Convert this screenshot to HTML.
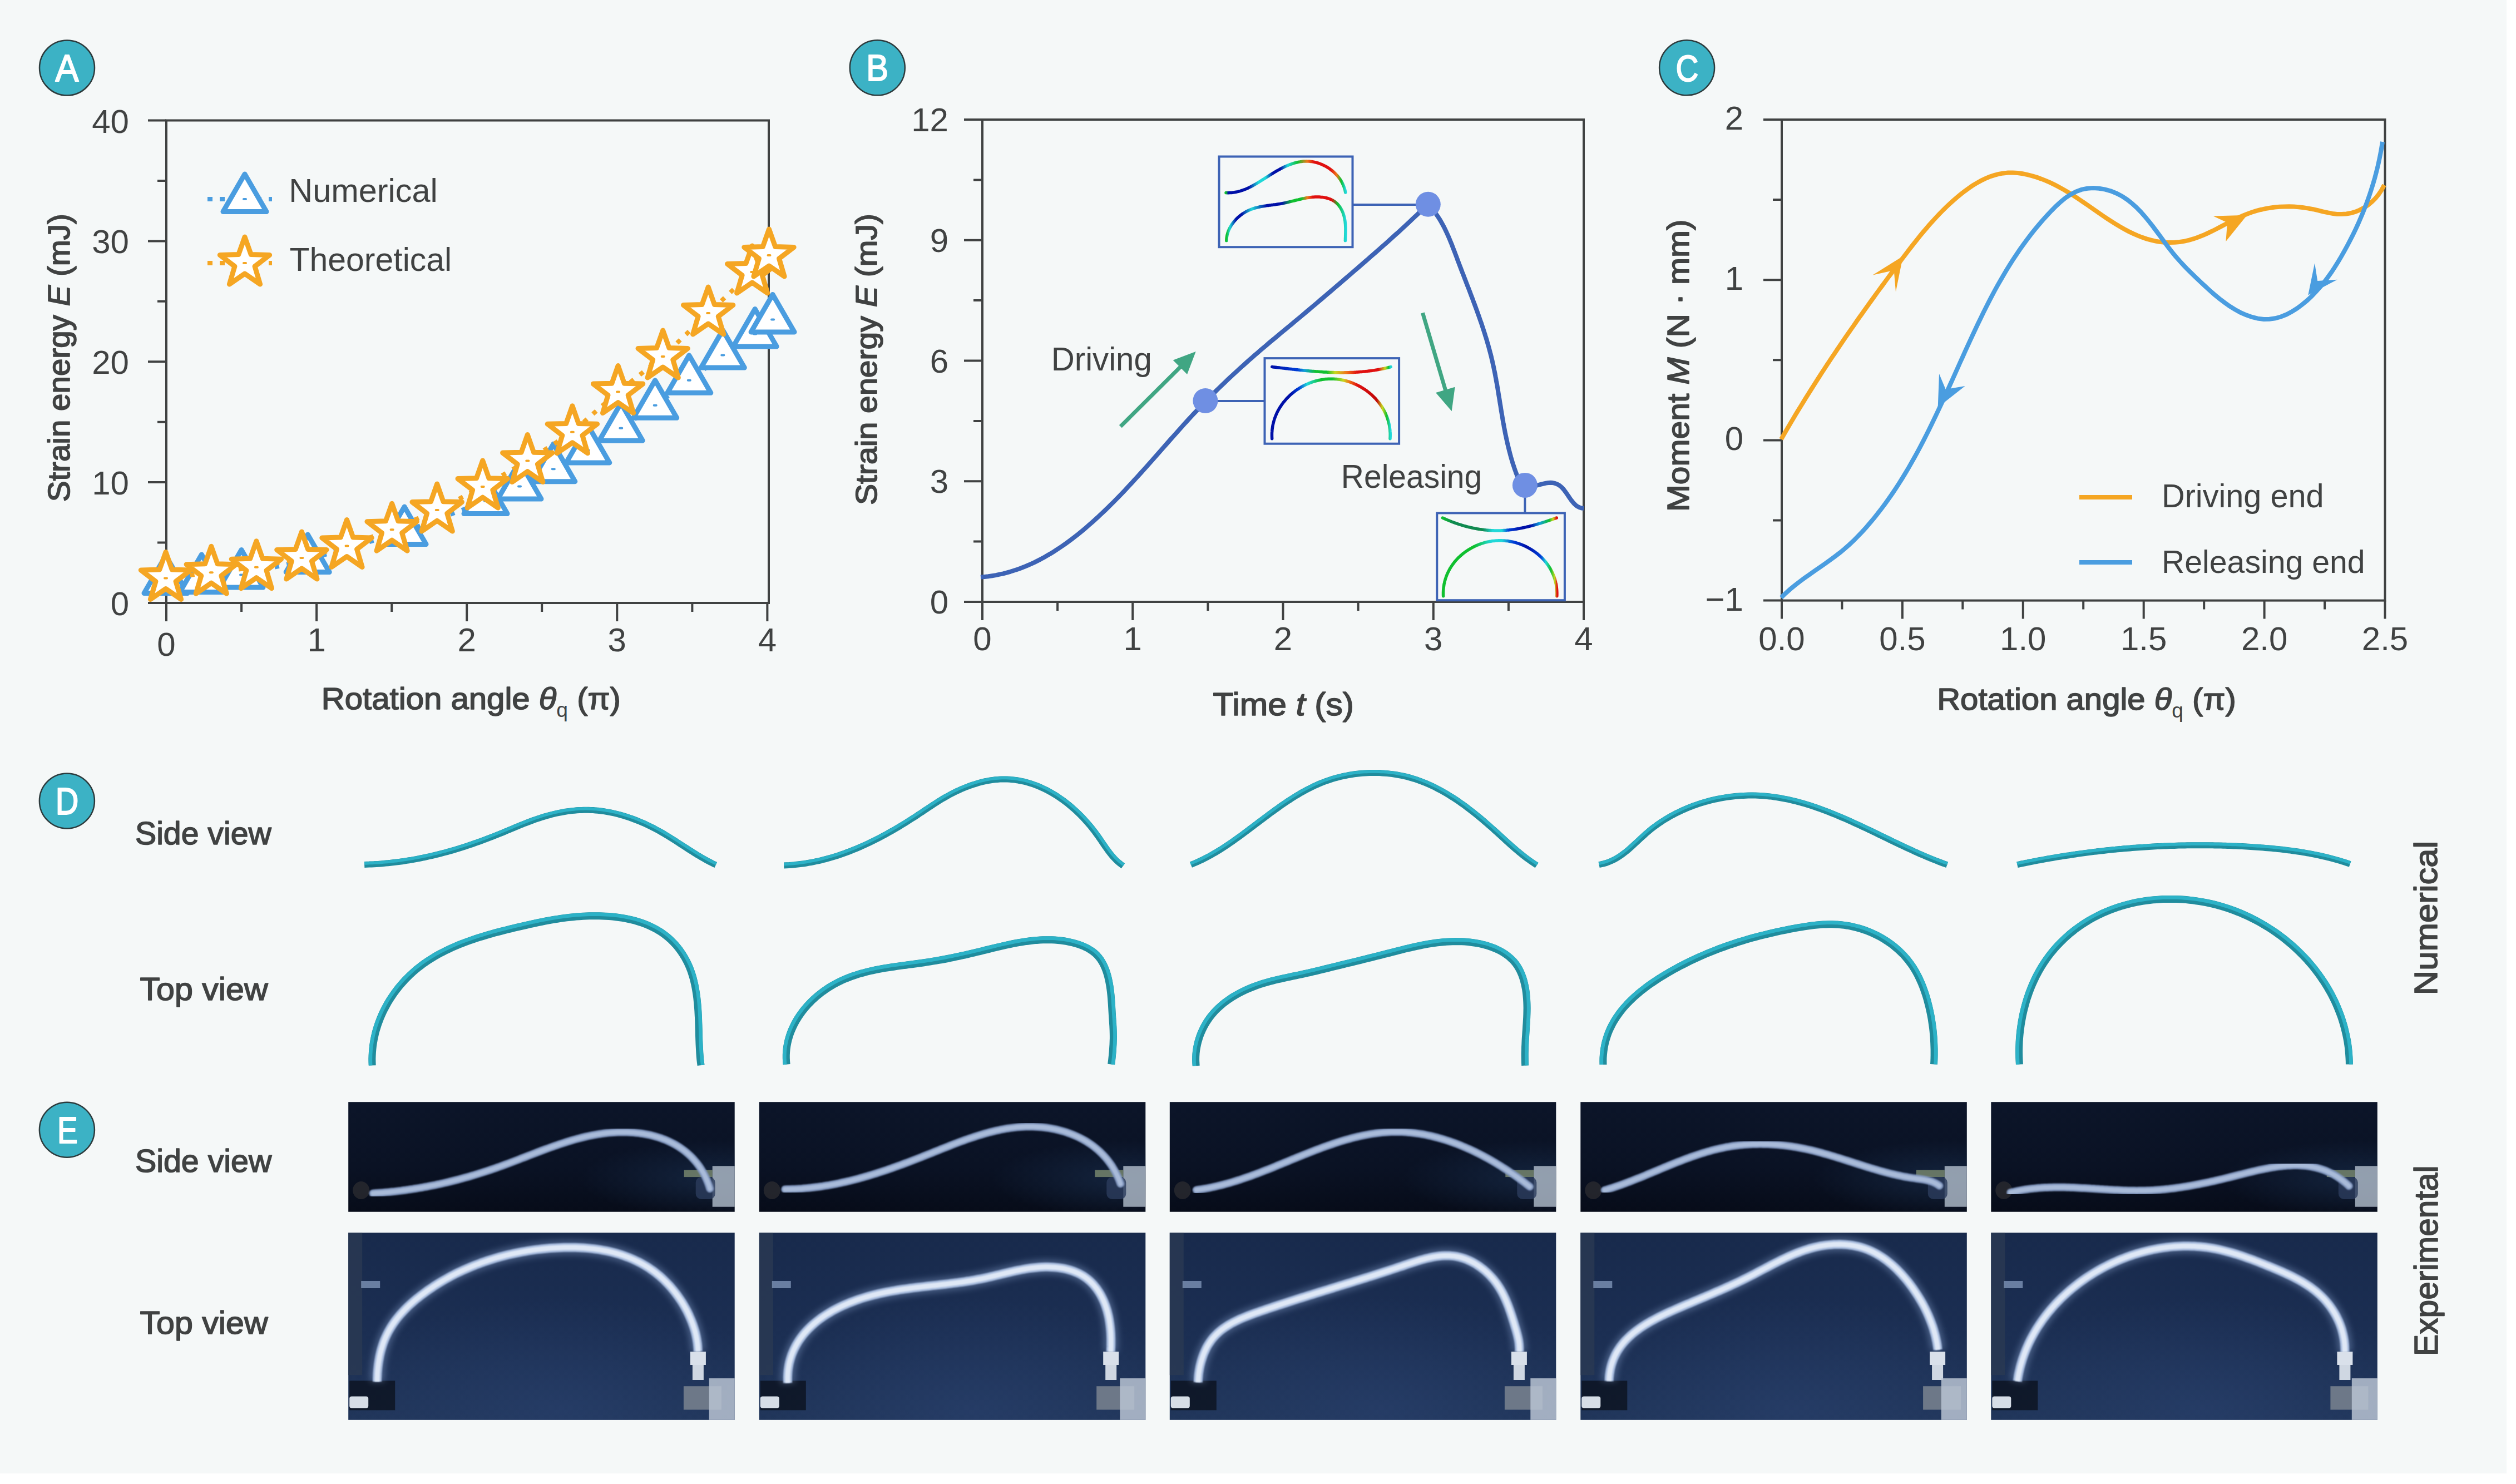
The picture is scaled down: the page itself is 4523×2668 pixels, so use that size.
<!DOCTYPE html><html><head><meta charset="utf-8"><title>Figure</title><style>html,body{margin:0;padding:0;background:#fff;overflow:hidden}svg{display:block;font-family:"Liberation Sans",sans-serif}</style></head><body>
<svg width="4523" height="2668" viewBox="0 0 4523 2668">
<rect x="0" y="0" width="4506" height="2649" fill="#f5f8f8"/>
<circle cx="120.5" cy="122.0" r="49.5" fill="#3cb2c5" stroke="#2d3b3d" stroke-width="2.5"/>
<text x="99.5" y="145.9" font-size="68.55" font-weight="400" fill="#ffffff" stroke="#ffffff" stroke-width="2.00" stroke-linejoin="round" textLength="42.0" lengthAdjust="spacingAndGlyphs">A</text>
<g stroke="#404242" stroke-width="4.0" fill="none" stroke-linecap="butt">
<rect x="299.0" y="216.5" width="1083.0" height="867.5"/>
<path d="M299.0,1084.0V1117.0M569.1,1084.0V1117.0M839.2,1084.0V1117.0M1109.3,1084.0V1117.0M1379.4,1084.0V1117.0M434.1,1084.0V1100.0M704.2,1084.0V1100.0M974.2,1084.0V1100.0M1244.4,1084.0V1100.0M299.0,1084.0H266.0M299.0,867.1H266.0M299.0,650.2H266.0M299.0,433.4H266.0M299.0,216.5H266.0M299.0,975.6H283.0M299.0,758.7H283.0M299.0,541.8H283.0M299.0,324.9H283.0"/>
</g>
<text x="232.0" y="1106.0" font-size="60.0" font-weight="400" text-anchor="end" fill="#404242" >0</text>
<text x="232.0" y="889.1" font-size="60.0" font-weight="400" text-anchor="end" fill="#404242" >10</text>
<text x="232.0" y="672.2" font-size="60.0" font-weight="400" text-anchor="end" fill="#404242" >20</text>
<text x="232.0" y="455.4" font-size="60.0" font-weight="400" text-anchor="end" fill="#404242" >30</text>
<text x="232.0" y="238.5" font-size="60.0" font-weight="400" text-anchor="end" fill="#404242" >40</text>
<text x="299.0" y="1179.0" font-size="60.0" font-weight="400" text-anchor="middle" fill="#404242" >0</text>
<text x="569.1" y="1171.0" font-size="60.0" font-weight="400" text-anchor="middle" fill="#404242" >1</text>
<text x="839.2" y="1171.0" font-size="60.0" font-weight="400" text-anchor="middle" fill="#404242" >2</text>
<text x="1109.3" y="1171.0" font-size="60.0" font-weight="400" text-anchor="middle" fill="#404242" >3</text>
<text x="1379.4" y="1171.0" font-size="60.0" font-weight="400" text-anchor="middle" fill="#404242" >4</text>
<path d="M298.0,1044.0 L362.4,1042.0 L434.0,1033.5 L553.2,1006.0 L727.0,956.0 L873.0,901.0 L934.0,874.5 L994.8,843.2 L1056.8,809.4 L1116.3,769.7 L1177.7,728.8 L1238.8,683.8 L1299.3,638.6 L1357.2,600.5 L1389.1,574.4" fill="none" stroke="#4a9de0" stroke-width="8" stroke-dasharray="8 14"/>
<path d="M298.0,999.0 L337.0,1066.5 L259.0,1066.5Z" fill="#ffffff" stroke="#4a9de0" stroke-width="9" stroke-linejoin="round"/>
<rect x="294.0" y="1042.0" width="8" height="4" rx="2" fill="#4a9de0"/>
<path d="M362.4,997.0 L401.4,1064.5 L323.4,1064.5Z" fill="#ffffff" stroke="#4a9de0" stroke-width="9" stroke-linejoin="round"/>
<rect x="358.4" y="1040.0" width="8" height="4" rx="2" fill="#4a9de0"/>
<path d="M434.0,988.5 L473.0,1056.0 L395.0,1056.0Z" fill="#ffffff" stroke="#4a9de0" stroke-width="9" stroke-linejoin="round"/>
<rect x="430.0" y="1031.5" width="8" height="4" rx="2" fill="#4a9de0"/>
<path d="M553.2,961.0 L592.2,1028.5 L514.2,1028.5Z" fill="#ffffff" stroke="#4a9de0" stroke-width="9" stroke-linejoin="round"/>
<rect x="549.2" y="1004.0" width="8" height="4" rx="2" fill="#4a9de0"/>
<path d="M727.0,911.0 L766.0,978.5 L688.0,978.5Z" fill="#ffffff" stroke="#4a9de0" stroke-width="9" stroke-linejoin="round"/>
<rect x="723.0" y="954.0" width="8" height="4" rx="2" fill="#4a9de0"/>
<path d="M873.0,856.0 L912.0,923.5 L834.0,923.5Z" fill="#ffffff" stroke="#4a9de0" stroke-width="9" stroke-linejoin="round"/>
<rect x="869.0" y="899.0" width="8" height="4" rx="2" fill="#4a9de0"/>
<path d="M934.0,829.5 L973.0,897.0 L895.0,897.0Z" fill="#ffffff" stroke="#4a9de0" stroke-width="9" stroke-linejoin="round"/>
<rect x="930.0" y="872.5" width="8" height="4" rx="2" fill="#4a9de0"/>
<path d="M994.8,798.2 L1033.8,865.7 L955.8,865.7Z" fill="#ffffff" stroke="#4a9de0" stroke-width="9" stroke-linejoin="round"/>
<rect x="990.8" y="841.2" width="8" height="4" rx="2" fill="#4a9de0"/>
<path d="M1056.8,764.4 L1095.8,831.9 L1017.8,831.9Z" fill="#ffffff" stroke="#4a9de0" stroke-width="9" stroke-linejoin="round"/>
<rect x="1052.8" y="807.4" width="8" height="4" rx="2" fill="#4a9de0"/>
<path d="M1116.3,724.7 L1155.3,792.2 L1077.3,792.2Z" fill="#ffffff" stroke="#4a9de0" stroke-width="9" stroke-linejoin="round"/>
<rect x="1112.3" y="767.7" width="8" height="4" rx="2" fill="#4a9de0"/>
<path d="M1177.7,683.8 L1216.7,751.3 L1138.7,751.3Z" fill="#ffffff" stroke="#4a9de0" stroke-width="9" stroke-linejoin="round"/>
<rect x="1173.7" y="726.8" width="8" height="4" rx="2" fill="#4a9de0"/>
<path d="M1238.8,638.8 L1277.8,706.3 L1199.8,706.3Z" fill="#ffffff" stroke="#4a9de0" stroke-width="9" stroke-linejoin="round"/>
<rect x="1234.8" y="681.8" width="8" height="4" rx="2" fill="#4a9de0"/>
<path d="M1299.3,593.6 L1338.3,661.1 L1260.3,661.1Z" fill="#ffffff" stroke="#4a9de0" stroke-width="9" stroke-linejoin="round"/>
<rect x="1295.3" y="636.6" width="8" height="4" rx="2" fill="#4a9de0"/>
<path d="M1357.2,555.5 L1396.2,623.0 L1318.2,623.0Z" fill="#ffffff" stroke="#4a9de0" stroke-width="9" stroke-linejoin="round"/>
<rect x="1353.2" y="598.5" width="8" height="4" rx="2" fill="#4a9de0"/>
<path d="M1389.1,529.4 L1428.1,596.9 L1350.1,596.9Z" fill="#ffffff" stroke="#4a9de0" stroke-width="9" stroke-linejoin="round"/>
<rect x="1385.1" y="572.4" width="8" height="4" rx="2" fill="#4a9de0"/>
<path d="M298.0,1039.5 L379.8,1029.2 L460.9,1019.7 L542.4,1003.0 L623.5,981.5 L704.6,952.2 L785.7,917.1 L867.7,875.1 L948.3,828.6 L1028.9,776.8 L1111.1,704.6 L1191.7,641.0 L1273.2,563.0 L1352.2,489.0 L1382.5,459.0" fill="none" stroke="#f5a623" stroke-width="8" stroke-dasharray="8 14"/>
<path d="M298.0,992.5 L309.2,1024.1 L342.7,1025.0 L316.1,1045.4 L325.6,1077.5 L298.0,1058.5 L270.4,1077.5 L279.9,1045.4 L253.3,1025.0 L286.8,1024.1Z" fill="#ffffff" stroke="#f5a623" stroke-width="9" stroke-linejoin="round"/>
<rect x="294.0" y="1037.5" width="8" height="4" rx="2" fill="#f5a623"/>
<path d="M379.8,982.2 L391.0,1013.8 L424.5,1014.7 L397.9,1035.1 L407.4,1067.2 L379.8,1048.2 L352.2,1067.2 L361.7,1035.1 L335.1,1014.7 L368.6,1013.8Z" fill="#ffffff" stroke="#f5a623" stroke-width="9" stroke-linejoin="round"/>
<rect x="375.8" y="1027.2" width="8" height="4" rx="2" fill="#f5a623"/>
<path d="M460.9,972.7 L472.1,1004.3 L505.6,1005.2 L479.0,1025.6 L488.5,1057.7 L460.9,1038.7 L433.3,1057.7 L442.8,1025.6 L416.2,1005.2 L449.7,1004.3Z" fill="#ffffff" stroke="#f5a623" stroke-width="9" stroke-linejoin="round"/>
<rect x="456.9" y="1017.7" width="8" height="4" rx="2" fill="#f5a623"/>
<path d="M542.4,956.0 L553.6,987.6 L587.1,988.5 L560.5,1008.9 L570.0,1041.0 L542.4,1022.0 L514.8,1041.0 L524.3,1008.9 L497.7,988.5 L531.2,987.6Z" fill="#ffffff" stroke="#f5a623" stroke-width="9" stroke-linejoin="round"/>
<rect x="538.4" y="1001.0" width="8" height="4" rx="2" fill="#f5a623"/>
<path d="M623.5,934.5 L634.7,966.1 L668.2,967.0 L641.6,987.4 L651.1,1019.5 L623.5,1000.5 L595.9,1019.5 L605.4,987.4 L578.8,967.0 L612.3,966.1Z" fill="#ffffff" stroke="#f5a623" stroke-width="9" stroke-linejoin="round"/>
<rect x="619.5" y="979.5" width="8" height="4" rx="2" fill="#f5a623"/>
<path d="M704.6,905.2 L715.8,936.8 L749.3,937.7 L722.7,958.1 L732.2,990.2 L704.6,971.2 L677.0,990.2 L686.5,958.1 L659.9,937.7 L693.4,936.8Z" fill="#ffffff" stroke="#f5a623" stroke-width="9" stroke-linejoin="round"/>
<rect x="700.6" y="950.2" width="8" height="4" rx="2" fill="#f5a623"/>
<path d="M785.7,870.1 L796.9,901.7 L830.4,902.6 L803.8,923.0 L813.3,955.1 L785.7,936.1 L758.1,955.1 L767.6,923.0 L741.0,902.6 L774.5,901.7Z" fill="#ffffff" stroke="#f5a623" stroke-width="9" stroke-linejoin="round"/>
<rect x="781.7" y="915.1" width="8" height="4" rx="2" fill="#f5a623"/>
<path d="M867.7,828.1 L878.9,859.7 L912.4,860.6 L885.8,881.0 L895.3,913.1 L867.7,894.1 L840.1,913.1 L849.6,881.0 L823.0,860.6 L856.5,859.7Z" fill="#ffffff" stroke="#f5a623" stroke-width="9" stroke-linejoin="round"/>
<rect x="863.7" y="873.1" width="8" height="4" rx="2" fill="#f5a623"/>
<path d="M948.3,781.6 L959.5,813.2 L993.0,814.1 L966.4,834.5 L975.9,866.6 L948.3,847.6 L920.7,866.6 L930.2,834.5 L903.6,814.1 L937.1,813.2Z" fill="#ffffff" stroke="#f5a623" stroke-width="9" stroke-linejoin="round"/>
<rect x="944.3" y="826.6" width="8" height="4" rx="2" fill="#f5a623"/>
<path d="M1028.9,729.8 L1040.1,761.4 L1073.6,762.3 L1047.0,782.7 L1056.5,814.8 L1028.9,795.8 L1001.3,814.8 L1010.8,782.7 L984.2,762.3 L1017.7,761.4Z" fill="#ffffff" stroke="#f5a623" stroke-width="9" stroke-linejoin="round"/>
<rect x="1024.9" y="774.8" width="8" height="4" rx="2" fill="#f5a623"/>
<path d="M1111.1,657.6 L1122.3,689.2 L1155.8,690.1 L1129.2,710.5 L1138.7,742.6 L1111.1,723.6 L1083.5,742.6 L1093.0,710.5 L1066.4,690.1 L1099.9,689.2Z" fill="#ffffff" stroke="#f5a623" stroke-width="9" stroke-linejoin="round"/>
<rect x="1107.1" y="702.6" width="8" height="4" rx="2" fill="#f5a623"/>
<path d="M1191.7,594.0 L1202.9,625.6 L1236.4,626.5 L1209.8,646.9 L1219.3,679.0 L1191.7,660.0 L1164.1,679.0 L1173.6,646.9 L1147.0,626.5 L1180.5,625.6Z" fill="#ffffff" stroke="#f5a623" stroke-width="9" stroke-linejoin="round"/>
<rect x="1187.7" y="639.0" width="8" height="4" rx="2" fill="#f5a623"/>
<path d="M1273.2,516.0 L1284.4,547.6 L1317.9,548.5 L1291.3,568.9 L1300.8,601.0 L1273.2,582.0 L1245.6,601.0 L1255.1,568.9 L1228.5,548.5 L1262.0,547.6Z" fill="#ffffff" stroke="#f5a623" stroke-width="9" stroke-linejoin="round"/>
<rect x="1269.2" y="561.0" width="8" height="4" rx="2" fill="#f5a623"/>
<path d="M1352.2,442.0 L1363.4,473.6 L1396.9,474.5 L1370.3,494.9 L1379.8,527.0 L1352.2,508.0 L1324.6,527.0 L1334.1,494.9 L1307.5,474.5 L1341.0,473.6Z" fill="#ffffff" stroke="#f5a623" stroke-width="9" stroke-linejoin="round"/>
<rect x="1348.2" y="487.0" width="8" height="4" rx="2" fill="#f5a623"/>
<path d="M1382.5,412.0 L1393.7,443.6 L1427.2,444.5 L1400.6,464.9 L1410.1,497.0 L1382.5,478.0 L1354.9,497.0 L1364.4,464.9 L1337.8,444.5 L1371.3,443.6Z" fill="#ffffff" stroke="#f5a623" stroke-width="9" stroke-linejoin="round"/>
<rect x="1378.5" y="457.0" width="8" height="4" rx="2" fill="#f5a623"/>
<path d="M373,358 H489" stroke="#4a9de0" stroke-width="8" stroke-dasharray="9 13"/>
<path d="M440.0,313.0 L479.0,380.5 L401.0,380.5Z" fill="#ffffff" stroke="#4a9de0" stroke-width="9" stroke-linejoin="round"/>
<rect x="436" y="356" width="8" height="4" rx="2" fill="#4a9de0"/>
<path d="M373,473 H489" stroke="#f5a623" stroke-width="8" stroke-dasharray="9 13"/>
<path d="M440.0,426.0 L451.2,457.6 L484.7,458.5 L458.1,478.9 L467.6,511.0 L440.0,492.0 L412.4,511.0 L421.9,478.9 L395.3,458.5 L428.8,457.6Z" fill="#ffffff" stroke="#f5a623" stroke-width="9" stroke-linejoin="round"/>
<rect x="436" y="471" width="8" height="4" rx="2" fill="#f5a623"/>
<text x="519.3" y="362.6" font-size="59.28" font-weight="400" fill="#404242" textLength="267.5" lengthAdjust="spacingAndGlyphs">Numerical</text>
<text x="520.5" y="486.5" font-size="60.14" font-weight="400" fill="#404242" textLength="291.6" lengthAdjust="spacingAndGlyphs">Theoretical</text>
<text transform="translate(125.2,900.2) rotate(-90)" x="-2.1" y="0" font-size="55.07" font-weight="400" fill="#404242" stroke="#404242" stroke-width="1.60" stroke-linejoin="round" textLength="518.2" lengthAdjust="spacingAndGlyphs">Strain energy <tspan font-style="italic">E</tspan> (mJ)</text>
<text x="577.8" y="1275.3" font-size="56.23" font-weight="400" fill="#404242" stroke="#404242" stroke-width="1.60" stroke-linejoin="round" textLength="538.2" lengthAdjust="spacingAndGlyphs">Rotation angle <tspan font-style="italic">θ</tspan><tspan font-size="36" dy="14" stroke-width="0">q</tspan><tspan dy="-14"> (π)</tspan></text>
<circle cx="1577.3" cy="121.8" r="49.5" fill="#3cb2c5" stroke="#2d3b3d" stroke-width="2.5"/>
<text x="1557.2" y="144.9" font-size="66.38" font-weight="400" fill="#ffffff" stroke="#ffffff" stroke-width="2.00" stroke-linejoin="round" textLength="39.8" lengthAdjust="spacingAndGlyphs">B</text>
<g stroke="#404242" stroke-width="4.0" fill="none" stroke-linecap="butt">
<rect x="1766.0" y="215.0" width="1081.0" height="867.0"/>
<path d="M1766.0,1082.0V1115.0M2036.2,1082.0V1115.0M2306.5,1082.0V1115.0M2576.8,1082.0V1115.0M2847.0,1082.0V1115.0M1901.1,1082.0V1098.0M2171.4,1082.0V1098.0M2441.6,1082.0V1098.0M2711.9,1082.0V1098.0M1766.0,1082.0H1733.0M1766.0,865.2H1733.0M1766.0,648.5H1733.0M1766.0,431.8H1733.0M1766.0,215.0H1733.0M1766.0,973.6H1750.0M1766.0,756.9H1750.0M1766.0,540.1H1750.0M1766.0,323.4H1750.0"/>
</g>
<text x="1705.0" y="1103.0" font-size="60.0" font-weight="400" text-anchor="end" fill="#404242" >0</text>
<text x="1705.0" y="886.2" font-size="60.0" font-weight="400" text-anchor="end" fill="#404242" >3</text>
<text x="1705.0" y="669.5" font-size="60.0" font-weight="400" text-anchor="end" fill="#404242" >6</text>
<text x="1705.0" y="452.8" font-size="60.0" font-weight="400" text-anchor="end" fill="#404242" >9</text>
<text x="1705.0" y="236.0" font-size="60.0" font-weight="400" text-anchor="end" fill="#404242" >12</text>
<text x="1766.0" y="1169.0" font-size="60.0" font-weight="400" text-anchor="middle" fill="#404242" >0</text>
<text x="2036.2" y="1169.0" font-size="60.0" font-weight="400" text-anchor="middle" fill="#404242" >1</text>
<text x="2306.5" y="1169.0" font-size="60.0" font-weight="400" text-anchor="middle" fill="#404242" >2</text>
<text x="2576.8" y="1169.0" font-size="60.0" font-weight="400" text-anchor="middle" fill="#404242" >3</text>
<text x="2847.0" y="1169.0" font-size="60.0" font-weight="400" text-anchor="middle" fill="#404242" >4</text>
<text transform="translate(1576.2,906.0) rotate(-90)" x="-2.1" y="0" font-size="54.20" font-weight="400" fill="#404242" stroke="#404242" stroke-width="1.60" stroke-linejoin="round" textLength="524.2" lengthAdjust="spacingAndGlyphs">Strain energy <tspan font-style="italic">E</tspan> (mJ)</text>
<text x="2180.5" y="1286.2" font-size="56.81" font-weight="400" fill="#404242" stroke="#404242" stroke-width="1.60" stroke-linejoin="round" textLength="253.5" lengthAdjust="spacingAndGlyphs">Time <tspan font-style="italic">t</tspan> (s)</text>
<g fill="none" stroke="#3d63b5" stroke-width="4">
<path d="M2431.5,368 H2567 M2167,721 H2273.5 M2741.4,872 V922.4"/>
<rect x="2191.5" y="281.5" width="240" height="162.7"/>
<rect x="2273.5" y="644.1" width="241.6" height="153.6"/>
<rect x="2583.3" y="922.4" width="229.6" height="156.8"/>
</g>
<path d="M1763.0,1037.5 L1769.9,1036.9 L1776.7,1036.2 L1783.5,1035.2 L1790.2,1034.1 L1796.8,1032.7 L1803.3,1031.3 L1809.8,1029.6 L1816.2,1027.8 L1822.6,1025.8 L1828.9,1023.7 L1835.1,1021.5 L1841.3,1019.1 L1847.4,1016.5 L1853.5,1013.9 L1859.5,1011.1 L1865.4,1008.1 L1871.3,1005.1 L1877.1,1001.9 L1882.9,998.6 L1888.6,995.3 L1894.2,991.8 L1899.8,988.2 L1905.4,984.5 L1910.9,980.8 L1916.3,976.9 L1921.7,973.0 L1927.1,969.0 L1932.4,964.9 L1937.6,960.8 L1942.8,956.6 L1948.0,952.3 L1953.1,948.0 L1958.1,943.6 L1963.1,939.2 L1968.1,934.7 L1973.0,930.3 L1977.9,925.7 L1982.8,921.1 L1987.6,916.5 L1992.4,911.9 L1997.1,907.2 L2001.9,902.5 L2006.5,897.8 L2011.2,893.0 L2015.8,888.2 L2020.4,883.4 L2025.0,878.5 L2029.6,873.6 L2034.1,868.8 L2038.6,863.8 L2043.1,858.9 L2047.6,854.0 L2052.1,849.0 L2056.5,844.1 L2061.0,839.1 L2065.4,834.1 L2069.9,829.1 L2074.3,824.1 L2078.7,819.1 L2083.1,814.1 L2087.5,809.1 L2091.9,804.1 L2096.4,799.0 L2100.8,794.0 L2105.2,789.0 L2109.6,784.1 L2114.1,779.1 L2118.5,774.1 L2123.0,769.1 L2127.4,764.2 L2131.9,759.2 L2136.4,754.3 L2140.9,749.4 L2145.4,744.6 L2150.0,739.7 L2154.6,734.9 L2159.2,730.0 L2163.8,725.3 L2168.4,720.5 L2173.1,715.7 L2177.8,711.0 L2182.5,706.3 L2187.2,701.7 L2192.0,697.0 L2196.8,692.4 L2201.6,687.8 L2206.4,683.2 L2211.2,678.6 L2216.1,674.1 L2221.0,669.6 L2225.9,665.1 L2230.8,660.6 L2235.8,656.2 L2240.7,651.7 L2245.7,647.3 L2250.7,642.9 L2255.7,638.5 L2260.8,634.2 L2265.8,629.8 L2270.9,625.5 L2276.0,621.2 L2281.0,616.9 L2286.1,612.6 L2291.3,608.3 L2296.4,604.1 L2301.5,599.8 L2306.6,595.5 L2311.7,591.3 L2316.9,587.0 L2322.0,582.8 L2327.1,578.5 L2332.2,574.2 L2337.4,570.0 L2342.5,565.7 L2347.6,561.4 L2352.7,557.1 L2357.8,552.8 L2362.9,548.5 L2368.0,544.2 L2373.0,539.9 L2378.1,535.6 L2383.2,531.2 L2388.3,526.9 L2393.3,522.6 L2398.4,518.2 L2403.5,513.9 L2408.5,509.6 L2413.6,505.2 L2418.6,500.9 L2423.7,496.5 L2428.7,492.2 L2433.8,487.8 L2438.8,483.5 L2443.9,479.1 L2448.9,474.7 L2453.9,470.4 L2459.0,466.0 L2464.0,461.6 L2469.0,457.2 L2474.0,452.9 L2479.0,448.5 L2484.0,444.1 L2489.0,439.6 L2494.0,435.2 L2498.9,430.8 L2503.9,426.3 L2508.8,421.8 L2513.8,417.4 L2518.7,412.9 L2523.6,408.4 L2528.5,403.8 L2533.3,399.3 L2538.2,394.7 L2543.0,390.1 L2547.9,385.6 L2552.7,380.9 L2557.5,376.3 L2562.2,371.6 L2567.0,367.0" fill="none" stroke="#3d63b5" stroke-width="8" stroke-linejoin="round"/>
<path d="M2567.4,367.1 L2570.3,370.3 L2573.1,373.5 L2575.8,376.8 L2578.4,380.1 L2580.8,383.4 L2583.2,386.9 L2585.5,390.3 L2587.8,393.9 L2589.9,397.4 L2591.9,401.0 L2593.9,404.7 L2595.9,408.3 L2597.7,412.0 L2599.5,415.8 L2601.3,419.6 L2603.0,423.4 L2604.7,427.2 L2606.3,431.0 L2607.9,434.9 L2609.5,438.8 L2611.0,442.7 L2612.5,446.6 L2614.0,450.5 L2615.5,454.4 L2617.0,458.4 L2618.5,462.3 L2619.9,466.3 L2621.4,470.2 L2622.9,474.1 L2624.4,478.1 L2625.9,482.0 L2627.4,486.0 L2628.9,489.9 L2630.5,493.8 L2632.0,497.8 L2633.5,501.7 L2635.0,505.6 L2636.5,509.6 L2638.0,513.5 L2639.6,517.4 L2641.1,521.4 L2642.6,525.3 L2644.1,529.3 L2645.6,533.2 L2647.1,537.1 L2648.5,541.1 L2650.0,545.0 L2651.5,549.0 L2652.9,552.9 L2654.4,556.9 L2655.8,560.8 L2657.2,564.8 L2658.6,568.7 L2660.0,572.7 L2661.4,576.7 L2662.8,580.6 L2664.1,584.6 L2665.4,588.6 L2666.7,592.6 L2668.0,596.5 L2669.3,600.5 L2670.5,604.5 L2671.8,608.5 L2673.0,612.5 L2674.1,616.5 L2675.3,620.5 L2676.4,624.5 L2677.5,628.6 L2678.6,632.6 L2679.6,636.6 L2680.7,640.6 L2681.6,644.7 L2682.6,648.7 L2683.5,652.8 L2684.4,656.8 L2685.3,660.9 L2686.1,665.0 L2687.0,669.1 L2687.8,673.1 L2688.5,677.2 L2689.3,681.3 L2690.0,685.4 L2690.8,689.5 L2691.5,693.6 L2692.2,697.7 L2692.9,701.8 L2693.5,705.9 L2694.2,710.1 L2694.9,714.2 L2695.6,718.3 L2696.2,722.4 L2696.9,726.6 L2697.6,730.7 L2698.2,734.8 L2698.9,739.0 L2699.6,743.1 L2700.3,747.3 L2701.0,751.4 L2701.7,755.5 L2702.4,759.7 L2703.2,763.8 L2703.9,768.0 L2704.7,772.1 L2705.5,776.3 L2706.3,780.4 L2707.2,784.5 L2708.1,788.7 L2709.0,792.8 L2709.9,797.0 L2710.9,801.1 L2711.9,805.3 L2712.9,809.4 L2714.0,813.5 L2715.1,817.7 L2716.2,821.8 L2717.4,825.9 L2718.6,830.0 L2719.9,834.2 L2721.3,838.3 L2722.6,842.4 L2724.1,846.5 L2725.5,850.6 L2727.1,854.6 L2728.8,858.5 L2730.8,862.1 L2732.9,865.4 L2735.4,868.2 L2738.1,870.6 L2741.3,872.3 L2744.8,873.4 L2748.7,873.9 L2752.8,874.0 L2757.2,873.6 L2761.6,872.8 L2766.0,871.8 L2770.5,870.7 L2774.9,869.6 L2779.2,868.6 L2783.5,868.0 L2787.6,867.7 L2791.5,868.1 L2795.3,868.9 L2798.9,870.2 L2802.3,872.0 L2805.5,874.4 L2808.5,877.2 L2811.3,880.3 L2813.9,883.8 L2816.5,887.5 L2819.1,891.2 L2821.6,895.0 L2824.2,898.7 L2826.9,902.1 L2829.7,905.4 L2832.6,908.2 L2835.8,910.5 L2839.3,912.3 L2843.0,913.5 L2847.1,913.8" fill="none" stroke="#3d63b5" stroke-width="8" stroke-linejoin="round"/>
<circle cx="2166.9" cy="720.5" r="22.5" fill="#6f8fe3"/>
<circle cx="2567.3" cy="367.3" r="22.5" fill="#6f8fe3"/>
<circle cx="2741.4" cy="872.4" r="22.5" fill="#6f8fe3"/>
<defs><linearGradient id="rb1" gradientUnits="userSpaceOnUse" x1="2204.0" y1="0" x2="2418.6" y2="0"><stop offset="0.000" stop-color="#10c030"/><stop offset="0.019" stop-color="#0010a8"/><stop offset="0.191" stop-color="#0010a8"/><stop offset="0.270" stop-color="#20d8d8"/><stop offset="0.331" stop-color="#20d8d8"/><stop offset="0.391" stop-color="#0010a8"/><stop offset="0.457" stop-color="#0010a8"/><stop offset="0.517" stop-color="#20d8d8"/><stop offset="0.601" stop-color="#10c030"/><stop offset="0.680" stop-color="#f07818"/><stop offset="0.736" stop-color="#e01010"/><stop offset="0.876" stop-color="#e01010"/><stop offset="0.927" stop-color="#f07818"/><stop offset="0.965" stop-color="#10c030"/><stop offset="1.000" stop-color="#20d8d8"/></linearGradient></defs>
<path d="M2204.0,346.6 L2205.8,346.7 L2207.4,346.7 L2209.1,346.7 L2210.8,346.6 L2212.4,346.5 L2214.1,346.4 L2215.7,346.2 L2217.3,346.0 L2218.9,345.8 L2220.5,345.5 L2222.0,345.2 L2223.6,344.9 L2225.1,344.6 L2226.7,344.2 L2228.2,343.8 L2229.7,343.4 L2231.2,342.9 L2232.7,342.4 L2234.2,341.9 L2235.6,341.4 L2237.1,340.8 L2238.6,340.3 L2240.0,339.7 L2241.4,339.1 L2242.9,338.4 L2244.3,337.8 L2245.7,337.1 L2247.1,336.4 L2248.5,335.7 L2249.9,335.0 L2251.3,334.2 L2252.7,333.5 L2254.1,332.7 L2255.5,331.9 L2256.8,331.2 L2258.2,330.4 L2259.6,329.5 L2261.0,328.7 L2262.3,327.9 L2263.7,327.0 L2265.0,326.2 L2266.4,325.3 L2267.8,324.5 L2269.1,323.6 L2270.5,322.7 L2271.9,321.9 L2273.2,321.0 L2274.6,320.1 L2275.9,319.2 L2277.3,318.4 L2278.7,317.5 L2280.1,316.6 L2281.4,315.7 L2282.8,314.8 L2284.2,314.0 L2285.6,313.1 L2287.0,312.2 L2288.4,311.4 L2289.8,310.5 L2291.2,309.7 L2292.6,308.8 L2294.0,308.0 L2295.4,307.2 L2296.8,306.4 L2298.3,305.6 L2299.7,304.8 L2301.1,304.0 L2302.6,303.3 L2304.0,302.5 L2305.5,301.8 L2306.9,301.0 L2308.4,300.3 L2309.8,299.6 L2311.3,299.0 L2312.8,298.3 L2314.2,297.7 L2315.7,297.1 L2317.2,296.5 L2318.7,295.9 L2320.2,295.3 L2321.7,294.8 L2323.1,294.3 L2324.6,293.8 L2326.1,293.3 L2327.6,292.9 L2329.2,292.5 L2330.7,292.1 L2332.2,291.8 L2333.7,291.4 L2335.2,291.1 L2336.7,290.9 L2338.2,290.6 L2339.8,290.4 L2341.3,290.2 L2342.8,290.1 L2344.4,290.0 L2345.9,289.9 L2347.4,289.9 L2349.0,289.8 L2350.5,289.9 L2352.1,289.9 L2353.6,290.0 L2355.2,290.2 L2356.7,290.4 L2358.3,290.6 L2359.8,290.8 L2361.4,291.1 L2362.9,291.4 L2364.5,291.8 L2366.0,292.2 L2367.5,292.6 L2369.1,293.0 L2370.6,293.5 L2372.1,294.1 L2373.6,294.6 L2375.1,295.2 L2376.6,295.8 L2378.0,296.5 L2379.5,297.2 L2381.0,297.9 L2382.4,298.6 L2383.8,299.4 L2385.2,300.2 L2386.6,301.1 L2388.0,301.9 L2389.3,302.8 L2390.7,303.7 L2392.0,304.7 L2393.3,305.7 L2394.6,306.7 L2395.8,307.7 L2397.1,308.8 L2398.3,309.9 L2399.4,311.0 L2400.6,312.1 L2401.7,313.3 L2402.8,314.5 L2403.9,315.7 L2405.0,316.9 L2406.0,318.2 L2407.0,319.4 L2407.9,320.7 L2408.9,322.1 L2409.8,323.4 L2410.6,324.8 L2411.5,326.2 L2412.2,327.6 L2413.0,329.0 L2413.7,330.5 L2414.4,332.0 L2415.0,333.5 L2415.7,335.0 L2416.2,336.5 L2416.7,338.1 L2417.2,339.6 L2417.7,341.2 L2418.1,342.8 L2418.4,344.5 L2418.7,346.1" fill="none" stroke="url(#rb1)" stroke-width="5.5" stroke-linecap="round"/>
<defs><linearGradient id="rb2" gradientUnits="userSpaceOnUse" x1="2204.9" y1="0" x2="2418.6" y2="0"><stop offset="0.000" stop-color="#10c030"/><stop offset="0.029" stop-color="#20d8d8"/><stop offset="0.080" stop-color="#0010a8"/><stop offset="0.127" stop-color="#0010a8"/><stop offset="0.211" stop-color="#20d8d8"/><stop offset="0.337" stop-color="#0010a8"/><stop offset="0.464" stop-color="#0010a8"/><stop offset="0.548" stop-color="#10c030"/><stop offset="0.632" stop-color="#10c030"/><stop offset="0.679" stop-color="#f07818"/><stop offset="0.726" stop-color="#e01010"/><stop offset="0.885" stop-color="#e01010"/><stop offset="0.936" stop-color="#10c030"/><stop offset="1.000" stop-color="#20d8d8"/></linearGradient></defs>
<path d="M2204.8,432.6 L2204.9,430.6 L2205.0,428.7 L2205.3,426.8 L2205.6,424.9 L2205.9,423.0 L2206.4,421.2 L2206.9,419.3 L2207.5,417.5 L2208.1,415.7 L2208.8,414.0 L2209.6,412.2 L2210.4,410.5 L2211.3,408.8 L2212.3,407.1 L2213.3,405.4 L2214.3,403.8 L2215.4,402.2 L2216.6,400.7 L2217.8,399.1 L2219.0,397.6 L2220.3,396.2 L2221.6,394.7 L2223.0,393.3 L2224.4,392.0 L2225.8,390.6 L2227.3,389.4 L2228.8,388.1 L2230.3,386.9 L2231.9,385.7 L2233.5,384.6 L2235.1,383.5 L2236.8,382.5 L2238.4,381.5 L2240.1,380.5 L2241.8,379.6 L2243.5,378.8 L2245.3,377.9 L2247.0,377.2 L2248.8,376.5 L2250.6,375.8 L2252.3,375.2 L2254.1,374.6 L2256.0,374.0 L2257.8,373.5 L2259.6,373.1 L2261.4,372.6 L2263.3,372.2 L2265.1,371.8 L2267.0,371.4 L2268.9,371.1 L2270.7,370.8 L2272.6,370.5 L2274.5,370.2 L2276.4,369.9 L2278.3,369.6 L2280.2,369.4 L2282.1,369.1 L2284.0,368.9 L2285.9,368.6 L2287.8,368.4 L2289.7,368.1 L2291.6,367.9 L2293.5,367.6 L2295.5,367.3 L2297.4,367.1 L2299.3,366.8 L2301.2,366.5 L2303.1,366.1 L2305.0,365.8 L2306.9,365.4 L2308.8,365.0 L2310.7,364.6 L2312.6,364.2 L2314.5,363.7 L2316.4,363.3 L2318.3,362.8 L2320.2,362.4 L2322.1,361.9 L2324.0,361.4 L2325.9,361.0 L2327.8,360.5 L2329.6,360.0 L2331.5,359.5 L2333.4,359.1 L2335.3,358.6 L2337.2,358.2 L2339.1,357.8 L2341.0,357.3 L2342.9,356.9 L2344.8,356.6 L2346.7,356.2 L2348.6,355.8 L2350.5,355.5 L2352.4,355.2 L2354.3,355.0 L2356.2,354.7 L2358.1,354.5 L2360.1,354.3 L2362.0,354.2 L2363.9,354.1 L2365.8,354.0 L2367.8,354.0 L2369.7,354.0 L2371.7,354.1 L2373.6,354.2 L2375.5,354.4 L2377.4,354.6 L2379.3,354.8 L2381.2,355.2 L2383.1,355.5 L2384.9,356.0 L2386.8,356.5 L2388.5,357.0 L2390.3,357.7 L2392.0,358.3 L2393.7,359.1 L2395.3,359.9 L2396.9,360.9 L2398.5,361.8 L2400.0,362.9 L2401.4,364.0 L2402.8,365.3 L2404.1,366.5 L2405.4,367.9 L2406.6,369.3 L2407.8,370.8 L2408.9,372.3 L2409.9,373.9 L2410.9,375.5 L2411.8,377.2 L2412.7,378.9 L2413.5,380.7 L2414.2,382.5 L2414.9,384.3 L2415.5,386.2 L2416.0,388.0 L2416.5,390.0 L2417.0,391.9 L2417.3,393.9 L2417.7,395.8 L2418.0,397.8 L2418.2,399.8 L2418.4,401.8 L2418.6,403.8 L2418.7,405.8 L2418.8,407.8 L2418.9,409.8 L2418.9,411.8 L2418.9,413.8 L2418.9,415.8 L2418.9,417.7 L2418.8,419.7 L2418.8,421.6 L2418.7,423.5 L2418.7,425.3 L2418.6,427.2 L2418.5,429.0 L2418.5,430.7 L2418.4,432.5" fill="none" stroke="url(#rb2)" stroke-width="5.5" stroke-linecap="round"/>
<defs><linearGradient id="rb3" gradientUnits="userSpaceOnUse" x1="2286.7" y1="0" x2="2500.2" y2="0"><stop offset="0.001" stop-color="#0010a8"/><stop offset="0.217" stop-color="#0040d8"/><stop offset="0.273" stop-color="#10a0d8"/><stop offset="0.367" stop-color="#10c030"/><stop offset="0.460" stop-color="#10c030"/><stop offset="0.531" stop-color="#c8d820"/><stop offset="0.624" stop-color="#f07818"/><stop offset="0.718" stop-color="#e01010"/><stop offset="0.896" stop-color="#e01010"/><stop offset="0.952" stop-color="#c8d820"/><stop offset="0.980" stop-color="#10c030"/><stop offset="0.999" stop-color="#20d8d8"/></linearGradient></defs>
<path d="M2286.7,659.6 L2288.1,659.7 L2289.4,659.9 L2290.7,660.0 L2292.1,660.2 L2293.4,660.3 L2294.7,660.5 L2296.1,660.7 L2297.4,660.8 L2298.8,661.0 L2300.1,661.1 L2301.4,661.3 L2302.8,661.4 L2304.1,661.6 L2305.5,661.8 L2306.8,661.9 L2308.1,662.1 L2309.5,662.2 L2310.8,662.4 L2312.2,662.5 L2313.5,662.7 L2314.8,662.8 L2316.2,663.0 L2317.5,663.2 L2318.9,663.3 L2320.2,663.5 L2321.6,663.6 L2322.9,663.8 L2324.2,663.9 L2325.6,664.1 L2326.9,664.2 L2328.3,664.4 L2329.6,664.5 L2331.0,664.7 L2332.3,664.8 L2333.7,664.9 L2335.0,665.1 L2336.3,665.2 L2337.7,665.4 L2339.0,665.5 L2340.4,665.6 L2341.7,665.8 L2343.1,665.9 L2344.4,666.0 L2345.8,666.2 L2347.1,666.3 L2348.5,666.4 L2349.8,666.6 L2351.2,666.7 L2352.5,666.8 L2353.8,666.9 L2355.2,667.1 L2356.5,667.2 L2357.9,667.3 L2359.2,667.4 L2360.6,667.5 L2361.9,667.6 L2363.3,667.7 L2364.6,667.8 L2366.0,667.9 L2367.3,668.0 L2368.7,668.1 L2370.0,668.2 L2371.4,668.3 L2372.7,668.4 L2374.0,668.5 L2375.4,668.6 L2376.7,668.7 L2378.1,668.8 L2379.4,668.9 L2380.8,668.9 L2382.1,669.0 L2383.5,669.1 L2384.8,669.1 L2386.2,669.2 L2387.5,669.3 L2388.9,669.3 L2390.2,669.4 L2391.6,669.4 L2392.9,669.5 L2394.3,669.5 L2395.6,669.6 L2397.0,669.6 L2398.3,669.7 L2399.6,669.7 L2401.0,669.7 L2402.3,669.8 L2403.7,669.8 L2405.0,669.8 L2406.4,669.8 L2407.7,669.8 L2409.1,669.9 L2410.4,669.9 L2411.8,669.9 L2413.1,669.9 L2414.5,669.9 L2415.8,669.9 L2417.2,669.8 L2418.5,669.8 L2419.8,669.8 L2421.2,669.8 L2422.5,669.8 L2423.9,669.7 L2425.2,669.7 L2426.6,669.6 L2427.9,669.6 L2429.3,669.6 L2430.6,669.5 L2431.9,669.4 L2433.3,669.4 L2434.6,669.3 L2436.0,669.2 L2437.3,669.2 L2438.7,669.1 L2440.0,669.0 L2441.4,668.9 L2442.7,668.8 L2444.0,668.7 L2445.4,668.6 L2446.7,668.5 L2448.1,668.4 L2449.4,668.3 L2450.8,668.1 L2452.1,668.0 L2453.4,667.9 L2454.8,667.7 L2456.1,667.6 L2457.5,667.4 L2458.8,667.3 L2460.1,667.1 L2461.5,667.0 L2462.8,666.8 L2464.2,666.6 L2465.5,666.4 L2466.8,666.3 L2468.2,666.1 L2469.5,665.9 L2470.8,665.7 L2472.2,665.4 L2473.5,665.2 L2474.9,665.0 L2476.2,664.8 L2477.5,664.5 L2478.9,664.3 L2480.2,664.1 L2481.5,663.8 L2482.9,663.5 L2484.2,663.3 L2485.5,663.0 L2486.9,662.7 L2488.2,662.5 L2489.6,662.2 L2490.9,661.9 L2492.2,661.6 L2493.6,661.3 L2494.9,660.9 L2496.2,660.6 L2497.5,660.3 L2498.9,660.0 L2500.2,659.6" fill="none" stroke="url(#rb3)" stroke-width="5.5" stroke-linecap="round"/>
<defs><linearGradient id="rb4" gradientUnits="userSpaceOnUse" x1="2286.1" y1="0" x2="2499.6" y2="0"><stop offset="0.000" stop-color="#0010a8"/><stop offset="0.159" stop-color="#0010a8"/><stop offset="0.229" stop-color="#0040d8"/><stop offset="0.299" stop-color="#20d8d8"/><stop offset="0.416" stop-color="#10c030"/><stop offset="0.510" stop-color="#10c030"/><stop offset="0.604" stop-color="#c8d820"/><stop offset="0.651" stop-color="#f07818"/><stop offset="0.721" stop-color="#e01010"/><stop offset="0.885" stop-color="#c00808"/><stop offset="0.932" stop-color="#c8d820"/><stop offset="0.969" stop-color="#10c030"/><stop offset="1.000" stop-color="#20d8d8"/></linearGradient></defs>
<path d="M2286.7,788.7 L2286.6,786.4 L2286.5,784.1 L2286.5,781.9 L2286.5,779.6 L2286.6,777.4 L2286.8,775.2 L2286.9,773.0 L2287.2,770.8 L2287.5,768.6 L2287.8,766.5 L2288.2,764.3 L2288.7,762.2 L2289.2,760.1 L2289.7,758.1 L2290.3,756.0 L2290.9,754.0 L2291.6,751.9 L2292.3,749.9 L2293.1,748.0 L2293.9,746.0 L2294.7,744.1 L2295.6,742.1 L2296.5,740.2 L2297.5,738.4 L2298.5,736.5 L2299.6,734.7 L2300.6,732.9 L2301.8,731.1 L2302.9,729.4 L2304.1,727.6 L2305.4,725.9 L2306.6,724.2 L2307.9,722.6 L2309.3,721.0 L2310.6,719.4 L2312.0,717.8 L2313.4,716.2 L2314.9,714.7 L2316.4,713.2 L2317.9,711.8 L2319.4,710.3 L2321.0,708.9 L2322.6,707.5 L2324.2,706.2 L2325.9,704.9 L2327.5,703.6 L2329.2,702.3 L2331.0,701.1 L2332.7,699.9 L2334.5,698.8 L2336.3,697.7 L2338.1,696.6 L2339.9,695.5 L2341.7,694.5 L2343.6,693.5 L2345.5,692.6 L2347.4,691.6 L2349.3,690.8 L2351.2,689.9 L2353.1,689.1 L2355.1,688.3 L2357.0,687.6 L2359.0,686.9 L2361.0,686.2 L2363.0,685.6 L2365.0,685.0 L2367.1,684.5 L2369.1,684.0 L2371.1,683.5 L2373.2,683.1 L2375.2,682.7 L2377.3,682.4 L2379.4,682.1 L2381.4,681.8 L2383.5,681.6 L2385.6,681.4 L2387.6,681.3 L2389.7,681.2 L2391.8,681.2 L2393.9,681.2 L2396.0,681.2 L2398.1,681.3 L2400.1,681.4 L2402.2,681.6 L2404.3,681.8 L2406.3,682.1 L2408.4,682.4 L2410.5,682.7 L2412.5,683.1 L2414.6,683.5 L2416.6,684.0 L2418.6,684.5 L2420.7,685.0 L2422.7,685.6 L2424.7,686.2 L2426.7,686.9 L2428.7,687.6 L2430.6,688.3 L2432.6,689.1 L2434.5,689.9 L2436.4,690.8 L2438.3,691.6 L2440.2,692.6 L2442.1,693.5 L2444.0,694.5 L2445.8,695.5 L2447.6,696.6 L2449.4,697.7 L2451.2,698.8 L2453.0,699.9 L2454.7,701.1 L2456.5,702.3 L2458.2,703.6 L2459.8,704.9 L2461.5,706.2 L2463.1,707.5 L2464.7,708.9 L2466.3,710.3 L2467.8,711.8 L2469.3,713.2 L2470.8,714.7 L2472.3,716.2 L2473.7,717.8 L2475.1,719.4 L2476.4,721.0 L2477.8,722.6 L2479.1,724.2 L2480.3,725.9 L2481.6,727.6 L2482.8,729.4 L2483.9,731.1 L2485.1,732.9 L2486.1,734.7 L2487.2,736.5 L2488.2,738.4 L2489.2,740.2 L2490.1,742.1 L2491.0,744.1 L2491.8,746.0 L2492.6,748.0 L2493.4,749.9 L2494.1,751.9 L2494.8,754.0 L2495.4,756.0 L2496.0,758.1 L2496.5,760.1 L2497.0,762.2 L2497.5,764.3 L2497.9,766.5 L2498.2,768.6 L2498.5,770.8 L2498.8,773.0 L2498.9,775.2 L2499.1,777.4 L2499.2,779.6 L2499.2,781.9 L2499.2,784.1 L2499.1,786.4 L2499.0,788.7" fill="none" stroke="url(#rb4)" stroke-width="5.5" stroke-linecap="round"/>
<defs><linearGradient id="rb5" gradientUnits="userSpaceOnUse" x1="2593.3" y1="0" x2="2798.3" y2="0"><stop offset="0.000" stop-color="#10c030"/><stop offset="0.091" stop-color="#108a50"/><stop offset="0.350" stop-color="#108a50"/><stop offset="0.438" stop-color="#20d8d8"/><stop offset="0.520" stop-color="#20d8d8"/><stop offset="0.579" stop-color="#0040d8"/><stop offset="0.691" stop-color="#0010a8"/><stop offset="0.774" stop-color="#0010a8"/><stop offset="0.852" stop-color="#10a0d8"/><stop offset="0.935" stop-color="#10c030"/><stop offset="0.969" stop-color="#c8d820"/><stop offset="0.999" stop-color="#e01010"/></linearGradient></defs>
<path d="M2593.3,931.0 L2594.5,931.5 L2595.7,932.1 L2597.0,932.6 L2598.2,933.2 L2599.4,933.7 L2600.6,934.3 L2601.9,934.8 L2603.1,935.3 L2604.4,935.8 L2605.6,936.3 L2606.8,936.8 L2608.1,937.3 L2609.3,937.8 L2610.6,938.3 L2611.8,938.7 L2613.1,939.2 L2614.3,939.7 L2615.6,940.1 L2616.9,940.6 L2618.1,941.0 L2619.4,941.5 L2620.7,941.9 L2621.9,942.3 L2623.2,942.7 L2624.5,943.1 L2625.7,943.5 L2627.0,943.9 L2628.3,944.3 L2629.6,944.7 L2630.9,945.1 L2632.1,945.4 L2633.4,945.8 L2634.7,946.1 L2636.0,946.5 L2637.3,946.8 L2638.6,947.2 L2639.9,947.5 L2641.2,947.8 L2642.5,948.1 L2643.8,948.4 L2645.0,948.7 L2646.3,949.0 L2647.6,949.3 L2648.9,949.5 L2650.2,949.8 L2651.6,950.1 L2652.9,950.3 L2654.2,950.5 L2655.5,950.8 L2656.8,951.0 L2658.1,951.2 L2659.4,951.4 L2660.7,951.6 L2662.0,951.8 L2663.3,952.0 L2664.6,952.2 L2665.9,952.3 L2667.3,952.5 L2668.6,952.7 L2669.9,952.8 L2671.2,952.9 L2672.5,953.1 L2673.8,953.2 L2675.2,953.3 L2676.5,953.4 L2677.8,953.5 L2679.1,953.6 L2680.4,953.7 L2681.7,953.7 L2683.1,953.8 L2684.4,953.8 L2685.7,953.9 L2687.0,953.9 L2688.3,953.9 L2689.7,954.0 L2691.0,954.0 L2692.3,954.0 L2693.6,954.0 L2694.9,953.9 L2696.3,953.9 L2697.6,953.9 L2698.9,953.8 L2700.2,953.8 L2701.5,953.7 L2702.9,953.6 L2704.2,953.6 L2705.5,953.5 L2706.8,953.4 L2708.1,953.3 L2709.5,953.1 L2710.8,953.0 L2712.1,952.9 L2713.4,952.8 L2714.7,952.6 L2716.0,952.5 L2717.4,952.3 L2718.7,952.1 L2720.0,951.9 L2721.3,951.8 L2722.6,951.6 L2723.9,951.4 L2725.2,951.2 L2726.5,951.0 L2727.9,950.7 L2729.2,950.5 L2730.5,950.3 L2731.8,950.0 L2733.1,949.8 L2734.4,949.5 L2735.7,949.3 L2737.0,949.0 L2738.3,948.7 L2739.6,948.5 L2740.9,948.2 L2742.2,947.9 L2743.5,947.6 L2744.8,947.3 L2746.1,947.0 L2747.4,946.7 L2748.7,946.4 L2750.0,946.0 L2751.3,945.7 L2752.6,945.4 L2753.9,945.1 L2755.2,944.7 L2756.5,944.4 L2757.8,944.0 L2759.1,943.7 L2760.4,943.3 L2761.6,942.9 L2762.9,942.6 L2764.2,942.2 L2765.5,941.8 L2766.8,941.4 L2768.1,941.1 L2769.3,940.7 L2770.6,940.3 L2771.9,939.9 L2773.2,939.5 L2774.4,939.1 L2775.7,938.7 L2777.0,938.3 L2778.2,937.9 L2779.5,937.5 L2780.8,937.0 L2782.0,936.6 L2783.3,936.2 L2784.5,935.8 L2785.8,935.4 L2787.1,934.9 L2788.3,934.5 L2789.6,934.1 L2790.8,933.6 L2792.1,933.2 L2793.3,932.7 L2794.6,932.3 L2795.8,931.9 L2797.0,931.4 L2798.3,931.0" fill="none" stroke="url(#rb5)" stroke-width="5.5" stroke-linecap="round"/>
<defs><linearGradient id="rb6" gradientUnits="userSpaceOnUse" x1="2594.2" y1="0" x2="2799.2" y2="0"><stop offset="0.000" stop-color="#10c030"/><stop offset="0.272" stop-color="#10c030"/><stop offset="0.419" stop-color="#20d8d8"/><stop offset="0.516" stop-color="#20d8d8"/><stop offset="0.614" stop-color="#0040d8"/><stop offset="0.736" stop-color="#0010a8"/><stop offset="0.858" stop-color="#0040d8"/><stop offset="0.901" stop-color="#20d8d8"/><stop offset="0.945" stop-color="#10c030"/><stop offset="0.980" stop-color="#c8d820"/><stop offset="0.999" stop-color="#e01010"/></linearGradient></defs>
<path d="M2594.6,1071.7 L2594.5,1069.5 L2594.5,1067.3 L2594.5,1065.1 L2594.6,1063.0 L2594.7,1060.8 L2594.9,1058.7 L2595.1,1056.6 L2595.4,1054.5 L2595.7,1052.5 L2596.0,1050.4 L2596.5,1048.4 L2596.9,1046.4 L2597.4,1044.4 L2598.0,1042.4 L2598.5,1040.5 L2599.2,1038.6 L2599.8,1036.7 L2600.6,1034.8 L2601.3,1032.9 L2602.1,1031.1 L2602.9,1029.3 L2603.8,1027.5 L2604.7,1025.7 L2605.7,1024.0 L2606.6,1022.2 L2607.7,1020.5 L2608.7,1018.9 L2609.8,1017.2 L2610.9,1015.6 L2612.1,1014.0 L2613.3,1012.4 L2614.5,1010.8 L2615.7,1009.3 L2617.0,1007.8 L2618.3,1006.3 L2619.7,1004.9 L2621.0,1003.5 L2622.4,1002.1 L2623.9,1000.7 L2625.3,999.4 L2626.8,998.1 L2628.3,996.8 L2629.8,995.5 L2631.4,994.3 L2633.0,993.1 L2634.5,991.9 L2636.2,990.8 L2637.8,989.7 L2639.5,988.6 L2641.2,987.6 L2642.9,986.6 L2644.6,985.6 L2646.3,984.6 L2648.1,983.7 L2649.8,982.8 L2651.6,982.0 L2653.4,981.1 L2655.3,980.3 L2657.1,979.6 L2658.9,978.9 L2660.8,978.2 L2662.7,977.5 L2664.5,976.9 L2666.4,976.3 L2668.3,975.7 L2670.3,975.2 L2672.2,974.7 L2674.1,974.3 L2676.1,973.9 L2678.0,973.5 L2680.0,973.2 L2681.9,972.8 L2683.9,972.6 L2685.8,972.4 L2687.8,972.2 L2689.8,972.0 L2691.8,971.9 L2693.7,971.8 L2695.7,971.8 L2697.7,971.8 L2699.7,971.8 L2701.6,971.9 L2703.6,972.0 L2705.6,972.2 L2707.6,972.4 L2709.5,972.6 L2711.5,972.8 L2713.4,973.2 L2715.4,973.5 L2717.3,973.9 L2719.3,974.3 L2721.2,974.7 L2723.1,975.2 L2725.1,975.7 L2727.0,976.3 L2728.9,976.9 L2730.7,977.5 L2732.6,978.2 L2734.5,978.9 L2736.3,979.6 L2738.1,980.3 L2740.0,981.1 L2741.8,982.0 L2743.6,982.8 L2745.3,983.7 L2747.1,984.6 L2748.8,985.6 L2750.5,986.6 L2752.2,987.6 L2753.9,988.6 L2755.6,989.7 L2757.2,990.8 L2758.9,991.9 L2760.4,993.1 L2762.0,994.3 L2763.6,995.5 L2765.1,996.8 L2766.6,998.1 L2768.1,999.4 L2769.5,1000.7 L2771.0,1002.1 L2772.4,1003.5 L2773.7,1004.9 L2775.1,1006.3 L2776.4,1007.8 L2777.7,1009.3 L2778.9,1010.8 L2780.1,1012.4 L2781.3,1014.0 L2782.5,1015.6 L2783.6,1017.2 L2784.7,1018.9 L2785.7,1020.5 L2786.8,1022.2 L2787.7,1024.0 L2788.7,1025.7 L2789.6,1027.5 L2790.5,1029.3 L2791.3,1031.1 L2792.1,1032.9 L2792.8,1034.8 L2793.6,1036.7 L2794.2,1038.6 L2794.9,1040.5 L2795.4,1042.4 L2796.0,1044.4 L2796.5,1046.4 L2796.9,1048.4 L2797.4,1050.4 L2797.7,1052.5 L2798.0,1054.5 L2798.3,1056.6 L2798.5,1058.7 L2798.7,1060.8 L2798.8,1063.0 L2798.9,1065.1 L2798.9,1067.3 L2798.9,1069.5 L2798.8,1071.7" fill="none" stroke="url(#rb6)" stroke-width="5.5" stroke-linecap="round"/>
<path d="M2014.3,766.8 L2124.2,657.4" stroke="#40a683" stroke-width="7.0"/>
<path d="M2149.7,632.0 L2134.1,673.0 L2108.7,647.5 Z" fill="#40a683"/>
<path d="M2557.5,562.5 L2599.5,704.8" stroke="#40a683" stroke-width="7.0"/>
<path d="M2609.7,739.3 L2581.1,706.0 L2615.6,695.8 Z" fill="#40a683"/>
<text x="1889.8" y="666.0" font-size="59.71" font-weight="400" fill="#404242" textLength="181.0" lengthAdjust="spacingAndGlyphs">Driving</text>
<text x="2410.8" y="877.3" font-size="59.13" font-weight="400" fill="#404242" textLength="253.4" lengthAdjust="spacingAndGlyphs">Releasing</text>
<circle cx="3032.6" cy="121.8" r="49.5" fill="#3cb2c5" stroke="#2d3b3d" stroke-width="2.5"/>
<text x="3012.6" y="145.7" font-size="66.81" font-weight="400" fill="#ffffff" stroke="#ffffff" stroke-width="2.00" stroke-linejoin="round" textLength="40.9" lengthAdjust="spacingAndGlyphs">C</text>
<g stroke="#404242" stroke-width="4.0" fill="none" stroke-linecap="butt">
<rect x="3203.0" y="215.0" width="1084.5" height="864.6"/>
<path d="M3203.0,1079.6V1112.6M3419.9,1079.6V1112.6M3636.8,1079.6V1112.6M3853.7,1079.6V1112.6M4070.6,1079.6V1112.6M4287.5,1079.6V1112.6M3311.4,1079.6V1095.6M3528.3,1079.6V1095.6M3745.2,1079.6V1095.6M3962.2,1079.6V1095.6M4179.1,1079.6V1095.6M3203.0,1079.6H3170.0M3203.0,791.4H3170.0M3203.0,503.2H3170.0M3203.0,215.0H3170.0M3203.0,935.5H3187.0M3203.0,647.3H3187.0M3203.0,359.1H3187.0"/>
</g>
<text x="3134.0" y="1097.6" font-size="60.0" font-weight="400" text-anchor="end" fill="#404242" >−1</text>
<text x="3134.0" y="809.4" font-size="60.0" font-weight="400" text-anchor="end" fill="#404242" >0</text>
<text x="3134.0" y="521.2" font-size="60.0" font-weight="400" text-anchor="end" fill="#404242" >1</text>
<text x="3134.0" y="233.0" font-size="60.0" font-weight="400" text-anchor="end" fill="#404242" >2</text>
<text x="3203.0" y="1169.0" font-size="60.0" font-weight="400" text-anchor="middle" fill="#404242" >0.0</text>
<text x="3419.9" y="1169.0" font-size="60.0" font-weight="400" text-anchor="middle" fill="#404242" >0.5</text>
<text x="3636.8" y="1169.0" font-size="60.0" font-weight="400" text-anchor="middle" fill="#404242" >1.0</text>
<text x="3853.7" y="1169.0" font-size="60.0" font-weight="400" text-anchor="middle" fill="#404242" >1.5</text>
<text x="4070.6" y="1169.0" font-size="60.0" font-weight="400" text-anchor="middle" fill="#404242" >2.0</text>
<text x="4287.5" y="1169.0" font-size="60.0" font-weight="400" text-anchor="middle" fill="#404242" >2.5</text>
<text transform="translate(3035.8,915.8) rotate(-90)" x="-4.3" y="0" font-size="55.07" font-weight="400" fill="#404242" stroke="#404242" stroke-width="1.60" stroke-linejoin="round" textLength="525.7" lengthAdjust="spacingAndGlyphs">Moment <tspan font-style="italic">M</tspan> (N · mm)</text>
<text x="3482.2" y="1275.6" font-size="56.23" font-weight="400" fill="#404242" stroke="#404242" stroke-width="1.60" stroke-linejoin="round" textLength="537.6" lengthAdjust="spacingAndGlyphs">Rotation angle <tspan font-style="italic">θ</tspan><tspan font-size="36" dy="14" stroke-width="0">q</tspan><tspan dy="-14"> (π)</tspan></text>
<path d="M3738,894 H3833" stroke="#f5a623" stroke-width="8"/>
<path d="M3738,1011 H3833" stroke="#4a9de0" stroke-width="8"/>
<text x="3886.0" y="912.1" font-size="58.55" font-weight="400" fill="#404242" textLength="291.6" lengthAdjust="spacingAndGlyphs">Driving end</text>
<text x="3886.0" y="1029.5" font-size="58.12" font-weight="400" fill="#404242" textLength="365.6" lengthAdjust="spacingAndGlyphs">Releasing end</text>
<path d="M3202.0,789.8 L3206.3,782.3 L3210.6,774.8 L3215.0,767.3 L3219.4,759.8 L3223.9,752.3 L3228.3,744.8 L3232.8,737.4 L3237.4,730.0 L3241.9,722.6 L3246.5,715.2 L3251.1,707.8 L3255.7,700.5 L3260.4,693.1 L3265.0,685.8 L3269.7,678.5 L3274.4,671.2 L3279.2,663.9 L3283.9,656.6 L3288.7,649.4 L3293.5,642.1 L3298.4,634.9 L3303.2,627.7 L3308.1,620.5 L3313.0,613.3 L3317.9,606.1 L3322.8,598.9 L3327.8,591.8 L3332.8,584.7 L3337.7,577.5 L3342.7,570.4 L3347.8,563.3 L3352.8,556.2 L3357.9,549.2 L3362.9,542.1 L3368.0,535.1 L3373.1,528.0 L3378.2,521.0 L3383.4,514.0 L3388.5,507.0 L3393.6,500.0 L3398.8,493.0 L3404.0,486.0 L3409.2,479.1 L3414.4,472.1 L3419.6,465.2 L3424.8,458.3 L3430.1,451.4 L3435.4,444.5 L3440.7,437.7 L3446.1,430.9 L3451.6,424.1 L3457.1,417.4 L3462.7,410.8 L3468.4,404.2 L3474.1,397.8 L3480.0,391.4 L3486.0,385.0 L3492.1,378.8 L3498.3,372.7 L3504.7,366.7 L3511.2,360.8 L3517.8,355.0 L3524.6,349.4 L3531.6,343.9 L3538.7,338.7 L3546.0,333.7 L3553.5,329.1 L3561.1,324.9 L3568.8,321.1 L3576.7,317.8 L3584.8,315.1 L3593.0,312.9 L3601.4,311.4 L3609.9,310.6 L3618.6,310.5 L3627.3,311.1 L3636.1,312.3 L3644.9,314.1 L3653.5,316.3 L3662.0,318.9 L3670.3,321.9 L3678.4,325.1 L3686.4,328.6 L3694.1,332.4 L3701.8,336.4 L3709.3,340.6 L3716.7,345.0 L3724.1,349.5 L3731.3,354.2 L3738.5,359.0 L3745.7,363.9 L3752.9,368.8 L3760.0,373.8 L3767.2,378.8 L3774.4,383.8 L3781.6,388.7 L3788.9,393.6 L3796.3,398.4 L3803.8,403.1 L3811.3,407.6 L3819.0,412.0 L3826.7,416.1 L3834.5,419.9 L3842.5,423.4 L3850.5,426.6 L3858.6,429.4 L3866.9,431.7 L3875.2,433.6 L3883.7,435.0 L3892.3,435.8 L3901.0,436.1 L3909.7,435.8 L3918.4,435.0 L3927.1,433.6 L3935.6,431.6 L3943.9,429.2 L3952.1,426.3 L3960.3,423.1 L3968.3,419.5 L3976.3,415.7 L3984.2,411.7 L3992.0,407.6 L3999.9,403.5 L4007.7,399.4 L4015.6,395.5 L4023.5,391.6 L4031.5,388.0 L4039.5,384.7 L4047.6,381.8 L4055.8,379.2 L4064.1,377.0 L4072.5,375.1 L4080.9,373.7 L4089.4,372.6 L4097.9,371.8 L4106.5,371.4 L4115.1,371.3 L4123.7,371.6 L4132.4,372.3 L4141.0,373.3 L4149.7,374.6 L4158.3,376.2 L4166.9,378.2 L4175.5,380.3 L4184.1,382.2 L4192.7,383.9 L4201.2,384.9 L4209.7,385.1 L4218.1,384.5 L4226.4,383.0 L4234.5,380.6 L4242.4,377.4 L4250.0,373.4 L4257.2,368.6 L4264.0,362.9 L4270.3,356.5 L4276.2,349.3 L4281.5,341.4 L4286.1,332.7" fill="none" stroke="#f5a623" stroke-width="8"/>
<path d="M3202.0,1074.3 L3209.9,1066.7 L3218.1,1059.4 L3226.6,1052.4 L3235.3,1045.6 L3244.2,1039.1 L3253.2,1032.7 L3262.3,1026.3 L3271.4,1020.0 L3280.4,1013.7 L3289.4,1007.3 L3298.3,1000.7 L3307.1,994.0 L3315.6,987.0 L3323.9,979.7 L3332.0,972.2 L3339.8,964.3 L3347.5,956.3 L3354.9,948.1 L3362.1,939.7 L3369.2,931.3 L3376.1,922.6 L3382.8,913.9 L3389.3,905.1 L3395.7,896.2 L3402.0,887.1 L3408.1,878.0 L3414.0,868.8 L3419.9,859.5 L3425.6,850.1 L3431.2,840.7 L3436.7,831.1 L3442.1,821.5 L3447.4,811.9 L3452.6,802.2 L3457.7,792.4 L3462.7,782.5 L3467.6,772.7 L3472.5,762.7 L3477.3,752.8 L3482.1,742.8 L3486.8,732.8 L3491.5,722.7 L3496.1,712.7 L3500.7,702.6 L3505.3,692.5 L3509.9,682.4 L3514.4,672.3 L3519.0,662.2 L3523.5,652.0 L3528.1,642.0 L3532.6,631.9 L3537.2,621.8 L3541.8,611.8 L3546.5,601.8 L3551.2,591.8 L3555.9,581.8 L3560.7,571.9 L3565.5,562.0 L3570.4,552.2 L3575.4,542.4 L3580.5,532.7 L3585.6,523.0 L3590.9,513.4 L3596.3,503.9 L3601.8,494.4 L3607.4,485.0 L3613.2,475.6 L3619.1,466.4 L3625.2,457.2 L3631.4,448.1 L3637.8,439.1 L3644.4,430.1 L3651.1,421.3 L3658.1,412.6 L3665.3,403.9 L3672.6,395.4 L3680.2,387.0 L3688.1,378.6 L3696.2,370.5 L3704.5,362.8 L3713.2,355.7 L3722.3,349.6 L3731.8,344.6 L3741.8,340.9 L3752.3,338.8 L3762.9,338.1 L3773.7,338.7 L3784.5,340.6 L3795.0,343.6 L3805.0,347.7 L3814.6,352.7 L3823.6,358.6 L3832.2,365.3 L3840.4,372.7 L3848.2,380.6 L3855.7,389.0 L3862.9,397.8 L3870.0,406.8 L3876.9,416.0 L3883.7,425.2 L3890.4,434.4 L3897.2,443.5 L3904.0,452.3 L3911.0,460.8 L3918.1,468.9 L3925.3,476.7 L3932.7,484.4 L3940.3,491.9 L3948.0,499.4 L3955.9,506.9 L3964.1,514.5 L3972.4,522.1 L3980.9,529.6 L3989.7,536.9 L3998.8,543.8 L4008.1,550.4 L4017.7,556.4 L4027.7,561.8 L4037.9,566.4 L4048.2,570.0 L4058.8,572.6 L4069.3,573.9 L4079.8,573.8 L4090.1,572.3 L4100.3,569.5 L4110.2,565.5 L4120.0,560.4 L4129.4,554.4 L4138.5,547.7 L4147.3,540.4 L4155.6,532.6 L4163.5,524.4 L4171.0,516.0 L4178.1,507.3 L4184.8,498.4 L4191.2,489.4 L4197.3,480.2 L4203.1,470.8 L4208.8,461.3 L4214.2,451.8 L4219.5,442.1 L4224.6,432.4 L4229.6,422.6 L4234.4,412.7 L4239.0,402.8 L4243.4,392.7 L4247.7,382.6 L4251.7,372.4 L4255.6,362.1 L4259.3,351.7 L4262.7,341.3 L4266.0,330.7 L4269.1,320.1 L4271.9,309.5 L4274.6,298.7 L4277.0,287.9 L4279.2,277.0 L4281.2,266.0 L4283.0,255.0" fill="none" stroke="#4a9de0" stroke-width="8"/>
<path d="M3421.0,460.5 L3366.5,494.4 L3404.7,486.0 L3408.0,524.7 Z" fill="#f5a623"/>
<path d="M4039.5,386.8 L3978.7,388.5 L4004.0,400.3 L4001.4,434.1 Z" fill="#f5a623"/>
<path d="M3483.7,732.6 L3486.0,672.0 L3497.7,700.0 L3532.6,694.0 Z" fill="#4a9de0"/>
<path d="M4149.3,530.4 L4161.1,473.0 L4166.2,505.0 L4201.7,502.7 Z" fill="#4a9de0"/>
<circle cx="120.4" cy="1439.9" r="49.5" fill="#3cb2c5" stroke="#2d3b3d" stroke-width="2.5"/>
<text x="99.7" y="1463.6" font-size="68.12" font-weight="400" fill="#ffffff" stroke="#ffffff" stroke-width="2.00" stroke-linejoin="round" textLength="41.6" lengthAdjust="spacingAndGlyphs">D</text>
<circle cx="120.4" cy="2031.2" r="49.5" fill="#3cb2c5" stroke="#2d3b3d" stroke-width="2.5"/>
<text x="102.9" y="2054.5" font-size="67.54" font-weight="400" fill="#ffffff" stroke="#ffffff" stroke-width="2.00" stroke-linejoin="round" textLength="36.7" lengthAdjust="spacingAndGlyphs">E</text>
<text x="243.0" y="1517.5" font-size="57.54" font-weight="400" fill="#404242" stroke="#404242" stroke-width="1.60" stroke-linejoin="round" textLength="244.8" lengthAdjust="spacingAndGlyphs">Side view</text>
<text x="251.5" y="1798.0" font-size="56.81" font-weight="400" fill="#404242" stroke="#404242" stroke-width="1.60" stroke-linejoin="round" textLength="230.1" lengthAdjust="spacingAndGlyphs">Top view</text>
<text x="243.0" y="2107.1" font-size="56.96" font-weight="400" fill="#404242" stroke="#404242" stroke-width="1.60" stroke-linejoin="round" textLength="245.4" lengthAdjust="spacingAndGlyphs">Side view</text>
<text x="251.5" y="2397.7" font-size="56.81" font-weight="400" fill="#404242" stroke="#404242" stroke-width="1.60" stroke-linejoin="round" textLength="230.1" lengthAdjust="spacingAndGlyphs">Top view</text>
<text transform="translate(4381.2,1785.0) rotate(-90)" x="-4.2" y="0" font-size="58.12" font-weight="400" fill="#404242" stroke="#404242" stroke-width="1.60" stroke-linejoin="round" textLength="277.4" lengthAdjust="spacingAndGlyphs">Numerical</text>
<text transform="translate(4381.5,2434.0) rotate(-90)" x="-4.0" y="0" font-size="58.99" font-weight="400" fill="#404242" stroke="#404242" stroke-width="1.60" stroke-linejoin="round" textLength="342.5" lengthAdjust="spacingAndGlyphs">Experimental</text>
<path d="M655.1,1554.4 L659.4,1554.2 L663.7,1554.1 L668.0,1553.9 L672.3,1553.7 L676.5,1553.4 L680.8,1553.2 L685.0,1552.9 L689.3,1552.5 L693.5,1552.1 L697.7,1551.7 L701.9,1551.3 L706.1,1550.8 L710.3,1550.3 L714.5,1549.8 L718.7,1549.3 L722.9,1548.7 L727.0,1548.1 L731.2,1547.4 L735.3,1546.8 L739.5,1546.1 L743.6,1545.3 L747.7,1544.6 L751.8,1543.8 L755.9,1543.0 L760.0,1542.2 L764.1,1541.3 L768.2,1540.4 L772.3,1539.5 L776.4,1538.6 L780.5,1537.6 L784.5,1536.6 L788.6,1535.6 L792.6,1534.6 L796.7,1533.5 L800.7,1532.5 L804.7,1531.4 L808.8,1530.2 L812.8,1529.1 L816.8,1527.9 L820.8,1526.7 L824.8,1525.5 L828.8,1524.2 L832.8,1523.0 L836.8,1521.7 L840.8,1520.4 L844.7,1519.0 L848.7,1517.7 L852.7,1516.3 L856.7,1514.9 L860.6,1513.5 L864.6,1512.1 L868.5,1510.6 L872.5,1509.2 L876.4,1507.7 L880.3,1506.2 L884.3,1504.6 L888.2,1503.1 L892.1,1501.5 L896.1,1500.0 L900.0,1498.4 L903.9,1496.8 L907.8,1495.1 L911.7,1493.5 L915.6,1491.9 L919.6,1490.2 L923.5,1488.6 L927.4,1486.9 L931.3,1485.3 L935.3,1483.7 L939.2,1482.1 L943.1,1480.5 L947.1,1479.0 L951.1,1477.5 L955.0,1476.0 L959.0,1474.5 L963.0,1473.1 L967.1,1471.7 L971.1,1470.4 L975.1,1469.1 L979.2,1467.9 L983.3,1466.7 L987.4,1465.6 L991.5,1464.5 L995.6,1463.5 L999.7,1462.5 L1003.8,1461.6 L1008.0,1460.8 L1012.1,1460.0 L1016.3,1459.3 L1020.4,1458.6 L1024.6,1458.1 L1028.7,1457.6 L1032.9,1457.2 L1037.1,1456.8 L1041.3,1456.5 L1045.4,1456.4 L1049.6,1456.2 L1053.8,1456.2 L1057.9,1456.3 L1062.1,1456.4 L1066.3,1456.6 L1070.4,1456.9 L1074.6,1457.3 L1078.7,1457.8 L1082.8,1458.3 L1087.0,1458.9 L1091.1,1459.6 L1095.2,1460.3 L1099.3,1461.1 L1103.4,1462.0 L1107.5,1463.0 L1111.6,1464.0 L1115.6,1465.1 L1119.7,1466.3 L1123.7,1467.5 L1127.7,1468.8 L1131.7,1470.1 L1135.7,1471.5 L1139.7,1473.0 L1143.7,1474.5 L1147.6,1476.0 L1151.5,1477.7 L1155.4,1479.3 L1159.3,1481.1 L1163.1,1482.9 L1167.0,1484.7 L1170.8,1486.6 L1174.6,1488.5 L1178.3,1490.5 L1182.1,1492.5 L1185.8,1494.5 L1189.5,1496.6 L1193.2,1498.8 L1196.8,1500.9 L1200.4,1503.1 L1204.0,1505.4 L1207.6,1507.6 L1211.2,1509.9 L1214.8,1512.2 L1218.3,1514.5 L1221.9,1516.8 L1225.4,1519.1 L1229.0,1521.4 L1232.5,1523.7 L1236.1,1526.0 L1239.6,1528.3 L1243.2,1530.5 L1246.7,1532.8 L1250.3,1535.0 L1253.8,1537.2 L1257.4,1539.3 L1261.0,1541.5 L1264.6,1543.5 L1268.3,1545.6 L1271.9,1547.6 L1275.6,1549.5 L1279.3,1551.4 L1283.0,1553.3 L1286.8,1555.0" fill="none" stroke="#208c9d" stroke-width="11"/>
<path d="M655.1,1552.0 L658.5,1551.9 L661.9,1551.8 L665.3,1551.6 L668.7,1551.5 L672.1,1551.3 L675.5,1551.1 L678.9,1550.9 L682.3,1550.7 L685.7,1550.4 L689.0,1550.1 L692.4,1549.8 L695.7,1549.5 L699.1,1549.2 L702.5,1548.8 L705.8,1548.5 L709.1,1548.1 L712.5,1547.7 L715.8,1547.2 L719.1,1546.8 L722.4,1546.3 L725.7,1545.8 L729.1,1545.3 L732.4,1544.8 L735.7,1544.3 L738.9,1543.7 L742.2,1543.2 L745.5,1542.6 L748.8,1542.0 L752.1,1541.3 L755.3,1540.7 L758.6,1540.0 L761.9,1539.3 L765.1,1538.7 L768.4,1537.9 L771.6,1537.2 L774.9,1536.5 L778.1,1535.7 L781.4,1534.9 L784.6,1534.2 L787.8,1533.4 L791.0,1532.5 L794.3,1531.7 L797.5,1530.8 L800.7,1530.0 L803.9,1529.1 L807.1,1528.2 L810.3,1527.3 L813.5,1526.4 L816.7,1525.4 L819.9,1524.5 L823.1,1523.5 L826.3,1522.5 L829.5,1521.5 L832.6,1520.5 L835.8,1519.5 L839.0,1518.4 L842.2,1517.4 L845.3,1516.3 L848.5,1515.2 L851.7,1514.1 L854.8,1513.0 L858.0,1511.9 L861.1,1510.8 L864.3,1509.6 L867.4,1508.5 L870.6,1507.3 L873.7,1506.1 L876.9,1504.9 L880.0,1503.7 L883.1,1502.5 L886.3,1501.3 L889.4,1500.0 L892.5,1498.8 L895.7,1497.5 L898.8,1496.3 L901.9,1495.0 L905.0,1493.7 L908.2,1492.4 L911.3,1491.1 L914.4,1489.8 L917.5,1488.5 L920.7,1487.2 L923.8,1485.8 L926.9,1484.5 L930.1,1483.2 L933.2,1481.9 L936.4,1480.7 L939.5,1479.4 L942.7,1478.1 L945.9,1476.9 L949.1,1475.7 L952.2,1474.5 L955.4,1473.3 L958.6,1472.1 L961.9,1471.0 L965.1,1469.9 L968.3,1468.8 L971.6,1467.7 L974.8,1466.7 L978.1,1465.7 L981.4,1464.7 L984.7,1463.8 L988.0,1462.9 L991.3,1462.1 L994.6,1461.2 L997.9,1460.4 L1001.2,1459.7 L1004.5,1459.0 L1007.9,1458.3 L1011.2,1457.7 L1014.6,1457.1 L1017.9,1456.6 L1021.3,1456.1 L1024.6,1455.7 L1028.0,1455.3 L1031.4,1454.9 L1034.7,1454.6 L1038.1,1454.3 L1041.5,1454.1 L1044.8,1454.0 L1048.2,1453.9 L1051.6,1453.8 L1054.9,1453.8 L1058.3,1453.9 L1061.7,1454.0 L1065.0,1454.2 L1068.4,1454.4 L1071.7,1454.6 L1075.1,1455.0 L1078.4,1455.3 L1081.8,1455.7 L1085.1,1456.2 L1088.5,1456.7 L1091.8,1457.3 L1095.1,1457.9 L1098.4,1458.5 L1101.7,1459.2 L1105.0,1459.9 L1108.3,1460.7 L1111.6,1461.5 L1114.9,1462.4 L1118.1,1463.3 L1121.4,1464.3 L1124.6,1465.3 L1127.9,1466.3 L1131.1,1467.4 L1134.3,1468.5 L1137.5,1469.6 L1140.7,1470.8 L1143.9,1472.0 L1147.1,1473.3 L1150.3,1474.5 L1153.4,1475.9 L1156.5,1477.2 L1159.7,1478.6 L1162.8,1480.0 L1165.9,1481.5 L1168.9,1483.0 L1172.0,1484.5 L1175.1,1486.0 L1178.1,1487.6 L1181.1,1489.2 L1184.1,1490.9 L1187.1,1492.5 L1190.1,1494.2 L1193.0,1495.9 L1196.0,1497.6 L1198.9,1499.4 L1201.8,1501.2 L1204.7,1502.9 L1207.6,1504.7 L1210.5,1506.6 L1213.3,1508.4 L1216.2,1510.2 L1219.0,1512.0 L1221.9,1513.9 L1224.7,1515.7 L1227.5,1517.6 L1230.4,1519.4 L1233.2,1521.3 L1236.0,1523.1 L1238.8,1524.9 L1241.7,1526.7 L1244.5,1528.5 L1247.3,1530.3 L1250.2,1532.1 L1253.0,1533.8 L1255.8,1535.6 L1258.7,1537.3 L1261.5,1539.0 L1264.4,1540.7 L1267.3,1542.3 L1270.2,1543.9 L1273.1,1545.5 L1276.0,1547.0 L1278.9,1548.5 L1281.8,1550.0 L1284.8,1551.5 L1287.8,1552.9" fill="none" stroke="#2cb2c7" stroke-width="5.5"/>
<path d="M1409.2,1555.9 L1413.8,1555.7 L1418.3,1555.5 L1422.8,1555.2 L1427.3,1554.8 L1431.7,1554.3 L1436.2,1553.8 L1440.6,1553.3 L1445.1,1552.7 L1449.5,1552.0 L1453.9,1551.2 L1458.2,1550.5 L1462.6,1549.6 L1466.9,1548.7 L1471.3,1547.8 L1475.6,1546.8 L1479.9,1545.7 L1484.2,1544.6 L1488.5,1543.4 L1492.7,1542.2 L1497.0,1541.0 L1501.2,1539.7 L1505.4,1538.4 L1509.6,1537.0 L1513.8,1535.5 L1517.9,1534.1 L1522.1,1532.5 L1526.2,1531.0 L1530.4,1529.4 L1534.5,1527.7 L1538.6,1526.1 L1542.6,1524.4 L1546.7,1522.6 L1550.8,1520.8 L1554.8,1519.0 L1558.8,1517.1 L1562.8,1515.2 L1566.8,1513.3 L1570.8,1511.3 L1574.7,1509.4 L1578.7,1507.3 L1582.6,1505.3 L1586.6,1503.2 L1590.5,1501.1 L1594.4,1499.0 L1598.2,1496.8 L1602.1,1494.6 L1605.9,1492.4 L1609.8,1490.2 L1613.6,1488.0 L1617.4,1485.7 L1621.2,1483.4 L1625.0,1481.1 L1628.7,1478.8 L1632.5,1476.4 L1636.2,1474.0 L1639.9,1471.7 L1643.7,1469.3 L1647.4,1466.9 L1651.0,1464.4 L1654.7,1462.0 L1658.4,1459.6 L1662.0,1457.1 L1665.7,1454.7 L1669.3,1452.2 L1673.0,1449.8 L1676.7,1447.4 L1680.4,1445.0 L1684.1,1442.6 L1687.9,1440.2 L1691.6,1437.9 L1695.4,1435.6 L1699.3,1433.4 L1703.2,1431.2 L1707.1,1429.0 L1711.1,1426.9 L1715.1,1424.8 L1719.2,1422.8 L1723.4,1420.9 L1727.5,1419.0 L1731.8,1417.2 L1736.0,1415.5 L1740.3,1413.8 L1744.6,1412.2 L1749.0,1410.7 L1753.4,1409.4 L1757.8,1408.0 L1762.2,1406.8 L1766.6,1405.7 L1771.0,1404.7 L1775.5,1403.8 L1779.9,1403.0 L1784.4,1402.4 L1788.8,1401.8 L1793.3,1401.4 L1797.7,1401.1 L1802.1,1401.0 L1806.5,1401.0 L1810.9,1401.1 L1815.2,1401.3 L1819.6,1401.7 L1823.9,1402.1 L1828.2,1402.7 L1832.4,1403.5 L1836.7,1404.3 L1840.9,1405.2 L1845.1,1406.3 L1849.3,1407.5 L1853.4,1408.8 L1857.6,1410.1 L1861.7,1411.6 L1865.7,1413.2 L1869.7,1414.9 L1873.7,1416.7 L1877.7,1418.6 L1881.6,1420.5 L1885.5,1422.6 L1889.4,1424.8 L1893.2,1427.0 L1897.0,1429.3 L1900.8,1431.7 L1904.5,1434.2 L1908.1,1436.7 L1911.8,1439.3 L1915.4,1442.0 L1918.9,1444.8 L1922.4,1447.6 L1925.8,1450.5 L1929.3,1453.5 L1932.6,1456.5 L1935.9,1459.6 L1939.2,1462.7 L1942.4,1465.9 L1945.6,1469.1 L1948.7,1472.4 L1951.7,1475.8 L1954.7,1479.1 L1957.7,1482.5 L1960.6,1486.0 L1963.4,1489.5 L1966.2,1493.0 L1968.9,1496.6 L1971.5,1500.2 L1974.1,1503.8 L1976.7,1507.5 L1979.2,1511.1 L1981.7,1514.8 L1984.1,1518.4 L1986.6,1522.0 L1989.1,1525.6 L1991.7,1529.1 L1994.3,1532.6 L1997.0,1536.0 L1999.7,1539.3 L2002.6,1542.5 L2005.6,1545.6 L2008.7,1548.6 L2012.0,1551.4 L2015.4,1554.1 L2019.0,1556.7" fill="none" stroke="#208c9d" stroke-width="11"/>
<path d="M1409.1,1553.5 L1412.7,1553.4 L1416.3,1553.2 L1419.9,1553.0 L1423.5,1552.7 L1427.0,1552.4 L1430.6,1552.0 L1434.1,1551.7 L1437.6,1551.2 L1441.2,1550.8 L1444.7,1550.3 L1448.2,1549.8 L1451.6,1549.2 L1455.1,1548.6 L1458.6,1547.9 L1462.1,1547.3 L1465.5,1546.6 L1469.0,1545.8 L1472.4,1545.0 L1475.8,1544.2 L1479.2,1543.4 L1482.6,1542.5 L1486.0,1541.6 L1489.4,1540.7 L1492.8,1539.7 L1496.2,1538.7 L1499.5,1537.7 L1502.9,1536.6 L1506.2,1535.6 L1509.5,1534.5 L1512.9,1533.3 L1516.2,1532.1 L1519.5,1531.0 L1522.8,1529.7 L1526.1,1528.5 L1529.3,1527.2 L1532.6,1525.9 L1535.9,1524.6 L1539.1,1523.2 L1542.3,1521.9 L1545.6,1520.5 L1548.8,1519.1 L1552.0,1517.6 L1555.2,1516.1 L1558.4,1514.7 L1561.6,1513.2 L1564.8,1511.6 L1567.9,1510.1 L1571.1,1508.5 L1574.3,1506.9 L1577.4,1505.3 L1580.5,1503.7 L1583.7,1502.0 L1586.8,1500.4 L1589.9,1498.7 L1593.0,1497.0 L1596.1,1495.3 L1599.1,1493.6 L1602.2,1491.8 L1605.3,1490.1 L1608.3,1488.3 L1611.4,1486.5 L1614.4,1484.7 L1617.4,1482.9 L1620.5,1481.0 L1623.5,1479.2 L1626.5,1477.3 L1629.5,1475.5 L1632.4,1473.6 L1635.4,1471.7 L1638.4,1469.8 L1641.3,1467.9 L1644.3,1466.0 L1647.2,1464.1 L1650.2,1462.1 L1653.1,1460.2 L1656.0,1458.2 L1658.9,1456.3 L1661.9,1454.3 L1664.8,1452.4 L1667.7,1450.4 L1670.7,1448.5 L1673.6,1446.5 L1676.6,1444.6 L1679.5,1442.7 L1682.5,1440.8 L1685.5,1438.9 L1688.5,1437.0 L1691.6,1435.2 L1694.6,1433.3 L1697.7,1431.5 L1700.9,1429.7 L1704.0,1428.0 L1707.2,1426.2 L1710.4,1424.5 L1713.7,1422.9 L1716.9,1421.3 L1720.3,1419.7 L1723.6,1418.1 L1727.0,1416.6 L1730.4,1415.2 L1733.8,1413.8 L1737.3,1412.4 L1740.8,1411.1 L1744.3,1409.8 L1747.8,1408.6 L1751.3,1407.5 L1754.8,1406.4 L1758.4,1405.4 L1762.0,1404.4 L1765.6,1403.5 L1769.1,1402.7 L1772.7,1401.9 L1776.3,1401.2 L1779.9,1400.6 L1783.5,1400.1 L1787.1,1399.6 L1790.7,1399.2 L1794.3,1398.9 L1797.9,1398.7 L1801.5,1398.6 L1805.1,1398.5 L1808.6,1398.6 L1812.2,1398.7 L1815.7,1398.9 L1819.2,1399.2 L1822.7,1399.6 L1826.2,1400.0 L1829.7,1400.5 L1833.2,1401.2 L1836.6,1401.8 L1840.1,1402.6 L1843.5,1403.4 L1846.9,1404.3 L1850.3,1405.3 L1853.6,1406.3 L1857.0,1407.4 L1860.3,1408.6 L1863.6,1409.8 L1866.9,1411.1 L1870.1,1412.5 L1873.4,1413.9 L1876.6,1415.4 L1879.8,1416.9 L1883.0,1418.5 L1886.1,1420.2 L1889.2,1421.9 L1892.3,1423.7 L1895.4,1425.5 L1898.5,1427.4 L1901.5,1429.3 L1904.5,1431.3 L1907.5,1433.3 L1910.4,1435.4 L1913.4,1437.5 L1916.3,1439.7 L1919.1,1441.9 L1922.0,1444.2 L1924.8,1446.5 L1927.5,1448.8 L1930.3,1451.2 L1933.0,1453.6 L1935.7,1456.1 L1938.3,1458.6 L1941.0,1461.1 L1943.6,1463.7 L1946.1,1466.3 L1948.6,1468.9 L1951.1,1471.6 L1953.6,1474.2 L1956.0,1477.0 L1958.4,1479.7 L1960.7,1482.5 L1963.1,1485.3 L1965.3,1488.1 L1967.6,1490.9 L1969.8,1493.8 L1971.9,1496.7 L1974.1,1499.6 L1976.1,1502.5 L1978.2,1505.4 L1980.2,1508.4 L1982.2,1511.3 L1984.2,1514.2 L1986.2,1517.1 L1988.1,1520.0 L1990.1,1522.9 L1992.1,1525.7 L1994.2,1528.4 L1996.2,1531.2 L1998.3,1533.9 L2000.5,1536.5 L2002.7,1539.0 L2004.9,1541.5 L2007.3,1543.9 L2009.7,1546.3 L2012.2,1548.5 L2014.8,1550.7 L2017.5,1552.7 L2020.4,1554.7" fill="none" stroke="#2cb2c7" stroke-width="5.5"/>
<path d="M2140.9,1554.7 L2145.0,1553.0 L2149.2,1551.3 L2153.2,1549.5 L2157.3,1547.6 L2161.3,1545.7 L2165.4,1543.7 L2169.3,1541.6 L2173.3,1539.5 L2177.2,1537.4 L2181.1,1535.1 L2185.0,1532.9 L2188.9,1530.5 L2192.7,1528.2 L2196.5,1525.8 L2200.3,1523.3 L2204.1,1520.8 L2207.9,1518.3 L2211.6,1515.8 L2215.4,1513.2 L2219.1,1510.6 L2222.8,1507.9 L2226.5,1505.3 L2230.2,1502.6 L2233.9,1499.9 L2237.5,1497.2 L2241.2,1494.4 L2244.9,1491.7 L2248.5,1488.9 L2252.2,1486.2 L2255.8,1483.4 L2259.5,1480.7 L2263.1,1477.9 L2266.8,1475.1 L2270.5,1472.4 L2274.1,1469.6 L2277.8,1466.9 L2281.4,1464.1 L2285.1,1461.4 L2288.8,1458.7 L2292.5,1456.0 L2296.2,1453.4 L2299.9,1450.7 L2303.6,1448.1 L2307.4,1445.5 L2311.1,1443.0 L2314.9,1440.4 L2318.7,1438.0 L2322.5,1435.5 L2326.3,1433.1 L2330.1,1430.7 L2334.0,1428.4 L2337.9,1426.1 L2341.8,1423.9 L2345.7,1421.7 L2349.6,1419.6 L2353.6,1417.6 L2357.6,1415.6 L2361.7,1413.6 L2365.7,1411.8 L2369.8,1409.9 L2373.9,1408.2 L2378.1,1406.5 L2382.3,1404.9 L2386.5,1403.4 L2390.8,1402.0 L2395.1,1400.6 L2399.4,1399.3 L2403.7,1398.1 L2408.1,1397.0 L2412.5,1395.9 L2417.0,1395.0 L2421.4,1394.1 L2425.9,1393.2 L2430.3,1392.5 L2434.8,1391.8 L2439.4,1391.3 L2443.9,1390.8 L2448.4,1390.3 L2453.0,1390.0 L2457.5,1389.7 L2462.1,1389.6 L2466.6,1389.5 L2471.2,1389.4 L2475.7,1389.5 L2480.3,1389.6 L2484.8,1389.9 L2489.3,1390.2 L2493.9,1390.6 L2498.4,1391.1 L2502.9,1391.6 L2507.4,1392.3 L2511.8,1393.0 L2516.3,1393.8 L2520.7,1394.7 L2525.1,1395.7 L2529.5,1396.7 L2533.9,1397.9 L2538.2,1399.1 L2542.5,1400.4 L2546.7,1401.8 L2551.0,1403.3 L2555.2,1404.9 L2559.4,1406.5 L2563.5,1408.2 L2567.7,1410.0 L2571.8,1411.8 L2575.9,1413.7 L2579.9,1415.7 L2583.9,1417.8 L2587.9,1419.9 L2591.9,1422.0 L2595.8,1424.3 L2599.8,1426.5 L2603.7,1428.9 L2607.5,1431.3 L2611.4,1433.7 L2615.2,1436.2 L2619.0,1438.7 L2622.8,1441.3 L2626.5,1443.9 L2630.3,1446.6 L2634.0,1449.3 L2637.6,1452.0 L2641.3,1454.8 L2644.9,1457.6 L2648.5,1460.4 L2652.1,1463.3 L2655.7,1466.2 L2659.3,1469.1 L2662.8,1472.0 L2666.3,1475.0 L2669.8,1478.0 L2673.2,1481.0 L2676.7,1484.0 L2680.1,1487.0 L2683.5,1490.0 L2686.9,1493.1 L2690.3,1496.1 L2693.6,1499.2 L2697.0,1502.2 L2700.3,1505.3 L2703.6,1508.3 L2706.9,1511.4 L2710.3,1514.4 L2713.6,1517.4 L2716.9,1520.4 L2720.3,1523.3 L2723.7,1526.2 L2727.1,1529.1 L2730.5,1532.0 L2733.9,1534.8 L2737.4,1537.6 L2740.9,1540.3 L2744.4,1543.0 L2748.0,1545.6 L2751.6,1548.2 L2755.3,1550.7 L2759.0,1553.2 L2762.7,1555.6" fill="none" stroke="#208c9d" stroke-width="11"/>
<path d="M2140.0,1552.5 L2143.3,1551.2 L2146.6,1549.8 L2149.8,1548.4 L2153.1,1547.0 L2156.3,1545.5 L2159.5,1543.9 L2162.7,1542.4 L2165.8,1540.8 L2169.0,1539.1 L2172.1,1537.4 L2175.2,1535.7 L2178.3,1534.0 L2181.4,1532.2 L2184.5,1530.4 L2187.6,1528.5 L2190.6,1526.7 L2193.6,1524.8 L2196.7,1522.8 L2199.7,1520.9 L2202.7,1518.9 L2205.7,1516.9 L2208.7,1514.9 L2211.7,1512.8 L2214.6,1510.8 L2217.6,1508.7 L2220.6,1506.6 L2223.5,1504.5 L2226.5,1502.3 L2229.4,1500.2 L2232.3,1498.0 L2235.3,1495.9 L2238.2,1493.7 L2241.1,1491.5 L2244.0,1489.3 L2247.0,1487.1 L2249.9,1484.9 L2252.8,1482.7 L2255.7,1480.5 L2258.6,1478.3 L2261.5,1476.1 L2264.5,1473.9 L2267.4,1471.7 L2270.3,1469.5 L2273.2,1467.3 L2276.2,1465.1 L2279.1,1462.9 L2282.0,1460.7 L2285.0,1458.5 L2287.9,1456.4 L2290.9,1454.2 L2293.9,1452.1 L2296.8,1449.9 L2299.8,1447.8 L2302.8,1445.8 L2305.8,1443.7 L2308.8,1441.6 L2311.8,1439.6 L2314.8,1437.6 L2317.9,1435.6 L2320.9,1433.6 L2324.0,1431.7 L2327.1,1429.8 L2330.2,1427.9 L2333.3,1426.0 L2336.4,1424.2 L2339.5,1422.4 L2342.7,1420.7 L2345.9,1418.9 L2349.0,1417.2 L2352.2,1415.6 L2355.5,1414.0 L2358.7,1412.4 L2362.0,1410.8 L2365.2,1409.3 L2368.5,1407.9 L2371.9,1406.5 L2375.2,1405.1 L2378.6,1403.8 L2382.0,1402.5 L2385.4,1401.3 L2388.8,1400.1 L2392.3,1399.0 L2395.7,1397.9 L2399.2,1396.9 L2402.7,1395.9 L2406.3,1395.0 L2409.8,1394.1 L2413.4,1393.3 L2416.9,1392.5 L2420.5,1391.8 L2424.1,1391.1 L2427.7,1390.5 L2431.4,1389.9 L2435.0,1389.4 L2438.6,1388.9 L2442.3,1388.5 L2445.9,1388.1 L2449.6,1387.8 L2453.3,1387.6 L2456.9,1387.4 L2460.6,1387.2 L2464.3,1387.1 L2467.9,1387.0 L2471.6,1387.0 L2475.3,1387.1 L2479.0,1387.2 L2482.6,1387.4 L2486.3,1387.6 L2489.9,1387.8 L2493.6,1388.1 L2497.2,1388.5 L2500.9,1388.9 L2504.5,1389.4 L2508.1,1389.9 L2511.7,1390.5 L2515.3,1391.2 L2518.9,1391.9 L2522.5,1392.6 L2526.0,1393.4 L2529.6,1394.3 L2533.1,1395.2 L2536.6,1396.2 L2540.1,1397.2 L2543.5,1398.2 L2547.0,1399.4 L2550.4,1400.6 L2553.8,1401.8 L2557.2,1403.1 L2560.6,1404.4 L2563.9,1405.8 L2567.3,1407.2 L2570.6,1408.6 L2573.9,1410.2 L2577.2,1411.7 L2580.4,1413.3 L2583.7,1414.9 L2586.9,1416.6 L2590.1,1418.3 L2593.3,1420.1 L2596.5,1421.9 L2599.6,1423.7 L2602.8,1425.6 L2605.9,1427.4 L2609.0,1429.4 L2612.1,1431.3 L2615.2,1433.3 L2618.3,1435.3 L2621.3,1437.4 L2624.3,1439.5 L2627.3,1441.6 L2630.3,1443.7 L2633.3,1445.9 L2636.3,1448.0 L2639.2,1450.2 L2642.2,1452.5 L2645.1,1454.7 L2648.0,1457.0 L2650.9,1459.2 L2653.8,1461.5 L2656.6,1463.9 L2659.5,1466.2 L2662.3,1468.5 L2665.2,1470.9 L2668.0,1473.3 L2670.8,1475.7 L2673.5,1478.1 L2676.3,1480.5 L2679.1,1482.9 L2681.8,1485.3 L2684.5,1487.7 L2687.2,1490.2 L2689.9,1492.6 L2692.6,1495.1 L2695.3,1497.5 L2698.0,1499.9 L2700.7,1502.4 L2703.3,1504.8 L2706.0,1507.2 L2708.6,1509.7 L2711.3,1512.1 L2713.9,1514.5 L2716.6,1516.8 L2719.3,1519.2 L2721.9,1521.6 L2724.6,1523.9 L2727.3,1526.2 L2730.0,1528.5 L2732.7,1530.7 L2735.5,1533.0 L2738.2,1535.2 L2741.0,1537.4 L2743.8,1539.5 L2746.6,1541.6 L2749.4,1543.7 L2752.3,1545.7 L2755.2,1547.8 L2758.1,1549.7 L2761.0,1551.6 L2764.0,1553.5" fill="none" stroke="#2cb2c7" stroke-width="5.5"/>
<path d="M2874.6,1554.6 L2879.1,1553.7 L2883.5,1552.6 L2887.7,1551.4 L2891.8,1549.9 L2895.7,1548.3 L2899.6,1546.5 L2903.3,1544.6 L2907.0,1542.5 L2910.5,1540.3 L2914.0,1538.0 L2917.4,1535.5 L2920.8,1533.0 L2924.0,1530.4 L2927.3,1527.7 L2930.5,1524.9 L2933.6,1522.1 L2936.8,1519.2 L2939.9,1516.3 L2943.0,1513.4 L2946.2,1510.5 L2949.3,1507.6 L2952.4,1504.7 L2955.6,1501.8 L2958.8,1498.9 L2962.1,1496.1 L2965.4,1493.3 L2968.7,1490.6 L2972.1,1487.9 L2975.6,1485.3 L2979.1,1482.8 L2982.7,1480.3 L2986.2,1477.9 L2989.9,1475.5 L2993.6,1473.2 L2997.3,1471.0 L3001.0,1468.8 L3004.8,1466.6 L3008.7,1464.6 L3012.6,1462.5 L3016.5,1460.6 L3020.4,1458.7 L3024.4,1456.8 L3028.4,1455.1 L3032.4,1453.3 L3036.5,1451.7 L3040.5,1450.1 L3044.6,1448.5 L3048.8,1447.1 L3052.9,1445.6 L3057.1,1444.3 L3061.3,1443.0 L3065.5,1441.7 L3069.7,1440.6 L3074.0,1439.4 L3078.2,1438.4 L3082.5,1437.4 L3086.8,1436.5 L3091.1,1435.6 L3095.4,1434.8 L3099.7,1434.1 L3104.0,1433.4 L3108.3,1432.8 L3112.7,1432.2 L3117.0,1431.7 L3121.3,1431.3 L3125.6,1430.9 L3130.0,1430.6 L3134.3,1430.4 L3138.6,1430.2 L3142.9,1430.1 L3147.2,1430.0 L3151.5,1430.0 L3155.8,1430.1 L3160.0,1430.3 L3164.3,1430.5 L3168.5,1430.8 L3172.8,1431.1 L3177.0,1431.5 L3181.2,1431.9 L3185.4,1432.4 L3189.6,1433.0 L3193.8,1433.6 L3198.0,1434.3 L3202.2,1435.0 L3206.4,1435.8 L3210.5,1436.6 L3214.7,1437.4 L3218.8,1438.4 L3222.9,1439.3 L3227.1,1440.3 L3231.2,1441.4 L3235.3,1442.5 L3239.4,1443.6 L3243.5,1444.8 L3247.5,1446.0 L3251.6,1447.3 L3255.7,1448.6 L3259.8,1449.9 L3263.8,1451.3 L3267.9,1452.7 L3271.9,1454.1 L3275.9,1455.6 L3280.0,1457.1 L3284.0,1458.6 L3288.0,1460.2 L3292.0,1461.8 L3296.0,1463.4 L3300.0,1465.0 L3304.0,1466.7 L3308.0,1468.4 L3312.0,1470.1 L3316.0,1471.8 L3320.0,1473.5 L3323.9,1475.3 L3327.9,1477.1 L3331.9,1478.9 L3335.8,1480.7 L3339.8,1482.5 L3343.7,1484.3 L3347.7,1486.2 L3351.6,1488.0 L3355.6,1489.9 L3359.5,1491.8 L3363.4,1493.6 L3367.4,1495.5 L3371.3,1497.4 L3375.2,1499.3 L3379.1,1501.2 L3383.1,1503.1 L3387.0,1505.0 L3390.9,1506.9 L3394.8,1508.8 L3398.7,1510.7 L3402.6,1512.6 L3406.5,1514.4 L3410.4,1516.3 L3414.4,1518.2 L3418.3,1520.0 L3422.2,1521.9 L3426.1,1523.7 L3430.0,1525.5 L3433.9,1527.3 L3437.8,1529.1 L3441.7,1530.9 L3445.6,1532.6 L3449.5,1534.4 L3453.4,1536.1 L3457.3,1537.8 L3461.2,1539.5 L3465.1,1541.1 L3469.0,1542.8 L3472.9,1544.4 L3476.8,1545.9 L3480.8,1547.5 L3484.7,1549.0 L3488.6,1550.5 L3492.5,1552.0 L3496.4,1553.4 L3500.3,1554.8" fill="none" stroke="#208c9d" stroke-width="11"/>
<path d="M2874.2,1552.2 L2877.8,1551.5 L2881.2,1550.8 L2884.5,1549.9 L2887.7,1548.8 L2890.9,1547.7 L2894.0,1546.4 L2897.0,1545.1 L2900.0,1543.6 L2902.9,1542.1 L2905.7,1540.5 L2908.5,1538.7 L2911.2,1536.9 L2913.9,1535.1 L2916.6,1533.1 L2919.2,1531.1 L2921.8,1529.1 L2924.4,1527.0 L2926.9,1524.8 L2929.5,1522.6 L2932.0,1520.4 L2934.5,1518.1 L2937.0,1515.8 L2939.5,1513.5 L2941.9,1511.2 L2944.4,1508.8 L2946.9,1506.5 L2949.5,1504.1 L2952.0,1501.8 L2954.6,1499.5 L2957.1,1497.2 L2959.8,1494.9 L2962.4,1492.7 L2965.1,1490.4 L2967.8,1488.3 L2970.6,1486.1 L2973.3,1484.0 L2976.2,1482.0 L2979.0,1479.9 L2981.9,1477.9 L2984.8,1476.0 L2987.7,1474.1 L2990.7,1472.2 L2993.6,1470.4 L2996.6,1468.6 L2999.7,1466.8 L3002.7,1465.1 L3005.8,1463.4 L3008.9,1461.7 L3012.1,1460.1 L3015.2,1458.5 L3018.4,1457.0 L3021.6,1455.5 L3024.8,1454.0 L3028.0,1452.6 L3031.2,1451.2 L3034.5,1449.9 L3037.8,1448.6 L3041.1,1447.3 L3044.4,1446.1 L3047.7,1444.9 L3051.1,1443.7 L3054.4,1442.6 L3057.8,1441.5 L3061.2,1440.5 L3064.6,1439.5 L3068.0,1438.6 L3071.4,1437.6 L3074.8,1436.8 L3078.2,1435.9 L3081.7,1435.1 L3085.1,1434.4 L3088.6,1433.7 L3092.1,1433.0 L3095.5,1432.3 L3099.0,1431.7 L3102.5,1431.2 L3105.9,1430.7 L3109.4,1430.2 L3112.9,1429.7 L3116.4,1429.4 L3119.9,1429.0 L3123.3,1428.7 L3126.8,1428.4 L3130.3,1428.2 L3133.8,1428.0 L3137.3,1427.8 L3140.7,1427.7 L3144.2,1427.7 L3147.7,1427.6 L3151.1,1427.6 L3154.6,1427.7 L3158.0,1427.8 L3161.5,1427.9 L3164.9,1428.1 L3168.3,1428.3 L3171.7,1428.6 L3175.1,1428.9 L3178.5,1429.2 L3181.9,1429.6 L3185.3,1430.0 L3188.7,1430.4 L3192.1,1430.9 L3195.5,1431.4 L3198.8,1432.0 L3202.2,1432.5 L3205.5,1433.2 L3208.9,1433.8 L3212.2,1434.5 L3215.5,1435.2 L3218.9,1435.9 L3222.2,1436.7 L3225.5,1437.5 L3228.8,1438.3 L3232.1,1439.2 L3235.4,1440.0 L3238.7,1441.0 L3242.0,1441.9 L3245.3,1442.9 L3248.6,1443.8 L3251.8,1444.9 L3255.1,1445.9 L3258.4,1446.9 L3261.6,1448.0 L3264.9,1449.1 L3268.1,1450.3 L3271.4,1451.4 L3274.6,1452.6 L3277.9,1453.8 L3281.1,1455.0 L3284.3,1456.2 L3287.5,1457.4 L3290.8,1458.7 L3294.0,1460.0 L3297.2,1461.3 L3300.4,1462.6 L3303.6,1463.9 L3306.8,1465.2 L3310.0,1466.6 L3313.2,1468.0 L3316.4,1469.3 L3319.6,1470.7 L3322.7,1472.1 L3325.9,1473.5 L3329.1,1475.0 L3332.3,1476.4 L3335.4,1477.9 L3338.6,1479.3 L3341.8,1480.8 L3344.9,1482.2 L3348.1,1483.7 L3351.2,1485.2 L3354.4,1486.7 L3357.6,1488.2 L3360.7,1489.7 L3363.8,1491.2 L3367.0,1492.7 L3370.1,1494.2 L3373.3,1495.7 L3376.4,1497.2 L3379.5,1498.7 L3382.7,1500.3 L3385.8,1501.8 L3388.9,1503.3 L3392.1,1504.8 L3395.2,1506.3 L3398.3,1507.8 L3401.4,1509.3 L3404.6,1510.8 L3407.7,1512.3 L3410.8,1513.8 L3413.9,1515.3 L3417.1,1516.8 L3420.2,1518.3 L3423.3,1519.7 L3426.4,1521.2 L3429.5,1522.7 L3432.6,1524.1 L3435.7,1525.5 L3438.9,1527.0 L3442.0,1528.4 L3445.1,1529.8 L3448.2,1531.2 L3451.3,1532.6 L3454.4,1533.9 L3457.5,1535.3 L3460.6,1536.6 L3463.8,1537.9 L3466.9,1539.3 L3470.0,1540.6 L3473.1,1541.8 L3476.2,1543.1 L3479.3,1544.3 L3482.4,1545.6 L3485.5,1546.8 L3488.7,1548.0 L3491.8,1549.1 L3494.9,1550.3 L3498.0,1551.4 L3501.1,1552.5" fill="none" stroke="#2cb2c7" stroke-width="5.5"/>
<path d="M3626.4,1554.6 L3630.1,1553.8 L3633.8,1553.0 L3637.5,1552.3 L3641.2,1551.5 L3644.9,1550.8 L3648.6,1550.0 L3652.4,1549.3 L3656.1,1548.6 L3659.8,1547.9 L3663.5,1547.2 L3667.2,1546.5 L3671.0,1545.8 L3674.7,1545.1 L3678.4,1544.4 L3682.1,1543.8 L3685.9,1543.1 L3689.6,1542.5 L3693.3,1541.9 L3697.1,1541.2 L3700.8,1540.6 L3704.6,1540.0 L3708.3,1539.4 L3712.1,1538.8 L3715.8,1538.2 L3719.6,1537.7 L3723.3,1537.1 L3727.1,1536.5 L3730.8,1536.0 L3734.6,1535.4 L3738.3,1534.9 L3742.1,1534.4 L3745.9,1533.9 L3749.6,1533.4 L3753.4,1532.9 L3757.2,1532.4 L3760.9,1531.9 L3764.7,1531.4 L3768.5,1531.0 L3772.3,1530.5 L3776.1,1530.1 L3779.8,1529.7 L3783.6,1529.2 L3787.4,1528.8 L3791.2,1528.4 L3795.0,1528.0 L3798.7,1527.6 L3802.5,1527.3 L3806.3,1526.9 L3810.1,1526.5 L3813.9,1526.2 L3817.7,1525.8 L3821.5,1525.5 L3825.3,1525.2 L3829.1,1524.9 L3832.9,1524.5 L3836.7,1524.2 L3840.5,1524.0 L3844.3,1523.7 L3848.1,1523.4 L3851.9,1523.2 L3855.7,1522.9 L3859.5,1522.7 L3863.3,1522.4 L3867.1,1522.2 L3870.9,1522.0 L3874.7,1521.8 L3878.5,1521.6 L3882.3,1521.4 L3886.1,1521.2 L3889.9,1521.1 L3893.7,1520.9 L3897.5,1520.7 L3901.3,1520.6 L3905.1,1520.5 L3908.9,1520.4 L3912.7,1520.2 L3916.5,1520.1 L3920.3,1520.1 L3924.1,1520.0 L3928.0,1519.9 L3931.8,1519.8 L3935.6,1519.8 L3939.4,1519.7 L3943.2,1519.7 L3947.0,1519.7 L3950.8,1519.7 L3954.6,1519.7 L3958.4,1519.7 L3962.2,1519.7 L3966.0,1519.7 L3969.8,1519.7 L3973.6,1519.8 L3977.5,1519.8 L3981.3,1519.9 L3985.1,1520.0 L3988.9,1520.0 L3992.7,1520.1 L3996.5,1520.2 L4000.3,1520.3 L4004.1,1520.5 L4007.9,1520.6 L4011.7,1520.7 L4015.5,1520.9 L4019.3,1521.0 L4023.1,1521.2 L4026.9,1521.4 L4030.7,1521.6 L4034.5,1521.8 L4038.3,1522.0 L4042.1,1522.2 L4045.9,1522.4 L4049.7,1522.7 L4053.4,1522.9 L4057.2,1523.2 L4061.0,1523.5 L4064.8,1523.8 L4068.6,1524.0 L4072.4,1524.4 L4076.2,1524.7 L4080.0,1525.0 L4083.7,1525.3 L4087.5,1525.7 L4091.3,1526.1 L4095.1,1526.5 L4098.8,1526.9 L4102.6,1527.3 L4106.4,1527.7 L4110.1,1528.2 L4113.9,1528.7 L4117.6,1529.1 L4121.4,1529.7 L4125.1,1530.2 L4128.9,1530.7 L4132.6,1531.3 L4136.4,1531.9 L4140.1,1532.5 L4143.8,1533.1 L4147.6,1533.8 L4151.3,1534.4 L4155.0,1535.1 L4158.7,1535.9 L4162.4,1536.6 L4166.1,1537.4 L4169.8,1538.2 L4173.5,1539.0 L4177.2,1539.8 L4180.9,1540.7 L4184.6,1541.6 L4188.3,1542.5 L4191.9,1543.5 L4195.6,1544.5 L4199.2,1545.5 L4202.9,1546.5 L4206.5,1547.6 L4210.2,1548.7 L4213.8,1549.8 L4217.4,1551.0 L4221.1,1552.2 L4224.7,1553.4" fill="none" stroke="#208c9d" stroke-width="11"/>
<path d="M3625.9,1552.2 L3628.9,1551.6 L3631.9,1551.0 L3634.8,1550.4 L3637.8,1549.8 L3640.7,1549.2 L3643.7,1548.6 L3646.7,1548.0 L3649.6,1547.4 L3652.6,1546.8 L3655.6,1546.2 L3658.6,1545.7 L3661.5,1545.1 L3664.5,1544.5 L3667.5,1544.0 L3670.5,1543.4 L3673.4,1542.9 L3676.4,1542.4 L3679.4,1541.8 L3682.4,1541.3 L3685.4,1540.8 L3688.4,1540.3 L3691.4,1539.8 L3694.4,1539.2 L3697.3,1538.8 L3700.3,1538.3 L3703.3,1537.8 L3706.3,1537.3 L3709.3,1536.8 L3712.3,1536.3 L3715.3,1535.9 L3718.3,1535.4 L3721.3,1535.0 L3724.3,1534.5 L3727.3,1534.1 L3730.4,1533.6 L3733.4,1533.2 L3736.4,1532.8 L3739.4,1532.3 L3742.4,1531.9 L3745.4,1531.5 L3748.4,1531.1 L3751.4,1530.7 L3754.4,1530.3 L3757.5,1529.9 L3760.5,1529.6 L3763.5,1529.2 L3766.5,1528.8 L3769.5,1528.4 L3772.6,1528.1 L3775.6,1527.7 L3778.6,1527.4 L3781.6,1527.0 L3784.7,1526.7 L3787.7,1526.4 L3790.7,1526.1 L3793.7,1525.7 L3796.8,1525.4 L3799.8,1525.1 L3802.8,1524.8 L3805.9,1524.5 L3808.9,1524.2 L3811.9,1523.9 L3815.0,1523.7 L3818.0,1523.4 L3821.0,1523.1 L3824.1,1522.9 L3827.1,1522.6 L3830.1,1522.4 L3833.2,1522.1 L3836.2,1521.9 L3839.2,1521.6 L3842.3,1521.4 L3845.3,1521.2 L3848.4,1521.0 L3851.4,1520.8 L3854.4,1520.6 L3857.5,1520.4 L3860.5,1520.2 L3863.6,1520.0 L3866.6,1519.8 L3869.7,1519.6 L3872.7,1519.5 L3875.7,1519.3 L3878.8,1519.2 L3881.8,1519.0 L3884.9,1518.9 L3887.9,1518.7 L3891.0,1518.6 L3894.0,1518.5 L3897.1,1518.4 L3900.1,1518.2 L3903.2,1518.1 L3906.2,1518.0 L3909.2,1517.9 L3912.3,1517.9 L3915.3,1517.8 L3918.4,1517.7 L3921.4,1517.6 L3924.5,1517.6 L3927.5,1517.5 L3930.6,1517.5 L3933.6,1517.4 L3936.7,1517.4 L3939.7,1517.3 L3942.8,1517.3 L3945.8,1517.3 L3948.9,1517.3 L3951.9,1517.3 L3955.0,1517.3 L3958.0,1517.3 L3961.1,1517.3 L3964.1,1517.3 L3967.1,1517.3 L3970.2,1517.3 L3973.2,1517.4 L3976.3,1517.4 L3979.3,1517.5 L3982.4,1517.5 L3985.4,1517.6 L3988.5,1517.6 L3991.5,1517.7 L3994.6,1517.8 L3997.6,1517.9 L4000.6,1518.0 L4003.7,1518.0 L4006.7,1518.2 L4009.8,1518.3 L4012.8,1518.4 L4015.9,1518.5 L4018.9,1518.6 L4021.9,1518.8 L4025.0,1518.9 L4028.0,1519.0 L4031.1,1519.2 L4034.1,1519.4 L4037.1,1519.5 L4040.2,1519.7 L4043.2,1519.9 L4046.2,1520.1 L4049.3,1520.3 L4052.3,1520.5 L4055.3,1520.7 L4058.4,1520.9 L4061.4,1521.1 L4064.4,1521.3 L4067.5,1521.6 L4070.5,1521.8 L4073.5,1522.0 L4076.6,1522.3 L4079.6,1522.6 L4082.6,1522.8 L4085.6,1523.1 L4088.7,1523.4 L4091.7,1523.7 L4094.7,1524.0 L4097.7,1524.3 L4100.8,1524.7 L4103.8,1525.0 L4106.8,1525.4 L4109.8,1525.7 L4112.8,1526.1 L4115.8,1526.5 L4118.8,1526.9 L4121.9,1527.3 L4124.9,1527.7 L4127.9,1528.2 L4130.9,1528.6 L4133.9,1529.1 L4136.9,1529.5 L4139.9,1530.0 L4142.9,1530.5 L4145.8,1531.0 L4148.8,1531.6 L4151.8,1532.1 L4154.8,1532.7 L4157.8,1533.2 L4160.8,1533.8 L4163.7,1534.4 L4166.7,1535.0 L4169.7,1535.7 L4172.6,1536.3 L4175.6,1537.0 L4178.6,1537.7 L4181.5,1538.4 L4184.5,1539.1 L4187.4,1539.8 L4190.4,1540.6 L4193.3,1541.4 L4196.3,1542.2 L4199.2,1543.0 L4202.1,1543.8 L4205.1,1544.6 L4208.0,1545.5 L4210.9,1546.4 L4213.8,1547.3 L4216.7,1548.2 L4219.7,1549.2 L4222.6,1550.1 L4225.5,1551.1" fill="none" stroke="#2cb2c7" stroke-width="5.5"/>
<path d="M669.2,1915.4 L669.0,1909.5 L668.9,1903.6 L669.1,1897.7 L669.4,1891.9 L669.9,1886.0 L670.5,1880.3 L671.4,1874.5 L672.4,1868.8 L673.6,1863.1 L674.9,1857.4 L676.4,1851.9 L678.1,1846.3 L679.9,1840.8 L681.9,1835.4 L684.0,1830.0 L686.3,1824.7 L688.7,1819.4 L691.3,1814.2 L694.0,1809.1 L696.8,1804.0 L699.8,1799.0 L702.9,1794.1 L706.1,1789.3 L709.4,1784.6 L712.9,1779.9 L716.4,1775.4 L720.1,1770.9 L723.9,1766.6 L727.8,1762.3 L731.8,1758.2 L735.9,1754.1 L740.1,1750.2 L744.4,1746.3 L748.7,1742.6 L753.2,1739.0 L757.8,1735.5 L762.4,1732.1 L767.1,1728.9 L771.9,1725.7 L776.7,1722.7 L781.6,1719.7 L786.6,1716.8 L791.7,1714.1 L796.8,1711.4 L801.9,1708.8 L807.2,1706.3 L812.4,1703.9 L817.7,1701.6 L823.1,1699.3 L828.5,1697.1 L834.0,1695.0 L839.4,1693.0 L844.9,1691.0 L850.5,1689.1 L856.0,1687.2 L861.6,1685.4 L867.2,1683.7 L872.9,1682.0 L878.5,1680.3 L884.2,1678.7 L889.8,1677.1 L895.5,1675.6 L901.2,1674.1 L906.8,1672.7 L912.5,1671.3 L918.2,1669.9 L923.8,1668.5 L929.5,1667.2 L935.1,1665.9 L940.7,1664.6 L946.3,1663.3 L951.9,1662.0 L957.4,1660.8 L963.0,1659.6 L968.6,1658.4 L974.1,1657.3 L979.7,1656.2 L985.2,1655.1 L990.8,1654.1 L996.4,1653.2 L1002.0,1652.3 L1007.6,1651.4 L1013.2,1650.6 L1018.9,1649.9 L1024.6,1649.3 L1030.3,1648.7 L1036.0,1648.1 L1041.8,1647.7 L1047.6,1647.3 L1053.4,1647.0 L1059.3,1646.8 L1065.2,1646.7 L1071.1,1646.7 L1077.1,1646.7 L1083.0,1646.9 L1089.0,1647.2 L1094.9,1647.6 L1100.8,1648.1 L1106.7,1648.7 L1112.6,1649.5 L1118.5,1650.4 L1124.3,1651.4 L1130.1,1652.6 L1135.8,1653.9 L1141.4,1655.3 L1147.0,1657.0 L1152.5,1658.7 L1157.9,1660.7 L1163.3,1662.8 L1168.5,1665.1 L1173.6,1667.5 L1178.7,1670.2 L1183.6,1673.0 L1188.4,1676.0 L1193.0,1679.3 L1197.6,1682.7 L1201.9,1686.3 L1206.2,1690.1 L1210.2,1694.2 L1214.2,1698.4 L1217.9,1702.8 L1221.5,1707.4 L1224.8,1712.1 L1228.0,1717.0 L1231.0,1721.9 L1233.8,1727.0 L1236.4,1732.2 L1238.8,1737.5 L1240.9,1742.9 L1242.9,1748.4 L1244.7,1753.9 L1246.3,1759.5 L1247.7,1765.2 L1249.0,1770.9 L1250.1,1776.6 L1251.1,1782.5 L1252.0,1788.3 L1252.8,1794.2 L1253.4,1800.1 L1254.0,1806.0 L1254.5,1812.0 L1254.9,1817.9 L1255.2,1823.9 L1255.5,1829.8 L1255.7,1835.8 L1255.9,1841.7 L1256.1,1847.7 L1256.3,1853.5 L1256.4,1859.4 L1256.6,1865.2 L1256.8,1871.0 L1257.0,1876.8 L1257.3,1882.5 L1257.6,1888.1 L1257.9,1893.7 L1258.3,1899.2 L1258.8,1904.6 L1259.4,1909.9 L1260.1,1915.2" fill="none" stroke="#208c9d" stroke-width="13"/>
<path d="M666.2,1915.5 L666.0,1910.8 L665.9,1906.0 L666.0,1901.2 L666.1,1896.4 L666.4,1891.7 L666.7,1887.0 L667.2,1882.3 L667.9,1877.6 L668.6,1872.9 L669.4,1868.3 L670.4,1863.6 L671.4,1859.1 L672.6,1854.5 L673.8,1850.0 L675.2,1845.5 L676.7,1841.0 L678.2,1836.6 L679.9,1832.2 L681.7,1827.9 L683.5,1823.5 L685.5,1819.3 L687.5,1815.0 L689.6,1810.9 L691.8,1806.7 L694.1,1802.6 L696.5,1798.6 L699.0,1794.6 L701.5,1790.7 L704.2,1786.8 L706.9,1783.0 L709.7,1779.2 L712.5,1775.5 L715.4,1771.8 L718.5,1768.3 L721.5,1764.7 L724.7,1761.3 L727.9,1757.9 L731.1,1754.5 L734.5,1751.3 L737.9,1748.1 L741.3,1745.0 L744.9,1741.9 L748.4,1739.0 L752.1,1736.1 L755.7,1733.3 L759.5,1730.5 L763.3,1727.9 L767.1,1725.3 L771.0,1722.7 L774.9,1720.3 L778.9,1717.9 L782.9,1715.5 L786.9,1713.3 L791.0,1711.0 L795.1,1708.9 L799.3,1706.8 L803.5,1704.8 L807.7,1702.8 L812.0,1700.8 L816.2,1699.0 L820.5,1697.1 L824.9,1695.3 L829.2,1693.6 L833.6,1691.9 L838.0,1690.3 L842.5,1688.7 L846.9,1687.1 L851.4,1685.6 L855.8,1684.1 L860.3,1682.7 L864.8,1681.3 L869.3,1679.9 L873.9,1678.5 L878.4,1677.2 L882.9,1675.9 L887.5,1674.7 L892.0,1673.5 L896.6,1672.2 L901.1,1671.1 L905.6,1669.9 L910.2,1668.8 L914.7,1667.6 L919.3,1666.5 L923.8,1665.4 L928.3,1664.4 L932.8,1663.3 L937.3,1662.3 L941.8,1661.2 L946.2,1660.2 L950.7,1659.2 L955.2,1658.2 L959.6,1657.2 L964.1,1656.3 L968.5,1655.4 L973.0,1654.4 L977.4,1653.6 L981.9,1652.7 L986.4,1651.9 L990.9,1651.1 L995.3,1650.3 L999.8,1649.6 L1004.3,1648.9 L1008.9,1648.2 L1013.4,1647.6 L1017.9,1647.0 L1022.5,1646.5 L1027.1,1646.0 L1031.7,1645.5 L1036.3,1645.1 L1040.9,1644.7 L1045.6,1644.4 L1050.3,1644.2 L1055.0,1644.0 L1059.7,1643.8 L1064.5,1643.7 L1069.2,1643.7 L1074.0,1643.7 L1078.8,1643.8 L1083.6,1643.9 L1088.4,1644.2 L1093.2,1644.5 L1098.0,1644.8 L1102.8,1645.3 L1107.5,1645.8 L1112.3,1646.4 L1117.0,1647.1 L1121.7,1647.9 L1126.4,1648.8 L1131.1,1649.7 L1135.7,1650.8 L1140.3,1651.9 L1144.9,1653.2 L1149.4,1654.6 L1153.8,1656.0 L1158.2,1657.6 L1162.6,1659.3 L1166.9,1661.1 L1171.1,1663.0 L1175.3,1665.0 L1179.4,1667.2 L1183.4,1669.4 L1187.4,1671.8 L1191.3,1674.4 L1195.1,1677.0 L1198.8,1679.8 L1202.4,1682.7 L1205.9,1685.8 L1209.3,1689.0 L1212.6,1692.3 L1215.8,1695.8 L1218.9,1699.3 L1221.9,1703.0 L1224.7,1706.8 L1227.5,1710.6 L1230.1,1714.6 L1232.6,1718.6 L1234.9,1722.7 L1237.1,1726.9 L1239.2,1731.2 L1241.2,1735.5 L1243.0,1739.9 L1244.6,1744.3 L1246.2,1748.7 L1247.6,1753.2 L1248.9,1757.8 L1250.1,1762.4 L1251.2,1767.0 L1252.2,1771.6 L1253.1,1776.3 L1253.9,1781.0 L1254.7,1785.7 L1255.3,1790.4 L1255.9,1795.2 L1256.4,1799.9 L1256.9,1804.7 L1257.3,1809.5 L1257.7,1814.3 L1258.0,1819.1 L1258.2,1823.8 L1258.5,1828.6 L1258.7,1833.4 L1258.8,1838.2 L1259.0,1842.9 L1259.1,1847.7 L1259.3,1852.4 L1259.4,1857.1 L1259.5,1861.7 L1259.7,1866.4 L1259.8,1871.0 L1260.0,1875.6 L1260.2,1880.1 L1260.4,1884.6 L1260.6,1889.1 L1260.9,1893.5 L1261.2,1897.9 L1261.6,1902.2 L1262.0,1906.4 L1262.5,1910.6 L1263.1,1914.8" fill="none" stroke="#2cb2c7" stroke-width="6.5"/>
<path d="M1414.1,1913.6 L1413.6,1908.0 L1413.3,1902.4 L1413.3,1896.8 L1413.6,1891.3 L1414.1,1885.8 L1414.9,1880.4 L1415.9,1875.1 L1417.1,1869.8 L1418.6,1864.6 L1420.2,1859.5 L1422.1,1854.4 L1424.2,1849.4 L1426.5,1844.5 L1428.9,1839.7 L1431.6,1834.9 L1434.4,1830.3 L1437.4,1825.7 L1440.5,1821.2 L1443.8,1816.9 L1447.3,1812.6 L1450.9,1808.4 L1454.6,1804.4 L1458.5,1800.4 L1462.5,1796.6 L1466.6,1792.9 L1470.8,1789.3 L1475.1,1785.9 L1479.5,1782.6 L1484.0,1779.4 L1488.6,1776.3 L1493.2,1773.4 L1497.9,1770.6 L1502.7,1768.0 L1507.6,1765.5 L1512.4,1763.1 L1517.4,1760.9 L1522.4,1758.8 L1527.4,1756.9 L1532.5,1755.0 L1537.6,1753.3 L1542.7,1751.6 L1547.9,1750.1 L1553.2,1748.7 L1558.4,1747.3 L1563.7,1746.0 L1569.0,1744.9 L1574.3,1743.7 L1579.7,1742.7 L1585.1,1741.7 L1590.5,1740.7 L1595.9,1739.8 L1601.3,1739.0 L1606.7,1738.2 L1612.1,1737.4 L1617.6,1736.6 L1623.0,1735.9 L1628.5,1735.2 L1633.9,1734.4 L1639.3,1733.7 L1644.8,1733.0 L1650.2,1732.3 L1655.6,1731.5 L1661.0,1730.7 L1666.4,1729.9 L1671.7,1729.1 L1677.1,1728.2 L1682.4,1727.4 L1687.7,1726.4 L1693.0,1725.5 L1698.3,1724.5 L1703.5,1723.5 L1708.8,1722.4 L1714.1,1721.3 L1719.3,1720.2 L1724.6,1719.1 L1729.8,1717.9 L1735.1,1716.8 L1740.3,1715.6 L1745.6,1714.3 L1750.9,1713.1 L1756.2,1711.8 L1761.5,1710.6 L1766.8,1709.3 L1772.1,1707.9 L1777.5,1706.6 L1782.8,1705.3 L1788.2,1704.0 L1793.6,1702.7 L1799.0,1701.5 L1804.4,1700.2 L1809.8,1699.0 L1815.2,1697.9 L1820.6,1696.7 L1826.0,1695.7 L1831.4,1694.7 L1836.8,1693.8 L1842.3,1692.9 L1847.7,1692.2 L1853.1,1691.5 L1858.6,1690.9 L1864.0,1690.4 L1869.4,1690.1 L1874.8,1689.8 L1880.3,1689.7 L1885.7,1689.7 L1891.1,1689.8 L1896.5,1690.1 L1901.9,1690.5 L1907.3,1691.0 L1912.7,1691.8 L1918.0,1692.7 L1923.4,1693.8 L1928.8,1695.0 L1934.1,1696.5 L1939.4,1698.1 L1944.5,1700.0 L1949.6,1702.1 L1954.5,1704.5 L1959.1,1707.2 L1963.6,1710.1 L1967.7,1713.3 L1971.6,1716.9 L1975.1,1720.8 L1978.2,1725.0 L1981.1,1729.5 L1983.7,1734.2 L1986.0,1739.2 L1988.0,1744.3 L1989.8,1749.7 L1991.4,1755.2 L1992.7,1760.7 L1993.9,1766.4 L1994.9,1772.2 L1995.8,1777.9 L1996.5,1783.7 L1997.1,1789.4 L1997.6,1795.1 L1998.0,1800.7 L1998.4,1806.2 L1998.7,1811.6 L1999.0,1816.8 L1999.3,1821.8 L1999.6,1826.6 L1999.9,1831.2 L2000.2,1835.6 L2000.5,1840.0 L2000.8,1844.2 L2001.0,1848.5 L2001.2,1852.9 L2001.3,1857.4 L2001.4,1862.1 L2001.4,1867.0 L2001.2,1872.3 L2001.0,1877.9 L2000.6,1884.0 L2000.2,1890.5 L1999.5,1897.6 L1998.7,1905.2 L1997.7,1913.6" fill="none" stroke="#208c9d" stroke-width="13"/>
<path d="M1411.1,1913.9 L1410.7,1909.4 L1410.4,1904.8 L1410.3,1900.2 L1410.4,1895.6 L1410.6,1891.1 L1411.0,1886.6 L1411.6,1882.2 L1412.3,1877.8 L1413.2,1873.4 L1414.2,1869.1 L1415.4,1864.9 L1416.7,1860.6 L1418.1,1856.5 L1419.7,1852.3 L1421.4,1848.3 L1423.2,1844.2 L1425.2,1840.3 L1427.3,1836.4 L1429.5,1832.5 L1431.8,1828.7 L1434.2,1825.0 L1436.7,1821.4 L1439.4,1817.8 L1442.1,1814.2 L1444.9,1810.8 L1447.8,1807.4 L1450.8,1804.1 L1453.9,1800.8 L1457.1,1797.6 L1460.3,1794.5 L1463.6,1791.5 L1467.0,1788.6 L1470.5,1785.7 L1474.0,1783.0 L1477.6,1780.3 L1481.2,1777.7 L1484.9,1775.1 L1488.6,1772.7 L1492.4,1770.4 L1496.3,1768.1 L1500.1,1766.0 L1504.0,1763.9 L1508.0,1761.9 L1512.0,1760.0 L1516.0,1758.3 L1520.0,1756.6 L1524.1,1754.9 L1528.1,1753.4 L1532.3,1751.9 L1536.4,1750.5 L1540.6,1749.2 L1544.7,1747.9 L1548.9,1746.7 L1553.2,1745.6 L1557.4,1744.5 L1561.6,1743.4 L1565.9,1742.5 L1570.2,1741.5 L1574.5,1740.6 L1578.8,1739.8 L1583.1,1739.0 L1587.4,1738.2 L1591.8,1737.5 L1596.1,1736.8 L1600.5,1736.1 L1604.8,1735.4 L1609.2,1734.8 L1613.5,1734.2 L1617.9,1733.6 L1622.2,1733.0 L1626.6,1732.4 L1630.9,1731.8 L1635.3,1731.2 L1639.6,1730.6 L1644.0,1730.1 L1648.3,1729.5 L1652.6,1728.9 L1656.9,1728.3 L1661.2,1727.7 L1665.5,1727.0 L1669.8,1726.4 L1674.0,1725.7 L1678.2,1725.0 L1682.5,1724.3 L1686.7,1723.6 L1690.9,1722.8 L1695.1,1722.0 L1699.3,1721.2 L1703.5,1720.4 L1707.7,1719.6 L1711.9,1718.7 L1716.1,1717.8 L1720.3,1717.0 L1724.5,1716.0 L1728.7,1715.1 L1732.9,1714.2 L1737.1,1713.2 L1741.3,1712.3 L1745.5,1711.3 L1749.7,1710.3 L1753.9,1709.3 L1758.1,1708.3 L1762.4,1707.3 L1766.6,1706.2 L1770.9,1705.2 L1775.1,1704.1 L1779.4,1703.1 L1783.7,1702.0 L1788.0,1701.0 L1792.3,1699.9 L1796.6,1698.9 L1800.9,1697.9 L1805.3,1696.9 L1809.6,1696.0 L1813.9,1695.1 L1818.3,1694.2 L1822.6,1693.3 L1827.0,1692.5 L1831.3,1691.7 L1835.7,1690.9 L1840.1,1690.2 L1844.4,1689.6 L1848.8,1689.0 L1853.2,1688.5 L1857.6,1688.0 L1862.0,1687.6 L1866.3,1687.2 L1870.7,1687.0 L1875.1,1686.8 L1879.5,1686.7 L1883.9,1686.6 L1888.3,1686.7 L1892.7,1686.8 L1897.0,1687.1 L1901.4,1687.4 L1905.8,1687.9 L1910.2,1688.4 L1914.5,1689.0 L1918.9,1689.8 L1923.3,1690.7 L1927.6,1691.7 L1932.0,1692.8 L1936.3,1694.0 L1940.6,1695.4 L1944.9,1696.9 L1949.0,1698.6 L1953.1,1700.5 L1957.1,1702.5 L1960.9,1704.7 L1964.6,1707.2 L1968.2,1709.8 L1971.5,1712.7 L1974.6,1715.8 L1977.5,1719.1 L1980.2,1722.6 L1982.7,1726.3 L1984.9,1730.1 L1987.0,1734.1 L1988.8,1738.2 L1990.5,1742.5 L1992.0,1746.8 L1993.4,1751.2 L1994.6,1755.7 L1995.7,1760.3 L1996.7,1764.9 L1997.5,1769.5 L1998.3,1774.2 L1998.9,1778.9 L1999.5,1783.5 L2000.0,1788.2 L2000.4,1792.8 L2000.8,1797.3 L2001.1,1801.8 L2001.4,1806.2 L2001.7,1810.5 L2001.9,1814.7 L2002.1,1818.8 L2002.3,1822.7 L2002.6,1826.5 L2002.8,1830.2 L2003.1,1833.7 L2003.3,1837.2 L2003.5,1840.7 L2003.8,1844.1 L2004.0,1847.6 L2004.1,1851.1 L2004.3,1854.6 L2004.4,1858.3 L2004.4,1862.1 L2004.4,1866.1 L2004.3,1870.3 L2004.2,1874.7 L2003.9,1879.3 L2003.6,1884.2 L2003.3,1889.4 L2002.8,1895.0 L2002.2,1900.9 L2001.5,1907.2 L2000.7,1913.9" fill="none" stroke="#2cb2c7" stroke-width="6.5"/>
<path d="M2150.2,1916.2 L2149.8,1910.7 L2149.6,1905.2 L2149.7,1899.8 L2150.0,1894.3 L2150.6,1888.8 L2151.5,1883.4 L2152.6,1878.0 L2153.9,1872.6 L2155.5,1867.3 L2157.2,1862.1 L2159.2,1857.0 L2161.5,1851.9 L2163.9,1847.0 L2166.5,1842.2 L2169.3,1837.5 L2172.3,1832.9 L2175.5,1828.5 L2178.8,1824.3 L2182.4,1820.2 L2186.1,1816.2 L2189.9,1812.4 L2193.9,1808.8 L2198.0,1805.3 L2202.2,1801.9 L2206.6,1798.7 L2211.1,1795.6 L2215.6,1792.6 L2220.3,1789.8 L2225.1,1787.1 L2230.0,1784.5 L2234.9,1782.0 L2239.9,1779.7 L2244.9,1777.5 L2250.0,1775.4 L2255.2,1773.4 L2260.4,1771.5 L2265.6,1769.7 L2270.8,1768.0 L2276.1,1766.5 L2281.3,1765.0 L2286.6,1763.6 L2291.9,1762.3 L2297.2,1761.0 L2302.5,1759.8 L2307.8,1758.6 L2313.1,1757.5 L2318.4,1756.4 L2323.7,1755.2 L2329.1,1754.1 L2334.4,1753.0 L2339.7,1751.9 L2345.1,1750.7 L2350.4,1749.5 L2355.7,1748.3 L2361.0,1747.0 L2366.4,1745.8 L2371.7,1744.5 L2377.0,1743.2 L2382.3,1741.9 L2387.6,1740.6 L2392.9,1739.3 L2398.2,1738.0 L2403.5,1736.7 L2408.8,1735.4 L2414.1,1734.1 L2419.4,1732.8 L2424.7,1731.5 L2429.9,1730.3 L2435.2,1729.0 L2440.5,1727.7 L2445.8,1726.4 L2451.1,1725.0 L2456.3,1723.7 L2461.6,1722.4 L2466.9,1721.1 L2472.2,1719.8 L2477.4,1718.5 L2482.7,1717.1 L2488.0,1715.8 L2493.3,1714.4 L2498.6,1713.1 L2503.9,1711.7 L2509.2,1710.4 L2514.5,1709.0 L2519.8,1707.7 L2525.1,1706.3 L2530.5,1705.0 L2535.8,1703.8 L2541.1,1702.6 L2546.5,1701.4 L2551.8,1700.3 L2557.2,1699.2 L2562.6,1698.2 L2567.9,1697.2 L2573.3,1696.3 L2578.7,1695.5 L2584.1,1694.8 L2589.5,1694.2 L2595.0,1693.7 L2600.4,1693.2 L2605.9,1692.9 L2611.3,1692.7 L2616.8,1692.6 L2622.3,1692.7 L2627.8,1692.8 L2633.3,1693.1 L2638.8,1693.6 L2644.3,1694.2 L2649.9,1695.0 L2655.4,1695.9 L2660.9,1696.9 L2666.3,1698.2 L2671.7,1699.6 L2677.0,1701.3 L2682.2,1703.1 L2687.3,1705.1 L2692.2,1707.3 L2697.0,1709.7 L2701.6,1712.3 L2706.1,1715.2 L2710.3,1718.3 L2714.3,1721.6 L2718.1,1725.1 L2721.7,1728.9 L2725.0,1733.0 L2728.0,1737.3 L2730.7,1741.8 L2733.1,1746.6 L2735.3,1751.6 L2737.2,1756.8 L2738.9,1762.1 L2740.3,1767.5 L2741.5,1773.0 L2742.6,1778.6 L2743.4,1784.3 L2744.0,1789.9 L2744.5,1795.6 L2744.8,1801.2 L2745.0,1806.8 L2745.1,1812.4 L2745.0,1817.9 L2744.9,1823.4 L2744.7,1828.9 L2744.4,1834.4 L2744.1,1839.8 L2743.7,1845.2 L2743.4,1850.5 L2743.0,1855.9 L2742.7,1861.2 L2742.3,1866.6 L2742.0,1871.9 L2741.8,1877.3 L2741.5,1882.6 L2741.4,1888.0 L2741.2,1893.4 L2741.2,1898.9 L2741.3,1904.4 L2741.4,1910.0 L2741.7,1915.6" fill="none" stroke="#208c9d" stroke-width="13"/>
<path d="M2147.2,1916.4 L2146.8,1912.0 L2146.6,1907.5 L2146.6,1903.0 L2146.7,1898.5 L2147.0,1894.0 L2147.5,1889.6 L2148.1,1885.1 L2148.9,1880.7 L2149.9,1876.3 L2151.0,1871.9 L2152.2,1867.6 L2153.7,1863.3 L2155.2,1859.0 L2156.9,1854.9 L2158.7,1850.7 L2160.7,1846.7 L2162.7,1842.7 L2165.0,1838.8 L2167.3,1835.0 L2169.8,1831.3 L2172.4,1827.7 L2175.1,1824.2 L2177.9,1820.8 L2180.8,1817.5 L2183.8,1814.2 L2186.9,1811.1 L2190.1,1808.1 L2193.4,1805.2 L2196.8,1802.4 L2200.3,1799.6 L2203.8,1797.0 L2207.4,1794.4 L2211.1,1792.0 L2214.8,1789.6 L2218.6,1787.3 L2222.5,1785.1 L2226.4,1783.0 L2230.4,1780.9 L2234.4,1778.9 L2238.4,1777.1 L2242.5,1775.3 L2246.6,1773.5 L2250.8,1771.9 L2254.9,1770.3 L2259.1,1768.7 L2263.3,1767.3 L2267.6,1765.9 L2271.8,1764.6 L2276.0,1763.4 L2280.3,1762.2 L2284.5,1761.0 L2288.8,1760.0 L2293.0,1758.9 L2297.3,1757.9 L2301.5,1756.9 L2305.8,1756.0 L2310.0,1755.1 L2314.3,1754.2 L2318.6,1753.3 L2322.8,1752.4 L2327.1,1751.5 L2331.3,1750.6 L2335.6,1749.7 L2339.8,1748.8 L2344.1,1747.8 L2348.3,1746.9 L2352.6,1745.9 L2356.8,1744.9 L2361.0,1744.0 L2365.3,1742.9 L2369.5,1741.9 L2373.8,1740.9 L2378.0,1739.9 L2382.3,1738.8 L2386.5,1737.8 L2390.7,1736.8 L2395.0,1735.7 L2399.2,1734.7 L2403.4,1733.7 L2407.7,1732.6 L2411.9,1731.6 L2416.1,1730.6 L2420.3,1729.5 L2424.6,1728.5 L2428.8,1727.4 L2433.0,1726.4 L2437.2,1725.4 L2441.4,1724.3 L2445.6,1723.3 L2449.9,1722.3 L2454.1,1721.2 L2458.3,1720.2 L2462.5,1719.1 L2466.7,1718.1 L2470.9,1717.0 L2475.1,1715.9 L2479.4,1714.9 L2483.6,1713.8 L2487.8,1712.7 L2492.0,1711.7 L2496.3,1710.6 L2500.5,1709.5 L2504.7,1708.4 L2509.0,1707.3 L2513.2,1706.2 L2517.5,1705.2 L2521.7,1704.1 L2526.0,1703.0 L2530.3,1702.0 L2534.5,1701.0 L2538.8,1700.0 L2543.1,1699.1 L2547.4,1698.1 L2551.7,1697.2 L2556.0,1696.4 L2560.3,1695.5 L2564.6,1694.7 L2569.0,1694.0 L2573.3,1693.3 L2577.6,1692.7 L2582.0,1692.1 L2586.4,1691.5 L2590.7,1691.1 L2595.1,1690.6 L2599.5,1690.3 L2603.9,1690.0 L2608.3,1689.8 L2612.7,1689.7 L2617.2,1689.6 L2621.6,1689.7 L2626.0,1689.8 L2630.5,1690.0 L2635.0,1690.3 L2639.4,1690.6 L2643.9,1691.1 L2648.4,1691.7 L2652.9,1692.4 L2657.4,1693.2 L2661.8,1694.1 L2666.3,1695.1 L2670.7,1696.2 L2675.0,1697.5 L2679.3,1698.9 L2683.5,1700.4 L2687.7,1702.0 L2691.7,1703.8 L2695.7,1705.7 L2699.6,1707.7 L2703.4,1709.9 L2707.1,1712.3 L2710.6,1714.8 L2714.0,1717.4 L2717.3,1720.2 L2720.4,1723.2 L2723.4,1726.3 L2726.2,1729.6 L2728.8,1733.1 L2731.2,1736.8 L2733.4,1740.6 L2735.4,1744.5 L2737.3,1748.6 L2739.0,1752.8 L2740.5,1757.1 L2741.8,1761.4 L2743.0,1765.9 L2744.0,1770.3 L2745.0,1774.9 L2745.7,1779.5 L2746.4,1784.0 L2746.9,1788.6 L2747.4,1793.2 L2747.7,1797.8 L2747.9,1802.4 L2748.0,1806.9 L2748.1,1811.4 L2748.1,1815.9 L2748.0,1820.3 L2747.8,1824.8 L2747.7,1829.2 L2747.4,1833.5 L2747.2,1837.9 L2746.9,1842.2 L2746.7,1846.5 L2746.4,1850.8 L2746.1,1855.1 L2745.8,1859.4 L2745.5,1863.6 L2745.3,1867.9 L2745.0,1872.1 L2744.8,1876.4 L2744.6,1880.6 L2744.4,1884.9 L2744.3,1889.2 L2744.2,1893.5 L2744.2,1897.8 L2744.2,1902.2 L2744.3,1906.6 L2744.5,1911.0 L2744.7,1915.4" fill="none" stroke="#2cb2c7" stroke-width="6.5"/>
<path d="M2882.0,1914.0 L2881.9,1907.9 L2882.0,1901.9 L2882.4,1896.1 L2883.0,1890.3 L2883.8,1884.7 L2884.8,1879.2 L2886.0,1873.8 L2887.5,1868.5 L2889.1,1863.3 L2890.9,1858.2 L2892.9,1853.2 L2895.1,1848.3 L2897.5,1843.5 L2900.0,1838.8 L2902.7,1834.2 L2905.6,1829.7 L2908.6,1825.3 L2911.7,1820.9 L2915.0,1816.7 L2918.4,1812.5 L2922.0,1808.5 L2925.6,1804.5 L2929.4,1800.6 L2933.3,1796.8 L2937.3,1793.0 L2941.4,1789.3 L2945.6,1785.7 L2949.8,1782.2 L2954.2,1778.8 L2958.6,1775.4 L2963.1,1772.1 L2967.6,1768.8 L2972.3,1765.7 L2976.9,1762.6 L2981.6,1759.5 L2986.4,1756.5 L2991.2,1753.6 L2996.0,1750.7 L3000.8,1747.9 L3005.6,1745.1 L3010.5,1742.4 L3015.4,1739.7 L3020.3,1737.1 L3025.2,1734.6 L3030.1,1732.1 L3035.0,1729.6 L3040.0,1727.2 L3045.0,1724.8 L3050.0,1722.5 L3054.9,1720.3 L3060.0,1718.1 L3065.0,1715.9 L3070.0,1713.8 L3075.1,1711.7 L3080.2,1709.7 L3085.2,1707.7 L3090.3,1705.7 L3095.5,1703.8 L3100.6,1702.0 L3105.7,1700.2 L3110.9,1698.4 L3116.1,1696.7 L3121.2,1695.0 L3126.4,1693.3 L3131.7,1691.7 L3136.9,1690.1 L3142.1,1688.6 L3147.4,1687.1 L3152.6,1685.6 L3157.9,1684.2 L3163.2,1682.8 L3168.5,1681.5 L3173.8,1680.2 L3179.2,1678.9 L3184.5,1677.6 L3189.9,1676.4 L3195.2,1675.2 L3200.6,1674.0 L3206.0,1672.9 L3211.4,1671.8 L3216.8,1670.7 L3222.3,1669.7 L3227.7,1668.7 L3233.2,1667.7 L3238.6,1666.8 L3244.1,1665.9 L3249.6,1665.1 L3255.1,1664.3 L3260.6,1663.6 L3266.1,1663.0 L3271.6,1662.5 L3277.1,1662.1 L3282.6,1661.9 L3288.1,1661.7 L3293.6,1661.7 L3299.1,1661.9 L3304.6,1662.2 L3310.1,1662.7 L3315.5,1663.4 L3321.0,1664.2 L3326.4,1665.2 L3331.8,1666.4 L3337.2,1667.7 L3342.5,1669.1 L3347.8,1670.8 L3353.0,1672.5 L3358.2,1674.5 L3363.3,1676.6 L3368.3,1678.8 L3373.3,1681.2 L3378.2,1683.7 L3383.0,1686.4 L3387.7,1689.2 L3392.3,1692.2 L3396.8,1695.3 L3401.2,1698.5 L3405.5,1701.9 L3409.7,1705.4 L3413.8,1709.0 L3417.7,1712.8 L3421.6,1716.7 L3425.2,1720.7 L3428.8,1724.9 L3432.1,1729.2 L3435.4,1733.6 L3438.5,1738.1 L3441.4,1742.7 L3444.2,1747.4 L3446.8,1752.3 L3449.3,1757.2 L3451.6,1762.2 L3453.9,1767.3 L3456.0,1772.4 L3458.0,1777.6 L3459.8,1782.9 L3461.6,1788.2 L3463.3,1793.5 L3464.8,1798.9 L3466.2,1804.3 L3467.6,1809.8 L3468.8,1815.2 L3470.0,1820.7 L3471.1,1826.1 L3472.1,1831.6 L3472.9,1837.1 L3473.7,1842.6 L3474.5,1848.1 L3475.1,1853.6 L3475.6,1859.1 L3476.1,1864.5 L3476.4,1870.0 L3476.7,1875.5 L3476.9,1880.9 L3477.1,1886.4 L3477.1,1891.8 L3477.1,1897.2 L3477.0,1902.6 L3476.8,1907.9 L3476.5,1913.3" fill="none" stroke="#208c9d" stroke-width="13"/>
<path d="M2879.0,1914.0 L2878.9,1909.1 L2878.9,1904.2 L2879.1,1899.4 L2879.5,1894.7 L2880.0,1890.0 L2880.6,1885.4 L2881.4,1880.9 L2882.3,1876.4 L2883.4,1872.0 L2884.6,1867.7 L2885.9,1863.4 L2887.3,1859.3 L2888.9,1855.1 L2890.6,1851.1 L2892.4,1847.1 L2894.3,1843.2 L2896.3,1839.3 L2898.4,1835.5 L2900.7,1831.8 L2903.0,1828.1 L2905.4,1824.5 L2908.0,1821.0 L2910.6,1817.5 L2913.3,1814.1 L2916.0,1810.7 L2918.9,1807.4 L2921.8,1804.1 L2924.9,1800.9 L2927.9,1797.8 L2931.1,1794.7 L2934.3,1791.7 L2937.6,1788.7 L2940.9,1785.7 L2944.3,1782.9 L2947.8,1780.0 L2951.3,1777.2 L2954.8,1774.5 L2958.4,1771.8 L2962.1,1769.1 L2965.7,1766.5 L2969.4,1764.0 L2973.2,1761.4 L2977.0,1758.9 L2980.8,1756.5 L2984.6,1754.1 L2988.4,1751.7 L2992.3,1749.4 L2996.1,1747.1 L3000.0,1744.9 L3003.9,1742.6 L3007.8,1740.5 L3011.7,1738.3 L3015.7,1736.2 L3019.6,1734.1 L3023.5,1732.0 L3027.5,1730.0 L3031.4,1728.0 L3035.4,1726.1 L3039.4,1724.2 L3043.4,1722.3 L3047.4,1720.4 L3051.4,1718.6 L3055.4,1716.8 L3059.4,1715.0 L3063.5,1713.3 L3067.5,1711.6 L3071.6,1709.9 L3075.7,1708.2 L3079.7,1706.6 L3083.8,1705.0 L3087.9,1703.5 L3092.0,1701.9 L3096.1,1700.4 L3100.2,1698.9 L3104.4,1697.5 L3108.5,1696.1 L3112.6,1694.6 L3116.8,1693.3 L3121.0,1691.9 L3125.1,1690.6 L3129.3,1689.3 L3133.5,1688.0 L3137.7,1686.8 L3141.9,1685.5 L3146.1,1684.3 L3150.3,1683.2 L3154.6,1682.0 L3158.8,1680.9 L3163.0,1679.8 L3167.3,1678.7 L3171.6,1677.6 L3175.8,1676.6 L3180.1,1675.6 L3184.4,1674.6 L3188.7,1673.6 L3193.0,1672.6 L3197.3,1671.7 L3201.6,1670.8 L3205.9,1669.9 L3210.3,1669.0 L3214.6,1668.1 L3219.0,1667.3 L3223.3,1666.5 L3227.7,1665.7 L3232.1,1664.9 L3236.5,1664.1 L3240.9,1663.4 L3245.3,1662.7 L3249.7,1662.0 L3254.1,1661.4 L3258.5,1660.8 L3262.9,1660.3 L3267.4,1659.9 L3271.8,1659.5 L3276.3,1659.2 L3280.7,1658.9 L3285.2,1658.8 L3289.6,1658.7 L3294.1,1658.8 L3298.6,1658.9 L3303.0,1659.1 L3307.5,1659.5 L3311.9,1659.9 L3316.4,1660.5 L3320.8,1661.1 L3325.2,1661.9 L3329.6,1662.8 L3334.0,1663.8 L3338.3,1664.9 L3342.6,1666.0 L3346.9,1667.3 L3351.2,1668.7 L3355.4,1670.2 L3359.6,1671.8 L3363.7,1673.5 L3367.8,1675.3 L3371.9,1677.2 L3375.9,1679.2 L3379.9,1681.2 L3383.8,1683.4 L3387.6,1685.7 L3391.4,1688.0 L3395.1,1690.5 L3398.8,1693.0 L3402.4,1695.6 L3405.9,1698.3 L3409.4,1701.1 L3412.7,1704.0 L3416.0,1707.0 L3419.3,1710.1 L3422.4,1713.2 L3425.4,1716.5 L3428.4,1719.8 L3431.2,1723.2 L3434.0,1726.7 L3436.7,1730.2 L3439.2,1733.8 L3441.7,1737.6 L3444.1,1741.3 L3446.3,1745.2 L3448.5,1749.1 L3450.6,1753.0 L3452.6,1757.1 L3454.5,1761.1 L3456.3,1765.2 L3458.0,1769.4 L3459.7,1773.6 L3461.2,1777.8 L3462.7,1782.1 L3464.2,1786.4 L3465.5,1790.7 L3466.8,1795.0 L3468.0,1799.4 L3469.2,1803.7 L3470.3,1808.1 L3471.3,1812.5 L3472.3,1816.9 L3473.2,1821.3 L3474.0,1825.7 L3474.8,1830.1 L3475.6,1834.5 L3476.3,1838.9 L3476.9,1843.4 L3477.4,1847.8 L3478.0,1852.2 L3478.4,1856.6 L3478.8,1861.1 L3479.1,1865.5 L3479.4,1869.9 L3479.7,1874.3 L3479.9,1878.7 L3480.0,1883.1 L3480.1,1887.5 L3480.1,1891.8 L3480.1,1896.2 L3480.0,1900.5 L3479.9,1904.8 L3479.7,1909.1 L3479.5,1913.4" fill="none" stroke="#2cb2c7" stroke-width="6.5"/>
<path d="M3630.4,1913.5 L3630.1,1907.7 L3629.8,1901.9 L3629.7,1896.0 L3629.6,1890.2 L3629.7,1884.3 L3629.9,1878.4 L3630.1,1872.5 L3630.5,1866.6 L3631.0,1860.7 L3631.6,1854.8 L3632.4,1848.9 L3633.2,1843.0 L3634.1,1837.1 L3635.2,1831.2 L3636.3,1825.4 L3637.6,1819.6 L3639.0,1813.8 L3640.5,1808.0 L3642.1,1802.2 L3643.8,1796.5 L3645.7,1790.9 L3647.6,1785.3 L3649.7,1779.7 L3651.9,1774.2 L3654.2,1768.7 L3656.7,1763.3 L3659.2,1757.9 L3661.9,1752.6 L3664.7,1747.4 L3667.6,1742.3 L3670.6,1737.2 L3673.8,1732.2 L3677.1,1727.3 L3680.5,1722.5 L3684.0,1717.7 L3687.6,1713.1 L3691.4,1708.5 L3695.2,1704.1 L3699.2,1699.7 L3703.3,1695.4 L3707.5,1691.3 L3711.7,1687.2 L3716.1,1683.2 L3720.5,1679.3 L3725.1,1675.6 L3729.7,1671.9 L3734.4,1668.4 L3739.2,1665.0 L3744.0,1661.7 L3749.0,1658.5 L3754.0,1655.4 L3759.0,1652.5 L3764.2,1649.6 L3769.4,1646.9 L3774.6,1644.3 L3779.9,1641.8 L3785.3,1639.5 L3790.7,1637.2 L3796.1,1635.1 L3801.7,1633.1 L3807.2,1631.2 L3812.8,1629.4 L3818.4,1627.7 L3824.1,1626.2 L3829.8,1624.8 L3835.5,1623.4 L3841.3,1622.2 L3847.1,1621.1 L3852.9,1620.2 L3858.8,1619.3 L3864.7,1618.5 L3870.5,1617.9 L3876.5,1617.4 L3882.4,1617.0 L3888.3,1616.6 L3894.2,1616.5 L3900.2,1616.4 L3906.1,1616.4 L3912.1,1616.5 L3918.1,1616.8 L3924.0,1617.1 L3930.0,1617.6 L3935.9,1618.2 L3941.8,1618.9 L3947.7,1619.7 L3953.7,1620.6 L3959.5,1621.6 L3965.4,1622.7 L3971.3,1623.9 L3977.1,1625.2 L3982.9,1626.6 L3988.7,1628.2 L3994.4,1629.8 L4000.1,1631.6 L4005.8,1633.4 L4011.4,1635.4 L4017.0,1637.4 L4022.6,1639.6 L4028.1,1641.8 L4033.6,1644.2 L4039.0,1646.6 L4044.4,1649.2 L4049.7,1651.8 L4055.0,1654.5 L4060.3,1657.4 L4065.5,1660.3 L4070.6,1663.3 L4075.7,1666.4 L4080.7,1669.6 L4085.7,1672.8 L4090.6,1676.2 L4095.4,1679.6 L4100.2,1683.1 L4104.9,1686.7 L4109.5,1690.4 L4114.1,1694.2 L4118.6,1698.0 L4123.0,1701.9 L4127.4,1705.9 L4131.7,1709.9 L4135.9,1714.1 L4140.0,1718.3 L4144.1,1722.6 L4148.1,1726.9 L4151.9,1731.3 L4155.8,1735.8 L4159.5,1740.4 L4163.1,1745.0 L4166.6,1749.6 L4170.1,1754.4 L4173.4,1759.2 L4176.7,1764.0 L4179.9,1769.0 L4183.0,1773.9 L4185.9,1779.0 L4188.8,1784.0 L4191.6,1789.2 L4194.2,1794.4 L4196.8,1799.6 L4199.2,1804.9 L4201.6,1810.3 L4203.8,1815.7 L4205.9,1821.1 L4208.0,1826.6 L4209.8,1832.1 L4211.6,1837.7 L4213.3,1843.3 L4214.8,1849.0 L4216.2,1854.7 L4217.5,1860.4 L4218.7,1866.2 L4219.8,1872.0 L4220.7,1877.8 L4221.5,1883.7 L4222.1,1889.6 L4222.6,1895.5 L4223.0,1901.5 L4223.3,1907.5 L4223.4,1913.5" fill="none" stroke="#208c9d" stroke-width="13"/>
<path d="M3627.4,1913.7 L3627.1,1909.0 L3626.9,1904.3 L3626.7,1899.6 L3626.7,1894.9 L3626.6,1890.2 L3626.7,1885.5 L3626.8,1880.7 L3627.0,1876.0 L3627.2,1871.2 L3627.5,1866.4 L3627.9,1861.7 L3628.4,1856.9 L3628.9,1852.2 L3629.5,1847.4 L3630.2,1842.6 L3630.9,1837.9 L3631.8,1833.2 L3632.6,1828.4 L3633.6,1823.7 L3634.6,1819.0 L3635.8,1814.3 L3636.9,1809.7 L3638.2,1805.0 L3639.5,1800.4 L3640.9,1795.8 L3642.4,1791.2 L3644.0,1786.7 L3645.6,1782.1 L3647.3,1777.6 L3649.1,1773.2 L3650.9,1768.8 L3652.9,1764.4 L3654.9,1760.0 L3657.0,1755.7 L3659.1,1751.4 L3661.4,1747.2 L3663.7,1743.0 L3666.1,1738.9 L3668.6,1734.8 L3671.1,1730.8 L3673.8,1726.8 L3676.5,1722.9 L3679.3,1719.0 L3682.2,1715.2 L3685.1,1711.4 L3688.1,1707.7 L3691.2,1704.1 L3694.4,1700.5 L3697.6,1697.0 L3700.9,1693.5 L3704.3,1690.2 L3707.7,1686.8 L3711.2,1683.6 L3714.7,1680.4 L3718.3,1677.3 L3722.0,1674.2 L3725.7,1671.2 L3729.5,1668.3 L3733.3,1665.5 L3737.2,1662.7 L3741.1,1660.0 L3745.1,1657.4 L3749.1,1654.9 L3753.1,1652.4 L3757.2,1650.0 L3761.4,1647.7 L3765.5,1645.5 L3769.8,1643.3 L3774.0,1641.3 L3778.3,1639.3 L3782.6,1637.3 L3787.0,1635.5 L3791.4,1633.7 L3795.8,1632.0 L3800.2,1630.4 L3804.7,1628.8 L3809.2,1627.4 L3813.7,1626.0 L3818.3,1624.7 L3822.9,1623.4 L3827.5,1622.2 L3832.1,1621.1 L3836.7,1620.1 L3841.4,1619.1 L3846.1,1618.3 L3850.8,1617.5 L3855.5,1616.7 L3860.2,1616.1 L3865.0,1615.5 L3869.7,1615.0 L3874.5,1614.5 L3879.2,1614.2 L3884.0,1613.9 L3888.8,1613.6 L3893.6,1613.5 L3898.4,1613.4 L3903.2,1613.4 L3908.0,1613.4 L3912.8,1613.6 L3917.6,1613.8 L3922.4,1614.0 L3927.2,1614.4 L3932.0,1614.8 L3936.8,1615.3 L3941.6,1615.8 L3946.3,1616.4 L3951.1,1617.1 L3955.9,1617.9 L3960.6,1618.7 L3965.3,1619.6 L3970.1,1620.6 L3974.8,1621.6 L3979.5,1622.7 L3984.1,1623.9 L3988.8,1625.1 L3993.4,1626.4 L3998.0,1627.8 L4002.6,1629.2 L4007.2,1630.7 L4011.7,1632.3 L4016.3,1633.9 L4020.8,1635.6 L4025.2,1637.4 L4029.7,1639.2 L4034.1,1641.1 L4038.5,1643.1 L4042.8,1645.1 L4047.2,1647.2 L4051.5,1649.3 L4055.7,1651.5 L4060.0,1653.8 L4064.2,1656.1 L4068.3,1658.5 L4072.5,1660.9 L4076.6,1663.4 L4080.6,1665.9 L4084.6,1668.5 L4088.6,1671.2 L4092.6,1673.9 L4096.5,1676.7 L4100.3,1679.5 L4104.2,1682.4 L4107.9,1685.3 L4111.7,1688.3 L4115.4,1691.3 L4119.0,1694.4 L4122.6,1697.5 L4126.2,1700.7 L4129.7,1703.9 L4133.1,1707.2 L4136.5,1710.5 L4139.9,1713.9 L4143.2,1717.3 L4146.5,1720.7 L4149.7,1724.2 L4152.8,1727.8 L4155.9,1731.4 L4159.0,1735.0 L4162.0,1738.7 L4164.9,1742.4 L4167.8,1746.1 L4170.6,1749.9 L4173.3,1753.8 L4176.0,1757.7 L4178.7,1761.6 L4181.3,1765.5 L4183.8,1769.5 L4186.2,1773.5 L4188.6,1777.6 L4190.9,1781.7 L4193.2,1785.9 L4195.4,1790.0 L4197.5,1794.2 L4199.6,1798.5 L4201.5,1802.7 L4203.5,1807.0 L4205.3,1811.4 L4207.1,1815.8 L4208.8,1820.2 L4210.4,1824.6 L4212.0,1829.0 L4213.5,1833.5 L4214.9,1838.0 L4216.2,1842.6 L4217.4,1847.1 L4218.6,1851.7 L4219.7,1856.4 L4220.7,1861.0 L4221.7,1865.7 L4222.5,1870.4 L4223.3,1875.1 L4224.0,1879.8 L4224.6,1884.6 L4225.1,1889.3 L4225.5,1894.1 L4225.9,1899.0 L4226.1,1903.8 L4226.3,1908.7 L4226.4,1913.5" fill="none" stroke="#2cb2c7" stroke-width="6.5"/>
<defs><linearGradient id="gs" x1="0" y1="0" x2="0" y2="1"><stop offset="0" stop-color="#0c1529"/><stop offset="0.6" stop-color="#0a1224"/><stop offset="1" stop-color="#070c19"/></linearGradient><radialGradient id="gsr" cx="0.95" cy="0.7" r="0.35"><stop offset="0" stop-color="#1a3050" stop-opacity="0.6"/><stop offset="1" stop-color="#1a3050" stop-opacity="0"/></radialGradient><linearGradient id="gt" x1="0" y1="0" x2="0" y2="1"><stop offset="0" stop-color="#182a4c"/><stop offset="0.5" stop-color="#1b2e52"/><stop offset="1" stop-color="#203559"/></linearGradient><radialGradient id="gtr" cx="0.55" cy="0.95" r="0.6"><stop offset="0" stop-color="#2a4270" stop-opacity="0.55"/><stop offset="1" stop-color="#2a4270" stop-opacity="0"/></radialGradient><filter id="glow" x="-10%" y="-10%" width="120%" height="120%"><feGaussianBlur stdDeviation="6"/></filter><filter id="soft" x="-5%" y="-5%" width="110%" height="110%"><feGaussianBlur stdDeviation="1.2"/></filter><linearGradient id="blk" x1="0" y1="0" x2="0" y2="1"><stop offset="0" stop-color="#9aa6b4"/><stop offset="1" stop-color="#6f7c8c"/></linearGradient></defs>
<g>
<rect x="626.2" y="1981.2" width="694.5" height="197.5" fill="url(#gs)"/>
<rect x="626.2" y="1981.2" width="694.5" height="197.5" fill="url(#gsr)"/>
<rect x="1280.7" y="2096.3" width="40" height="73.4" fill="#a9b5c3" opacity="0.85"/>
<rect x="1229.7" y="2103.4" width="51" height="12.7" fill="#8a9a78" opacity="0.7"/>
<rect x="1250.7" y="2116" width="35" height="40" rx="10" fill="#2c3c5c" opacity="0.8"/>
<ellipse cx="649.2" cy="2140" rx="15" ry="16" fill="#2a2a30" opacity="0.8"/>
<path d="M670.5,2145.4 L674.8,2145.1 L679.1,2144.8 L683.4,2144.5 L687.6,2144.2 L691.9,2143.8 L696.1,2143.4 L700.4,2143.0 L704.6,2142.5 L708.8,2142.1 L713.0,2141.6 L717.1,2141.1 L721.3,2140.6 L725.5,2140.0 L729.6,2139.5 L733.7,2138.9 L737.9,2138.3 L742.0,2137.7 L746.1,2137.0 L750.2,2136.3 L754.3,2135.7 L758.4,2135.0 L762.4,2134.2 L766.5,2133.5 L770.6,2132.7 L774.6,2131.9 L778.7,2131.1 L782.7,2130.3 L786.7,2129.4 L790.8,2128.6 L794.8,2127.7 L798.8,2126.7 L802.8,2125.8 L806.8,2124.9 L810.8,2123.9 L814.8,2122.9 L818.8,2121.9 L822.8,2120.9 L826.7,2119.8 L830.7,2118.7 L834.7,2117.6 L838.7,2116.5 L842.6,2115.4 L846.6,2114.2 L850.6,2113.1 L854.5,2111.9 L858.5,2110.7 L862.4,2109.4 L866.4,2108.2 L870.3,2106.9 L874.3,2105.6 L878.2,2104.3 L882.2,2103.0 L886.1,2101.7 L890.1,2100.3 L894.0,2098.9 L898.0,2097.5 L901.9,2096.1 L905.9,2094.6 L909.8,2093.2 L913.8,2091.7 L917.7,2090.2 L921.7,2088.7 L925.6,2087.2 L929.6,2085.7 L933.5,2084.2 L937.5,2082.6 L941.5,2081.1 L945.4,2079.6 L949.4,2078.0 L953.4,2076.5 L957.3,2075.0 L961.3,2073.4 L965.3,2071.9 L969.3,2070.4 L973.2,2068.9 L977.2,2067.4 L981.2,2065.9 L985.2,2064.5 L989.2,2063.0 L993.2,2061.6 L997.2,2060.2 L1001.2,2058.8 L1005.2,2057.4 L1009.2,2056.1 L1013.2,2054.8 L1017.3,2053.5 L1021.3,2052.2 L1025.3,2051.0 L1029.3,2049.8 L1033.4,2048.6 L1037.4,2047.5 L1041.5,2046.4 L1045.5,2045.4 L1049.6,2044.4 L1053.6,2043.4 L1057.7,2042.5 L1061.8,2041.7 L1065.8,2040.8 L1069.9,2040.1 L1074.0,2039.4 L1078.1,2038.7 L1082.2,2038.1 L1086.3,2037.5 L1090.4,2037.0 L1094.5,2036.6 L1098.6,2036.2 L1102.8,2035.9 L1106.9,2035.7 L1111.0,2035.5 L1115.2,2035.4 L1119.3,2035.4 L1123.5,2035.4 L1127.7,2035.5 L1131.8,2035.7 L1136.0,2035.9 L1140.1,2036.3 L1144.3,2036.7 L1148.4,2037.1 L1152.5,2037.7 L1156.6,2038.3 L1160.7,2039.1 L1164.7,2039.9 L1168.8,2040.7 L1172.8,2041.7 L1176.7,2042.8 L1180.7,2043.9 L1184.6,2045.1 L1188.5,2046.4 L1192.3,2047.9 L1196.1,2049.3 L1199.8,2050.9 L1203.5,2052.6 L1207.2,2054.4 L1210.8,2056.3 L1214.3,2058.2 L1217.8,2060.3 L1221.2,2062.4 L1224.6,2064.7 L1227.9,2067.1 L1231.1,2069.5 L1234.3,2072.1 L1237.3,2074.7 L1240.4,2077.5 L1243.3,2080.4 L1246.1,2083.4 L1248.9,2086.5 L1251.6,2089.7 L1254.2,2093.0 L1256.7,2096.4 L1259.1,2099.9 L1261.4,2103.6 L1263.7,2107.4 L1265.8,2111.2 L1267.8,2115.2 L1269.7,2119.3 L1271.5,2123.6 L1273.2,2127.9 L1274.8,2132.4 L1276.2,2137.0" fill="none" stroke="#8196bd" stroke-width="14" stroke-linecap="round" filter="url(#soft)"/>
<path d="M670.5,2145.4 L674.8,2145.1 L679.1,2144.8 L683.4,2144.5 L687.6,2144.2 L691.9,2143.8 L696.1,2143.4 L700.4,2143.0 L704.6,2142.5 L708.8,2142.1 L713.0,2141.6 L717.1,2141.1 L721.3,2140.6 L725.5,2140.0 L729.6,2139.5 L733.7,2138.9 L737.9,2138.3 L742.0,2137.7 L746.1,2137.0 L750.2,2136.3 L754.3,2135.7 L758.4,2135.0 L762.4,2134.2 L766.5,2133.5 L770.6,2132.7 L774.6,2131.9 L778.7,2131.1 L782.7,2130.3 L786.7,2129.4 L790.8,2128.6 L794.8,2127.7 L798.8,2126.7 L802.8,2125.8 L806.8,2124.9 L810.8,2123.9 L814.8,2122.9 L818.8,2121.9 L822.8,2120.9 L826.7,2119.8 L830.7,2118.7 L834.7,2117.6 L838.7,2116.5 L842.6,2115.4 L846.6,2114.2 L850.6,2113.1 L854.5,2111.9 L858.5,2110.7 L862.4,2109.4 L866.4,2108.2 L870.3,2106.9 L874.3,2105.6 L878.2,2104.3 L882.2,2103.0 L886.1,2101.7 L890.1,2100.3 L894.0,2098.9 L898.0,2097.5 L901.9,2096.1 L905.9,2094.6 L909.8,2093.2 L913.8,2091.7 L917.7,2090.2 L921.7,2088.7 L925.6,2087.2 L929.6,2085.7 L933.5,2084.2 L937.5,2082.6 L941.5,2081.1 L945.4,2079.6 L949.4,2078.0 L953.4,2076.5 L957.3,2075.0 L961.3,2073.4 L965.3,2071.9 L969.3,2070.4 L973.2,2068.9 L977.2,2067.4 L981.2,2065.9 L985.2,2064.5 L989.2,2063.0 L993.2,2061.6 L997.2,2060.2 L1001.2,2058.8 L1005.2,2057.4 L1009.2,2056.1 L1013.2,2054.8 L1017.3,2053.5 L1021.3,2052.2 L1025.3,2051.0 L1029.3,2049.8 L1033.4,2048.6 L1037.4,2047.5 L1041.5,2046.4 L1045.5,2045.4 L1049.6,2044.4 L1053.6,2043.4 L1057.7,2042.5 L1061.8,2041.7 L1065.8,2040.8 L1069.9,2040.1 L1074.0,2039.4 L1078.1,2038.7 L1082.2,2038.1 L1086.3,2037.5 L1090.4,2037.0 L1094.5,2036.6 L1098.6,2036.2 L1102.8,2035.9 L1106.9,2035.7 L1111.0,2035.5 L1115.2,2035.4 L1119.3,2035.4 L1123.5,2035.4 L1127.7,2035.5 L1131.8,2035.7 L1136.0,2035.9 L1140.1,2036.3 L1144.3,2036.7 L1148.4,2037.1 L1152.5,2037.7 L1156.6,2038.3 L1160.7,2039.1 L1164.7,2039.9 L1168.8,2040.7 L1172.8,2041.7 L1176.7,2042.8 L1180.7,2043.9 L1184.6,2045.1 L1188.5,2046.4 L1192.3,2047.9 L1196.1,2049.3 L1199.8,2050.9 L1203.5,2052.6 L1207.2,2054.4 L1210.8,2056.3 L1214.3,2058.2 L1217.8,2060.3 L1221.2,2062.4 L1224.6,2064.7 L1227.9,2067.1 L1231.1,2069.5 L1234.3,2072.1 L1237.3,2074.7 L1240.4,2077.5 L1243.3,2080.4 L1246.1,2083.4 L1248.9,2086.5 L1251.6,2089.7 L1254.2,2093.0 L1256.7,2096.4 L1259.1,2099.9 L1261.4,2103.6 L1263.7,2107.4 L1265.8,2111.2 L1267.8,2115.2 L1269.7,2119.3 L1271.5,2123.6 L1273.2,2127.9 L1274.8,2132.4 L1276.2,2137.0" fill="none" stroke="#a9bbd9" stroke-width="8" stroke-linecap="round" filter="url(#soft)"/>
</g>
<rect x="626.2" y="2216.2" width="694.5" height="336.6" fill="url(#gt)"/>
<rect x="626.2" y="2216.2" width="694.5" height="336.6" fill="url(#gtr)"/>
<rect x="626.2" y="2216.2" width="25" height="256" fill="#2a3a52" opacity="0.8"/>
<rect x="649.2" y="2303" width="34" height="13" fill="#7d93b5" opacity="0.8"/>
<rect x="628.2" y="2482.3" width="82" height="53" fill="#0d1422" opacity="0.85"/>
<rect x="628.2" y="2510.5" width="34" height="21" rx="4" fill="#d6dde6"/>
<path d="M678.1,2484.0 L678.1,2479.1 L678.3,2474.0 L678.5,2468.9 L678.9,2463.9 L679.4,2458.8 L680.0,2453.7 L680.7,2448.6 L681.6,2443.5 L682.5,2438.4 L683.6,2433.4 L684.8,2428.4 L686.2,2423.5 L687.7,2418.6 L689.3,2413.8 L691.1,2409.1 L693.1,2404.4 L695.2,2399.9 L697.4,2395.5 L699.8,2391.1 L702.3,2386.9 L704.9,2382.7 L707.7,2378.6 L710.5,2374.6 L713.5,2370.7 L716.6,2366.8 L719.8,2363.1 L723.1,2359.4 L726.5,2355.8 L730.0,2352.2 L733.5,2348.7 L737.1,2345.3 L740.8,2342.0 L744.6,2338.7 L748.4,2335.5 L752.3,2332.4 L756.3,2329.3 L760.3,2326.3 L764.3,2323.3 L768.3,2320.4 L772.4,2317.6 L776.6,2314.8 L780.7,2312.0 L784.9,2309.3 L789.2,2306.7 L793.4,2304.1 L797.7,2301.6 L802.1,2299.1 L806.4,2296.7 L810.8,2294.3 L815.2,2292.0 L819.7,2289.7 L824.2,2287.5 L828.7,2285.4 L833.2,2283.3 L837.8,2281.3 L842.4,2279.3 L847.0,2277.3 L851.6,2275.5 L856.3,2273.6 L861.0,2271.9 L865.7,2270.1 L870.4,2268.5 L875.1,2266.9 L879.9,2265.3 L884.7,2263.8 L889.5,2262.3 L894.3,2260.9 L899.2,2259.6 L904.1,2258.3 L908.9,2257.0 L913.8,2255.8 L918.7,2254.7 L923.7,2253.6 L928.6,2252.6 L933.6,2251.6 L938.5,2250.6 L943.5,2249.8 L948.5,2248.9 L953.5,2248.2 L958.5,2247.4 L963.5,2246.7 L968.6,2246.1 L973.6,2245.5 L978.7,2245.0 L983.7,2244.5 L988.8,2244.1 L993.8,2243.8 L998.9,2243.4 L1004.0,2243.2 L1009.1,2243.0 L1014.1,2242.8 L1019.2,2242.7 L1024.3,2242.7 L1029.3,2242.7 L1034.4,2242.8 L1039.4,2243.0 L1044.4,2243.2 L1049.4,2243.5 L1054.4,2243.9 L1059.4,2244.4 L1064.4,2244.9 L1069.3,2245.5 L1074.3,2246.2 L1079.2,2246.9 L1084.0,2247.8 L1088.9,2248.7 L1093.7,2249.7 L1098.5,2250.8 L1103.3,2252.0 L1108.0,2253.3 L1112.7,2254.7 L1117.3,2256.1 L1122.0,2257.7 L1126.5,2259.4 L1131.1,2261.1 L1135.6,2263.0 L1140.0,2265.0 L1144.4,2267.1 L1148.8,2269.2 L1153.1,2271.5 L1157.3,2273.9 L1161.5,2276.4 L1165.7,2279.0 L1169.8,2281.8 L1173.8,2284.6 L1177.8,2287.6 L1181.7,2290.7 L1185.6,2293.9 L1189.4,2297.3 L1193.1,2300.7 L1196.7,2304.3 L1200.3,2308.0 L1203.8,2311.7 L1207.2,2315.6 L1210.5,2319.6 L1213.7,2323.6 L1216.9,2327.8 L1219.9,2332.0 L1222.8,2336.3 L1225.7,2340.6 L1228.4,2345.0 L1231.0,2349.5 L1233.5,2354.0 L1235.9,2358.6 L1238.1,2363.2 L1240.2,2367.9 L1242.2,2372.6 L1244.1,2377.3 L1245.8,2382.0 L1247.4,2386.8 L1248.9,2391.5 L1250.2,2396.3 L1251.3,2401.1 L1252.3,2405.9 L1253.1,2410.7 L1253.8,2415.4 L1254.3,2420.2 L1254.6,2424.9 L1254.8,2429.6" fill="none" stroke="#9ab4e0" stroke-width="26" stroke-linecap="butt" opacity="0.35" filter="url(#glow)"/>
<path d="M678.1,2484.0 L678.1,2479.1 L678.3,2474.0 L678.5,2468.9 L678.9,2463.9 L679.4,2458.8 L680.0,2453.7 L680.7,2448.6 L681.6,2443.5 L682.5,2438.4 L683.6,2433.4 L684.8,2428.4 L686.2,2423.5 L687.7,2418.6 L689.3,2413.8 L691.1,2409.1 L693.1,2404.4 L695.2,2399.9 L697.4,2395.5 L699.8,2391.1 L702.3,2386.9 L704.9,2382.7 L707.7,2378.6 L710.5,2374.6 L713.5,2370.7 L716.6,2366.8 L719.8,2363.1 L723.1,2359.4 L726.5,2355.8 L730.0,2352.2 L733.5,2348.7 L737.1,2345.3 L740.8,2342.0 L744.6,2338.7 L748.4,2335.5 L752.3,2332.4 L756.3,2329.3 L760.3,2326.3 L764.3,2323.3 L768.3,2320.4 L772.4,2317.6 L776.6,2314.8 L780.7,2312.0 L784.9,2309.3 L789.2,2306.7 L793.4,2304.1 L797.7,2301.6 L802.1,2299.1 L806.4,2296.7 L810.8,2294.3 L815.2,2292.0 L819.7,2289.7 L824.2,2287.5 L828.7,2285.4 L833.2,2283.3 L837.8,2281.3 L842.4,2279.3 L847.0,2277.3 L851.6,2275.5 L856.3,2273.6 L861.0,2271.9 L865.7,2270.1 L870.4,2268.5 L875.1,2266.9 L879.9,2265.3 L884.7,2263.8 L889.5,2262.3 L894.3,2260.9 L899.2,2259.6 L904.1,2258.3 L908.9,2257.0 L913.8,2255.8 L918.7,2254.7 L923.7,2253.6 L928.6,2252.6 L933.6,2251.6 L938.5,2250.6 L943.5,2249.8 L948.5,2248.9 L953.5,2248.2 L958.5,2247.4 L963.5,2246.7 L968.6,2246.1 L973.6,2245.5 L978.7,2245.0 L983.7,2244.5 L988.8,2244.1 L993.8,2243.8 L998.9,2243.4 L1004.0,2243.2 L1009.1,2243.0 L1014.1,2242.8 L1019.2,2242.7 L1024.3,2242.7 L1029.3,2242.7 L1034.4,2242.8 L1039.4,2243.0 L1044.4,2243.2 L1049.4,2243.5 L1054.4,2243.9 L1059.4,2244.4 L1064.4,2244.9 L1069.3,2245.5 L1074.3,2246.2 L1079.2,2246.9 L1084.0,2247.8 L1088.9,2248.7 L1093.7,2249.7 L1098.5,2250.8 L1103.3,2252.0 L1108.0,2253.3 L1112.7,2254.7 L1117.3,2256.1 L1122.0,2257.7 L1126.5,2259.4 L1131.1,2261.1 L1135.6,2263.0 L1140.0,2265.0 L1144.4,2267.1 L1148.8,2269.2 L1153.1,2271.5 L1157.3,2273.9 L1161.5,2276.4 L1165.7,2279.0 L1169.8,2281.8 L1173.8,2284.6 L1177.8,2287.6 L1181.7,2290.7 L1185.6,2293.9 L1189.4,2297.3 L1193.1,2300.7 L1196.7,2304.3 L1200.3,2308.0 L1203.8,2311.7 L1207.2,2315.6 L1210.5,2319.6 L1213.7,2323.6 L1216.9,2327.8 L1219.9,2332.0 L1222.8,2336.3 L1225.7,2340.6 L1228.4,2345.0 L1231.0,2349.5 L1233.5,2354.0 L1235.9,2358.6 L1238.1,2363.2 L1240.2,2367.9 L1242.2,2372.6 L1244.1,2377.3 L1245.8,2382.0 L1247.4,2386.8 L1248.9,2391.5 L1250.2,2396.3 L1251.3,2401.1 L1252.3,2405.9 L1253.1,2410.7 L1253.8,2415.4 L1254.3,2420.2 L1254.6,2424.9 L1254.8,2429.6" fill="none" stroke="#a9bddf" stroke-width="16" stroke-linecap="butt" filter="url(#soft)"/>
<path d="M678.1,2484.0 L678.1,2479.1 L678.3,2474.0 L678.5,2468.9 L678.9,2463.9 L679.4,2458.8 L680.0,2453.7 L680.7,2448.6 L681.6,2443.5 L682.5,2438.4 L683.6,2433.4 L684.8,2428.4 L686.2,2423.5 L687.7,2418.6 L689.3,2413.8 L691.1,2409.1 L693.1,2404.4 L695.2,2399.9 L697.4,2395.5 L699.8,2391.1 L702.3,2386.9 L704.9,2382.7 L707.7,2378.6 L710.5,2374.6 L713.5,2370.7 L716.6,2366.8 L719.8,2363.1 L723.1,2359.4 L726.5,2355.8 L730.0,2352.2 L733.5,2348.7 L737.1,2345.3 L740.8,2342.0 L744.6,2338.7 L748.4,2335.5 L752.3,2332.4 L756.3,2329.3 L760.3,2326.3 L764.3,2323.3 L768.3,2320.4 L772.4,2317.6 L776.6,2314.8 L780.7,2312.0 L784.9,2309.3 L789.2,2306.7 L793.4,2304.1 L797.7,2301.6 L802.1,2299.1 L806.4,2296.7 L810.8,2294.3 L815.2,2292.0 L819.7,2289.7 L824.2,2287.5 L828.7,2285.4 L833.2,2283.3 L837.8,2281.3 L842.4,2279.3 L847.0,2277.3 L851.6,2275.5 L856.3,2273.6 L861.0,2271.9 L865.7,2270.1 L870.4,2268.5 L875.1,2266.9 L879.9,2265.3 L884.7,2263.8 L889.5,2262.3 L894.3,2260.9 L899.2,2259.6 L904.1,2258.3 L908.9,2257.0 L913.8,2255.8 L918.7,2254.7 L923.7,2253.6 L928.6,2252.6 L933.6,2251.6 L938.5,2250.6 L943.5,2249.8 L948.5,2248.9 L953.5,2248.2 L958.5,2247.4 L963.5,2246.7 L968.6,2246.1 L973.6,2245.5 L978.7,2245.0 L983.7,2244.5 L988.8,2244.1 L993.8,2243.8 L998.9,2243.4 L1004.0,2243.2 L1009.1,2243.0 L1014.1,2242.8 L1019.2,2242.7 L1024.3,2242.7 L1029.3,2242.7 L1034.4,2242.8 L1039.4,2243.0 L1044.4,2243.2 L1049.4,2243.5 L1054.4,2243.9 L1059.4,2244.4 L1064.4,2244.9 L1069.3,2245.5 L1074.3,2246.2 L1079.2,2246.9 L1084.0,2247.8 L1088.9,2248.7 L1093.7,2249.7 L1098.5,2250.8 L1103.3,2252.0 L1108.0,2253.3 L1112.7,2254.7 L1117.3,2256.1 L1122.0,2257.7 L1126.5,2259.4 L1131.1,2261.1 L1135.6,2263.0 L1140.0,2265.0 L1144.4,2267.1 L1148.8,2269.2 L1153.1,2271.5 L1157.3,2273.9 L1161.5,2276.4 L1165.7,2279.0 L1169.8,2281.8 L1173.8,2284.6 L1177.8,2287.6 L1181.7,2290.7 L1185.6,2293.9 L1189.4,2297.3 L1193.1,2300.7 L1196.7,2304.3 L1200.3,2308.0 L1203.8,2311.7 L1207.2,2315.6 L1210.5,2319.6 L1213.7,2323.6 L1216.9,2327.8 L1219.9,2332.0 L1222.8,2336.3 L1225.7,2340.6 L1228.4,2345.0 L1231.0,2349.5 L1233.5,2354.0 L1235.9,2358.6 L1238.1,2363.2 L1240.2,2367.9 L1242.2,2372.6 L1244.1,2377.3 L1245.8,2382.0 L1247.4,2386.8 L1248.9,2391.5 L1250.2,2396.3 L1251.3,2401.1 L1252.3,2405.9 L1253.1,2410.7 L1253.8,2415.4 L1254.3,2420.2 L1254.6,2424.9 L1254.8,2429.6" fill="none" stroke="#dfe8f6" stroke-width="9" stroke-linecap="butt" filter="url(#soft)"/>
<rect x="1240.9" y="2430" width="28" height="24" fill="#d9e0ea"/>
<rect x="1244.9" y="2454" width="20" height="27" fill="#cfd7e2"/>
<rect x="1228.9" y="2492.2" width="68" height="42.3" fill="#6d7888"/>
<rect x="1274.7" y="2478" width="46" height="74.8" fill="#b8c3d2" opacity="0.85"/>
<g>
<rect x="1364.8" y="1981.2" width="694.5" height="197.5" fill="url(#gs)"/>
<rect x="1364.8" y="1981.2" width="694.5" height="197.5" fill="url(#gsr)"/>
<rect x="2019.3" y="2096.3" width="40" height="73.4" fill="#a9b5c3" opacity="0.85"/>
<rect x="1968.3" y="2103.4" width="51" height="12.7" fill="#8a9a78" opacity="0.7"/>
<rect x="1989.3" y="2116" width="35" height="40" rx="10" fill="#2c3c5c" opacity="0.8"/>
<ellipse cx="1387.8" cy="2140" rx="15" ry="16" fill="#2a2a30" opacity="0.8"/>
<path d="M1411.3,2138.2 L1415.6,2138.1 L1419.9,2138.0 L1424.2,2137.8 L1428.5,2137.7 L1432.8,2137.4 L1437.0,2137.2 L1441.3,2136.9 L1445.5,2136.5 L1449.7,2136.1 L1453.9,2135.7 L1458.1,2135.3 L1462.3,2134.8 L1466.4,2134.3 L1470.6,2133.8 L1474.7,2133.2 L1478.8,2132.6 L1482.9,2131.9 L1487.0,2131.3 L1491.1,2130.6 L1495.2,2129.8 L1499.2,2129.1 L1503.3,2128.3 L1507.3,2127.5 L1511.3,2126.6 L1515.4,2125.7 L1519.4,2124.8 L1523.4,2123.9 L1527.4,2123.0 L1531.3,2122.0 L1535.3,2121.0 L1539.3,2120.0 L1543.3,2118.9 L1547.2,2117.8 L1551.2,2116.7 L1555.1,2115.6 L1559.0,2114.5 L1563.0,2113.3 L1566.9,2112.1 L1570.8,2110.9 L1574.7,2109.7 L1578.7,2108.4 L1582.6,2107.2 L1586.5,2105.9 L1590.4,2104.6 L1594.3,2103.3 L1598.2,2101.9 L1602.1,2100.6 L1606.0,2099.2 L1609.8,2097.8 L1613.7,2096.4 L1617.6,2095.0 L1621.5,2093.6 L1625.4,2092.1 L1629.3,2090.7 L1633.2,2089.2 L1637.1,2087.7 L1640.9,2086.2 L1644.8,2084.7 L1648.7,2083.2 L1652.6,2081.7 L1656.5,2080.2 L1660.4,2078.6 L1664.3,2077.1 L1668.2,2075.5 L1672.1,2074.0 L1676.0,2072.4 L1679.9,2070.8 L1683.9,2069.2 L1687.8,2067.7 L1691.7,2066.1 L1695.6,2064.5 L1699.6,2063.0 L1703.5,2061.4 L1707.4,2059.9 L1711.4,2058.3 L1715.3,2056.8 L1719.3,2055.3 L1723.2,2053.8 L1727.2,2052.3 L1731.2,2050.9 L1735.1,2049.4 L1739.1,2048.0 L1743.1,2046.6 L1747.1,2045.3 L1751.1,2044.0 L1755.1,2042.7 L1759.1,2041.4 L1763.1,2040.2 L1767.1,2039.0 L1771.1,2037.8 L1775.1,2036.7 L1779.1,2035.6 L1783.1,2034.6 L1787.2,2033.6 L1791.2,2032.7 L1795.3,2031.8 L1799.3,2030.9 L1803.4,2030.2 L1807.4,2029.4 L1811.5,2028.7 L1815.6,2028.1 L1819.6,2027.6 L1823.7,2027.1 L1827.8,2026.6 L1831.9,2026.3 L1836.0,2026.0 L1840.1,2025.7 L1844.2,2025.6 L1848.3,2025.5 L1852.5,2025.5 L1856.6,2025.5 L1860.7,2025.7 L1864.9,2025.9 L1869.0,2026.2 L1873.1,2026.5 L1877.3,2027.0 L1881.4,2027.5 L1885.5,2028.1 L1889.6,2028.8 L1893.7,2029.6 L1897.7,2030.4 L1901.7,2031.4 L1905.8,2032.4 L1909.7,2033.5 L1913.7,2034.6 L1917.6,2035.9 L1921.5,2037.3 L1925.4,2038.7 L1929.2,2040.2 L1933.0,2041.8 L1936.7,2043.5 L1940.4,2045.3 L1944.1,2047.1 L1947.7,2049.1 L1951.2,2051.1 L1954.7,2053.3 L1958.2,2055.5 L1961.5,2057.8 L1964.8,2060.2 L1968.1,2062.7 L1971.3,2065.3 L1974.4,2068.0 L1977.4,2070.7 L1980.4,2073.6 L1983.3,2076.6 L1986.1,2079.6 L1988.8,2082.8 L1991.5,2086.0 L1994.0,2089.4 L1996.5,2092.8 L1998.9,2096.3 L2001.1,2100.0 L2003.3,2103.7 L2005.4,2107.5 L2007.4,2111.5 L2009.3,2115.5 L2011.1,2119.6 L2012.7,2123.8 L2014.3,2128.2" fill="none" stroke="#8196bd" stroke-width="14" stroke-linecap="round" filter="url(#soft)"/>
<path d="M1411.3,2138.2 L1415.6,2138.1 L1419.9,2138.0 L1424.2,2137.8 L1428.5,2137.7 L1432.8,2137.4 L1437.0,2137.2 L1441.3,2136.9 L1445.5,2136.5 L1449.7,2136.1 L1453.9,2135.7 L1458.1,2135.3 L1462.3,2134.8 L1466.4,2134.3 L1470.6,2133.8 L1474.7,2133.2 L1478.8,2132.6 L1482.9,2131.9 L1487.0,2131.3 L1491.1,2130.6 L1495.2,2129.8 L1499.2,2129.1 L1503.3,2128.3 L1507.3,2127.5 L1511.3,2126.6 L1515.4,2125.7 L1519.4,2124.8 L1523.4,2123.9 L1527.4,2123.0 L1531.3,2122.0 L1535.3,2121.0 L1539.3,2120.0 L1543.3,2118.9 L1547.2,2117.8 L1551.2,2116.7 L1555.1,2115.6 L1559.0,2114.5 L1563.0,2113.3 L1566.9,2112.1 L1570.8,2110.9 L1574.7,2109.7 L1578.7,2108.4 L1582.6,2107.2 L1586.5,2105.9 L1590.4,2104.6 L1594.3,2103.3 L1598.2,2101.9 L1602.1,2100.6 L1606.0,2099.2 L1609.8,2097.8 L1613.7,2096.4 L1617.6,2095.0 L1621.5,2093.6 L1625.4,2092.1 L1629.3,2090.7 L1633.2,2089.2 L1637.1,2087.7 L1640.9,2086.2 L1644.8,2084.7 L1648.7,2083.2 L1652.6,2081.7 L1656.5,2080.2 L1660.4,2078.6 L1664.3,2077.1 L1668.2,2075.5 L1672.1,2074.0 L1676.0,2072.4 L1679.9,2070.8 L1683.9,2069.2 L1687.8,2067.7 L1691.7,2066.1 L1695.6,2064.5 L1699.6,2063.0 L1703.5,2061.4 L1707.4,2059.9 L1711.4,2058.3 L1715.3,2056.8 L1719.3,2055.3 L1723.2,2053.8 L1727.2,2052.3 L1731.2,2050.9 L1735.1,2049.4 L1739.1,2048.0 L1743.1,2046.6 L1747.1,2045.3 L1751.1,2044.0 L1755.1,2042.7 L1759.1,2041.4 L1763.1,2040.2 L1767.1,2039.0 L1771.1,2037.8 L1775.1,2036.7 L1779.1,2035.6 L1783.1,2034.6 L1787.2,2033.6 L1791.2,2032.7 L1795.3,2031.8 L1799.3,2030.9 L1803.4,2030.2 L1807.4,2029.4 L1811.5,2028.7 L1815.6,2028.1 L1819.6,2027.6 L1823.7,2027.1 L1827.8,2026.6 L1831.9,2026.3 L1836.0,2026.0 L1840.1,2025.7 L1844.2,2025.6 L1848.3,2025.5 L1852.5,2025.5 L1856.6,2025.5 L1860.7,2025.7 L1864.9,2025.9 L1869.0,2026.2 L1873.1,2026.5 L1877.3,2027.0 L1881.4,2027.5 L1885.5,2028.1 L1889.6,2028.8 L1893.7,2029.6 L1897.7,2030.4 L1901.7,2031.4 L1905.8,2032.4 L1909.7,2033.5 L1913.7,2034.6 L1917.6,2035.9 L1921.5,2037.3 L1925.4,2038.7 L1929.2,2040.2 L1933.0,2041.8 L1936.7,2043.5 L1940.4,2045.3 L1944.1,2047.1 L1947.7,2049.1 L1951.2,2051.1 L1954.7,2053.3 L1958.2,2055.5 L1961.5,2057.8 L1964.8,2060.2 L1968.1,2062.7 L1971.3,2065.3 L1974.4,2068.0 L1977.4,2070.7 L1980.4,2073.6 L1983.3,2076.6 L1986.1,2079.6 L1988.8,2082.8 L1991.5,2086.0 L1994.0,2089.4 L1996.5,2092.8 L1998.9,2096.3 L2001.1,2100.0 L2003.3,2103.7 L2005.4,2107.5 L2007.4,2111.5 L2009.3,2115.5 L2011.1,2119.6 L2012.7,2123.8 L2014.3,2128.2" fill="none" stroke="#a9bbd9" stroke-width="8" stroke-linecap="round" filter="url(#soft)"/>
</g>
<rect x="1364.8" y="2216.2" width="694.5" height="336.6" fill="url(#gt)"/>
<rect x="1364.8" y="2216.2" width="694.5" height="336.6" fill="url(#gtr)"/>
<rect x="1364.8" y="2216.2" width="25" height="256" fill="#2a3a52" opacity="0.8"/>
<rect x="1387.8" y="2303" width="34" height="13" fill="#7d93b5" opacity="0.8"/>
<rect x="1366.8" y="2482.3" width="82" height="53" fill="#0d1422" opacity="0.85"/>
<rect x="1366.8" y="2510.5" width="34" height="21" rx="4" fill="#d6dde6"/>
<path d="M1416.1,2486.2 L1415.9,2480.7 L1415.9,2475.2 L1416.2,2469.9 L1416.6,2464.7 L1417.3,2459.5 L1418.1,2454.5 L1419.1,2449.6 L1420.4,2444.8 L1421.8,2440.1 L1423.3,2435.5 L1425.1,2431.0 L1427.0,2426.6 L1429.1,2422.4 L1431.3,2418.2 L1433.7,2414.1 L1436.2,2410.1 L1438.9,2406.2 L1441.7,2402.4 L1444.6,2398.7 L1447.7,2395.1 L1450.9,2391.6 L1454.2,2388.2 L1457.6,2384.9 L1461.2,2381.6 L1464.8,2378.5 L1468.5,2375.4 L1472.3,2372.5 L1476.2,2369.6 L1480.2,2366.8 L1484.3,2364.1 L1488.4,2361.5 L1492.7,2359.0 L1496.9,2356.5 L1501.3,2354.2 L1505.7,2351.9 L1510.1,2349.7 L1514.6,2347.6 L1519.1,2345.6 L1523.7,2343.6 L1528.2,2341.8 L1532.9,2340.0 L1537.5,2338.2 L1542.1,2336.6 L1546.8,2335.0 L1551.5,2333.5 L1556.1,2332.1 L1560.8,2330.8 L1565.5,2329.5 L1570.2,2328.2 L1574.9,2327.1 L1579.7,2325.9 L1584.4,2324.9 L1589.1,2323.9 L1593.9,2322.9 L1598.6,2322.0 L1603.4,2321.1 L1608.2,2320.3 L1612.9,2319.5 L1617.7,2318.7 L1622.5,2318.0 L1627.3,2317.3 L1632.1,2316.7 L1636.9,2316.0 L1641.7,2315.4 L1646.5,2314.8 L1651.3,2314.2 L1656.2,2313.6 L1661.0,2313.1 L1665.8,2312.5 L1670.6,2312.0 L1675.5,2311.4 L1680.3,2310.9 L1685.1,2310.4 L1690.0,2309.8 L1694.8,2309.3 L1699.6,2308.7 L1704.5,2308.1 L1709.3,2307.5 L1714.1,2306.9 L1719.0,2306.3 L1723.8,2305.6 L1728.7,2305.0 L1733.5,2304.3 L1738.3,2303.5 L1743.1,2302.8 L1748.0,2302.0 L1752.8,2301.1 L1757.6,2300.2 L1762.4,2299.3 L1767.3,2298.3 L1772.1,2297.3 L1776.9,2296.2 L1781.7,2295.1 L1786.5,2294.0 L1791.3,2292.8 L1796.1,2291.7 L1800.9,2290.5 L1805.7,2289.4 L1810.5,2288.2 L1815.3,2287.1 L1820.1,2286.0 L1824.9,2284.9 L1829.8,2283.9 L1834.6,2283.0 L1839.4,2282.0 L1844.3,2281.2 L1849.1,2280.4 L1853.9,2279.8 L1858.8,2279.2 L1863.7,2278.7 L1868.6,2278.3 L1873.5,2278.0 L1878.4,2277.8 L1883.3,2277.8 L1888.2,2277.9 L1893.1,2278.2 L1898.0,2278.6 L1902.9,2279.1 L1907.7,2279.8 L1912.5,2280.7 L1917.3,2281.8 L1921.9,2283.0 L1926.5,2284.4 L1931.0,2286.0 L1935.4,2287.8 L1939.6,2289.7 L1943.8,2291.9 L1947.8,2294.3 L1951.6,2296.9 L1955.3,2299.8 L1958.9,2302.8 L1962.2,2306.0 L1965.5,2309.4 L1968.5,2313.0 L1971.5,2316.8 L1974.2,2320.7 L1976.8,2324.7 L1979.2,2328.9 L1981.5,2333.3 L1983.6,2337.7 L1985.5,2342.3 L1987.3,2346.9 L1988.9,2351.7 L1990.4,2356.5 L1991.6,2361.4 L1992.8,2366.3 L1993.8,2371.3 L1994.6,2376.4 L1995.3,2381.4 L1995.9,2386.4 L1996.4,2391.5 L1996.8,2396.5 L1997.0,2401.5 L1997.2,2406.5 L1997.2,2411.4 L1997.2,2416.2 L1997.1,2421.0 L1996.9,2425.6 L1996.7,2430.2" fill="none" stroke="#9ab4e0" stroke-width="26" stroke-linecap="butt" opacity="0.35" filter="url(#glow)"/>
<path d="M1416.1,2486.2 L1415.9,2480.7 L1415.9,2475.2 L1416.2,2469.9 L1416.6,2464.7 L1417.3,2459.5 L1418.1,2454.5 L1419.1,2449.6 L1420.4,2444.8 L1421.8,2440.1 L1423.3,2435.5 L1425.1,2431.0 L1427.0,2426.6 L1429.1,2422.4 L1431.3,2418.2 L1433.7,2414.1 L1436.2,2410.1 L1438.9,2406.2 L1441.7,2402.4 L1444.6,2398.7 L1447.7,2395.1 L1450.9,2391.6 L1454.2,2388.2 L1457.6,2384.9 L1461.2,2381.6 L1464.8,2378.5 L1468.5,2375.4 L1472.3,2372.5 L1476.2,2369.6 L1480.2,2366.8 L1484.3,2364.1 L1488.4,2361.5 L1492.7,2359.0 L1496.9,2356.5 L1501.3,2354.2 L1505.7,2351.9 L1510.1,2349.7 L1514.6,2347.6 L1519.1,2345.6 L1523.7,2343.6 L1528.2,2341.8 L1532.9,2340.0 L1537.5,2338.2 L1542.1,2336.6 L1546.8,2335.0 L1551.5,2333.5 L1556.1,2332.1 L1560.8,2330.8 L1565.5,2329.5 L1570.2,2328.2 L1574.9,2327.1 L1579.7,2325.9 L1584.4,2324.9 L1589.1,2323.9 L1593.9,2322.9 L1598.6,2322.0 L1603.4,2321.1 L1608.2,2320.3 L1612.9,2319.5 L1617.7,2318.7 L1622.5,2318.0 L1627.3,2317.3 L1632.1,2316.7 L1636.9,2316.0 L1641.7,2315.4 L1646.5,2314.8 L1651.3,2314.2 L1656.2,2313.6 L1661.0,2313.1 L1665.8,2312.5 L1670.6,2312.0 L1675.5,2311.4 L1680.3,2310.9 L1685.1,2310.4 L1690.0,2309.8 L1694.8,2309.3 L1699.6,2308.7 L1704.5,2308.1 L1709.3,2307.5 L1714.1,2306.9 L1719.0,2306.3 L1723.8,2305.6 L1728.7,2305.0 L1733.5,2304.3 L1738.3,2303.5 L1743.1,2302.8 L1748.0,2302.0 L1752.8,2301.1 L1757.6,2300.2 L1762.4,2299.3 L1767.3,2298.3 L1772.1,2297.3 L1776.9,2296.2 L1781.7,2295.1 L1786.5,2294.0 L1791.3,2292.8 L1796.1,2291.7 L1800.9,2290.5 L1805.7,2289.4 L1810.5,2288.2 L1815.3,2287.1 L1820.1,2286.0 L1824.9,2284.9 L1829.8,2283.9 L1834.6,2283.0 L1839.4,2282.0 L1844.3,2281.2 L1849.1,2280.4 L1853.9,2279.8 L1858.8,2279.2 L1863.7,2278.7 L1868.6,2278.3 L1873.5,2278.0 L1878.4,2277.8 L1883.3,2277.8 L1888.2,2277.9 L1893.1,2278.2 L1898.0,2278.6 L1902.9,2279.1 L1907.7,2279.8 L1912.5,2280.7 L1917.3,2281.8 L1921.9,2283.0 L1926.5,2284.4 L1931.0,2286.0 L1935.4,2287.8 L1939.6,2289.7 L1943.8,2291.9 L1947.8,2294.3 L1951.6,2296.9 L1955.3,2299.8 L1958.9,2302.8 L1962.2,2306.0 L1965.5,2309.4 L1968.5,2313.0 L1971.5,2316.8 L1974.2,2320.7 L1976.8,2324.7 L1979.2,2328.9 L1981.5,2333.3 L1983.6,2337.7 L1985.5,2342.3 L1987.3,2346.9 L1988.9,2351.7 L1990.4,2356.5 L1991.6,2361.4 L1992.8,2366.3 L1993.8,2371.3 L1994.6,2376.4 L1995.3,2381.4 L1995.9,2386.4 L1996.4,2391.5 L1996.8,2396.5 L1997.0,2401.5 L1997.2,2406.5 L1997.2,2411.4 L1997.2,2416.2 L1997.1,2421.0 L1996.9,2425.6 L1996.7,2430.2" fill="none" stroke="#a9bddf" stroke-width="16" stroke-linecap="butt" filter="url(#soft)"/>
<path d="M1416.1,2486.2 L1415.9,2480.7 L1415.9,2475.2 L1416.2,2469.9 L1416.6,2464.7 L1417.3,2459.5 L1418.1,2454.5 L1419.1,2449.6 L1420.4,2444.8 L1421.8,2440.1 L1423.3,2435.5 L1425.1,2431.0 L1427.0,2426.6 L1429.1,2422.4 L1431.3,2418.2 L1433.7,2414.1 L1436.2,2410.1 L1438.9,2406.2 L1441.7,2402.4 L1444.6,2398.7 L1447.7,2395.1 L1450.9,2391.6 L1454.2,2388.2 L1457.6,2384.9 L1461.2,2381.6 L1464.8,2378.5 L1468.5,2375.4 L1472.3,2372.5 L1476.2,2369.6 L1480.2,2366.8 L1484.3,2364.1 L1488.4,2361.5 L1492.7,2359.0 L1496.9,2356.5 L1501.3,2354.2 L1505.7,2351.9 L1510.1,2349.7 L1514.6,2347.6 L1519.1,2345.6 L1523.7,2343.6 L1528.2,2341.8 L1532.9,2340.0 L1537.5,2338.2 L1542.1,2336.6 L1546.8,2335.0 L1551.5,2333.5 L1556.1,2332.1 L1560.8,2330.8 L1565.5,2329.5 L1570.2,2328.2 L1574.9,2327.1 L1579.7,2325.9 L1584.4,2324.9 L1589.1,2323.9 L1593.9,2322.9 L1598.6,2322.0 L1603.4,2321.1 L1608.2,2320.3 L1612.9,2319.5 L1617.7,2318.7 L1622.5,2318.0 L1627.3,2317.3 L1632.1,2316.7 L1636.9,2316.0 L1641.7,2315.4 L1646.5,2314.8 L1651.3,2314.2 L1656.2,2313.6 L1661.0,2313.1 L1665.8,2312.5 L1670.6,2312.0 L1675.5,2311.4 L1680.3,2310.9 L1685.1,2310.4 L1690.0,2309.8 L1694.8,2309.3 L1699.6,2308.7 L1704.5,2308.1 L1709.3,2307.5 L1714.1,2306.9 L1719.0,2306.3 L1723.8,2305.6 L1728.7,2305.0 L1733.5,2304.3 L1738.3,2303.5 L1743.1,2302.8 L1748.0,2302.0 L1752.8,2301.1 L1757.6,2300.2 L1762.4,2299.3 L1767.3,2298.3 L1772.1,2297.3 L1776.9,2296.2 L1781.7,2295.1 L1786.5,2294.0 L1791.3,2292.8 L1796.1,2291.7 L1800.9,2290.5 L1805.7,2289.4 L1810.5,2288.2 L1815.3,2287.1 L1820.1,2286.0 L1824.9,2284.9 L1829.8,2283.9 L1834.6,2283.0 L1839.4,2282.0 L1844.3,2281.2 L1849.1,2280.4 L1853.9,2279.8 L1858.8,2279.2 L1863.7,2278.7 L1868.6,2278.3 L1873.5,2278.0 L1878.4,2277.8 L1883.3,2277.8 L1888.2,2277.9 L1893.1,2278.2 L1898.0,2278.6 L1902.9,2279.1 L1907.7,2279.8 L1912.5,2280.7 L1917.3,2281.8 L1921.9,2283.0 L1926.5,2284.4 L1931.0,2286.0 L1935.4,2287.8 L1939.6,2289.7 L1943.8,2291.9 L1947.8,2294.3 L1951.6,2296.9 L1955.3,2299.8 L1958.9,2302.8 L1962.2,2306.0 L1965.5,2309.4 L1968.5,2313.0 L1971.5,2316.8 L1974.2,2320.7 L1976.8,2324.7 L1979.2,2328.9 L1981.5,2333.3 L1983.6,2337.7 L1985.5,2342.3 L1987.3,2346.9 L1988.9,2351.7 L1990.4,2356.5 L1991.6,2361.4 L1992.8,2366.3 L1993.8,2371.3 L1994.6,2376.4 L1995.3,2381.4 L1995.9,2386.4 L1996.4,2391.5 L1996.8,2396.5 L1997.0,2401.5 L1997.2,2406.5 L1997.2,2411.4 L1997.2,2416.2 L1997.1,2421.0 L1996.9,2425.6 L1996.7,2430.2" fill="none" stroke="#dfe8f6" stroke-width="9" stroke-linecap="butt" filter="url(#soft)"/>
<rect x="1983.2" y="2430" width="28" height="24" fill="#d9e0ea"/>
<rect x="1987.2" y="2454" width="20" height="27" fill="#cfd7e2"/>
<rect x="1971.2" y="2492.2" width="68" height="42.3" fill="#6d7888"/>
<rect x="2013.3" y="2478" width="46" height="74.8" fill="#b8c3d2" opacity="0.85"/>
<g>
<rect x="2102.8" y="1981.2" width="694.5" height="197.5" fill="url(#gs)"/>
<rect x="2102.8" y="1981.2" width="694.5" height="197.5" fill="url(#gsr)"/>
<rect x="2757.3" y="2096.3" width="40" height="73.4" fill="#a9b5c3" opacity="0.85"/>
<rect x="2706.3" y="2103.4" width="51" height="12.7" fill="#8a9a78" opacity="0.7"/>
<rect x="2727.3" y="2116" width="35" height="40" rx="10" fill="#2c3c5c" opacity="0.8"/>
<ellipse cx="2125.8" cy="2140" rx="15" ry="16" fill="#2a2a30" opacity="0.8"/>
<path d="M2150.8,2139.3 L2154.8,2138.7 L2158.9,2138.1 L2162.9,2137.5 L2166.9,2136.8 L2170.9,2136.1 L2174.9,2135.3 L2178.8,2134.5 L2182.8,2133.6 L2186.7,2132.7 L2190.6,2131.8 L2194.6,2130.9 L2198.5,2129.9 L2202.3,2128.8 L2206.2,2127.8 L2210.1,2126.7 L2213.9,2125.6 L2217.8,2124.4 L2221.6,2123.2 L2225.4,2122.0 L2229.2,2120.8 L2233.0,2119.5 L2236.8,2118.2 L2240.6,2116.9 L2244.4,2115.6 L2248.2,2114.3 L2251.9,2112.9 L2255.7,2111.5 L2259.5,2110.1 L2263.2,2108.7 L2267.0,2107.3 L2270.7,2105.8 L2274.5,2104.3 L2278.2,2102.9 L2281.9,2101.4 L2285.7,2099.9 L2289.4,2098.4 L2293.1,2096.9 L2296.8,2095.3 L2300.6,2093.8 L2304.3,2092.3 L2308.0,2090.7 L2311.7,2089.2 L2315.5,2087.7 L2319.2,2086.1 L2322.9,2084.6 L2326.7,2083.1 L2330.4,2081.5 L2334.1,2080.0 L2337.9,2078.5 L2341.6,2077.0 L2345.4,2075.4 L2349.2,2073.9 L2352.9,2072.5 L2356.7,2071.0 L2360.5,2069.5 L2364.2,2068.0 L2368.0,2066.6 L2371.8,2065.2 L2375.6,2063.7 L2379.4,2062.3 L2383.3,2061.0 L2387.1,2059.6 L2390.9,2058.3 L2394.8,2057.0 L2398.6,2055.7 L2402.5,2054.4 L2406.4,2053.1 L2410.2,2051.9 L2414.1,2050.7 L2418.0,2049.6 L2421.9,2048.5 L2425.8,2047.4 L2429.7,2046.3 L2433.6,2045.3 L2437.5,2044.3 L2441.5,2043.4 L2445.4,2042.5 L2449.3,2041.6 L2453.2,2040.8 L2457.2,2040.1 L2461.1,2039.4 L2465.1,2038.7 L2469.0,2038.1 L2473.0,2037.5 L2476.9,2037.0 L2480.9,2036.5 L2484.8,2036.1 L2488.8,2035.7 L2492.8,2035.4 L2496.7,2035.2 L2500.7,2035.0 L2504.6,2034.9 L2508.6,2034.9 L2512.6,2034.9 L2516.5,2035.0 L2520.5,2035.1 L2524.5,2035.3 L2528.4,2035.6 L2532.4,2035.9 L2536.3,2036.3 L2540.3,2036.7 L2544.2,2037.2 L2548.2,2037.8 L2552.1,2038.4 L2556.1,2039.0 L2560.0,2039.7 L2563.9,2040.5 L2567.8,2041.3 L2571.8,2042.2 L2575.7,2043.1 L2579.6,2044.1 L2583.5,2045.1 L2587.3,2046.2 L2591.2,2047.3 L2595.1,2048.4 L2598.9,2049.7 L2602.8,2050.9 L2606.6,2052.2 L2610.5,2053.5 L2614.3,2054.9 L2618.1,2056.3 L2621.9,2057.8 L2625.7,2059.3 L2629.4,2060.9 L2633.2,2062.4 L2636.9,2064.1 L2640.7,2065.7 L2644.4,2067.4 L2648.1,2069.1 L2651.8,2070.9 L2655.4,2072.7 L2659.1,2074.5 L2662.7,2076.4 L2666.3,2078.3 L2669.9,2080.2 L2673.5,2082.2 L2677.1,2084.2 L2680.6,2086.2 L2684.2,2088.2 L2687.7,2090.3 L2691.1,2092.4 L2694.6,2094.5 L2698.1,2096.6 L2701.5,2098.8 L2704.9,2101.0 L2708.3,2103.2 L2711.6,2105.4 L2715.0,2107.7 L2718.3,2109.9 L2721.6,2112.2 L2724.9,2114.5 L2728.1,2116.8 L2731.3,2119.2 L2734.5,2121.5 L2737.7,2123.9 L2740.8,2126.3 L2743.9,2128.7 L2747.0,2131.1 L2750.1,2133.5" fill="none" stroke="#8196bd" stroke-width="14" stroke-linecap="round" filter="url(#soft)"/>
<path d="M2150.8,2139.3 L2154.8,2138.7 L2158.9,2138.1 L2162.9,2137.5 L2166.9,2136.8 L2170.9,2136.1 L2174.9,2135.3 L2178.8,2134.5 L2182.8,2133.6 L2186.7,2132.7 L2190.6,2131.8 L2194.6,2130.9 L2198.5,2129.9 L2202.3,2128.8 L2206.2,2127.8 L2210.1,2126.7 L2213.9,2125.6 L2217.8,2124.4 L2221.6,2123.2 L2225.4,2122.0 L2229.2,2120.8 L2233.0,2119.5 L2236.8,2118.2 L2240.6,2116.9 L2244.4,2115.6 L2248.2,2114.3 L2251.9,2112.9 L2255.7,2111.5 L2259.5,2110.1 L2263.2,2108.7 L2267.0,2107.3 L2270.7,2105.8 L2274.5,2104.3 L2278.2,2102.9 L2281.9,2101.4 L2285.7,2099.9 L2289.4,2098.4 L2293.1,2096.9 L2296.8,2095.3 L2300.6,2093.8 L2304.3,2092.3 L2308.0,2090.7 L2311.7,2089.2 L2315.5,2087.7 L2319.2,2086.1 L2322.9,2084.6 L2326.7,2083.1 L2330.4,2081.5 L2334.1,2080.0 L2337.9,2078.5 L2341.6,2077.0 L2345.4,2075.4 L2349.2,2073.9 L2352.9,2072.5 L2356.7,2071.0 L2360.5,2069.5 L2364.2,2068.0 L2368.0,2066.6 L2371.8,2065.2 L2375.6,2063.7 L2379.4,2062.3 L2383.3,2061.0 L2387.1,2059.6 L2390.9,2058.3 L2394.8,2057.0 L2398.6,2055.7 L2402.5,2054.4 L2406.4,2053.1 L2410.2,2051.9 L2414.1,2050.7 L2418.0,2049.6 L2421.9,2048.5 L2425.8,2047.4 L2429.7,2046.3 L2433.6,2045.3 L2437.5,2044.3 L2441.5,2043.4 L2445.4,2042.5 L2449.3,2041.6 L2453.2,2040.8 L2457.2,2040.1 L2461.1,2039.4 L2465.1,2038.7 L2469.0,2038.1 L2473.0,2037.5 L2476.9,2037.0 L2480.9,2036.5 L2484.8,2036.1 L2488.8,2035.7 L2492.8,2035.4 L2496.7,2035.2 L2500.7,2035.0 L2504.6,2034.9 L2508.6,2034.9 L2512.6,2034.9 L2516.5,2035.0 L2520.5,2035.1 L2524.5,2035.3 L2528.4,2035.6 L2532.4,2035.9 L2536.3,2036.3 L2540.3,2036.7 L2544.2,2037.2 L2548.2,2037.8 L2552.1,2038.4 L2556.1,2039.0 L2560.0,2039.7 L2563.9,2040.5 L2567.8,2041.3 L2571.8,2042.2 L2575.7,2043.1 L2579.6,2044.1 L2583.5,2045.1 L2587.3,2046.2 L2591.2,2047.3 L2595.1,2048.4 L2598.9,2049.7 L2602.8,2050.9 L2606.6,2052.2 L2610.5,2053.5 L2614.3,2054.9 L2618.1,2056.3 L2621.9,2057.8 L2625.7,2059.3 L2629.4,2060.9 L2633.2,2062.4 L2636.9,2064.1 L2640.7,2065.7 L2644.4,2067.4 L2648.1,2069.1 L2651.8,2070.9 L2655.4,2072.7 L2659.1,2074.5 L2662.7,2076.4 L2666.3,2078.3 L2669.9,2080.2 L2673.5,2082.2 L2677.1,2084.2 L2680.6,2086.2 L2684.2,2088.2 L2687.7,2090.3 L2691.1,2092.4 L2694.6,2094.5 L2698.1,2096.6 L2701.5,2098.8 L2704.9,2101.0 L2708.3,2103.2 L2711.6,2105.4 L2715.0,2107.7 L2718.3,2109.9 L2721.6,2112.2 L2724.9,2114.5 L2728.1,2116.8 L2731.3,2119.2 L2734.5,2121.5 L2737.7,2123.9 L2740.8,2126.3 L2743.9,2128.7 L2747.0,2131.1 L2750.1,2133.5" fill="none" stroke="#a9bbd9" stroke-width="8" stroke-linecap="round" filter="url(#soft)"/>
</g>
<rect x="2102.8" y="2216.2" width="694.5" height="336.6" fill="url(#gt)"/>
<rect x="2102.8" y="2216.2" width="694.5" height="336.6" fill="url(#gtr)"/>
<rect x="2102.8" y="2216.2" width="25" height="256" fill="#2a3a52" opacity="0.8"/>
<rect x="2125.8" y="2303" width="34" height="13" fill="#7d93b5" opacity="0.8"/>
<rect x="2104.8" y="2482.3" width="82" height="53" fill="#0d1422" opacity="0.85"/>
<rect x="2104.8" y="2510.5" width="34" height="21" rx="4" fill="#d6dde6"/>
<path d="M2153.8,2485.1 L2154.0,2480.6 L2154.3,2475.9 L2154.7,2471.2 L2155.4,2466.4 L2156.2,2461.5 L2157.1,2456.6 L2158.3,2451.7 L2159.6,2446.8 L2161.1,2442.0 L2162.7,2437.2 L2164.5,2432.5 L2166.6,2427.9 L2168.7,2423.4 L2171.1,2419.0 L2173.7,2414.9 L2176.4,2410.9 L2179.3,2407.1 L2182.4,2403.4 L2185.6,2400.0 L2189.0,2396.7 L2192.5,2393.6 L2196.2,2390.6 L2200.0,2387.8 L2203.9,2385.1 L2207.9,2382.6 L2212.1,2380.1 L2216.3,2377.8 L2220.6,2375.6 L2225.0,2373.5 L2229.4,2371.4 L2233.9,2369.5 L2238.5,2367.6 L2243.1,2365.8 L2247.7,2364.0 L2252.4,2362.3 L2257.1,2360.6 L2261.7,2359.0 L2266.4,2357.3 L2271.1,2355.7 L2275.7,2354.1 L2280.4,2352.5 L2285.0,2351.0 L2289.7,2349.4 L2294.3,2347.9 L2298.9,2346.3 L2303.6,2344.8 L2308.2,2343.3 L2312.8,2341.8 L2317.4,2340.3 L2322.0,2338.8 L2326.6,2337.4 L2331.2,2335.9 L2335.8,2334.4 L2340.3,2333.0 L2344.9,2331.6 L2349.5,2330.1 L2354.1,2328.7 L2358.7,2327.3 L2363.2,2325.8 L2367.8,2324.4 L2372.4,2323.0 L2376.9,2321.6 L2381.5,2320.2 L2386.1,2318.8 L2390.6,2317.4 L2395.2,2316.0 L2399.8,2314.5 L2404.4,2313.1 L2408.9,2311.7 L2413.5,2310.3 L2418.1,2308.9 L2422.7,2307.5 L2427.3,2306.1 L2431.9,2304.7 L2436.4,2303.2 L2441.0,2301.8 L2445.6,2300.4 L2450.3,2298.9 L2454.9,2297.5 L2459.5,2296.0 L2464.1,2294.6 L2468.7,2293.1 L2473.4,2291.6 L2478.0,2290.1 L2482.7,2288.6 L2487.3,2287.1 L2492.0,2285.6 L2496.7,2284.1 L2501.4,2282.5 L2506.1,2281.0 L2510.8,2279.4 L2515.5,2277.8 L2520.2,2276.3 L2525.0,2274.6 L2529.7,2273.0 L2534.5,2271.4 L2539.2,2269.9 L2544.0,2268.3 L2548.7,2266.9 L2553.5,2265.4 L2558.3,2264.1 L2563.0,2262.8 L2567.8,2261.7 L2572.5,2260.6 L2577.3,2259.7 L2582.0,2258.9 L2586.7,2258.3 L2591.4,2257.8 L2596.1,2257.5 L2600.8,2257.4 L2605.5,2257.5 L2610.1,2257.9 L2614.7,2258.4 L2619.3,2259.2 L2623.9,2260.2 L2628.4,2261.4 L2632.9,2262.9 L2637.4,2264.6 L2641.8,2266.6 L2646.1,2268.7 L2650.3,2271.0 L2654.5,2273.5 L2658.6,2276.2 L2662.6,2279.1 L2666.5,2282.1 L2670.2,2285.2 L2673.9,2288.6 L2677.4,2292.0 L2680.8,2295.6 L2684.1,2299.3 L2687.2,2303.1 L2690.2,2307.0 L2692.9,2311.0 L2695.6,2315.1 L2698.1,2319.3 L2700.5,2323.6 L2702.7,2327.9 L2704.8,2332.3 L2706.9,2336.8 L2708.8,2341.3 L2710.6,2345.8 L2712.4,2350.4 L2714.0,2355.0 L2715.6,2359.6 L2717.2,2364.3 L2718.7,2368.9 L2720.1,2373.6 L2721.6,2378.2 L2722.9,2382.8 L2724.3,2387.4 L2725.7,2392.0 L2726.9,2396.6 L2728.1,2401.2 L2729.2,2405.9 L2730.1,2410.5 L2730.8,2415.3 L2731.2,2420.1 L2731.4,2424.9 L2731.3,2429.9" fill="none" stroke="#9ab4e0" stroke-width="26" stroke-linecap="butt" opacity="0.35" filter="url(#glow)"/>
<path d="M2153.8,2485.1 L2154.0,2480.6 L2154.3,2475.9 L2154.7,2471.2 L2155.4,2466.4 L2156.2,2461.5 L2157.1,2456.6 L2158.3,2451.7 L2159.6,2446.8 L2161.1,2442.0 L2162.7,2437.2 L2164.5,2432.5 L2166.6,2427.9 L2168.7,2423.4 L2171.1,2419.0 L2173.7,2414.9 L2176.4,2410.9 L2179.3,2407.1 L2182.4,2403.4 L2185.6,2400.0 L2189.0,2396.7 L2192.5,2393.6 L2196.2,2390.6 L2200.0,2387.8 L2203.9,2385.1 L2207.9,2382.6 L2212.1,2380.1 L2216.3,2377.8 L2220.6,2375.6 L2225.0,2373.5 L2229.4,2371.4 L2233.9,2369.5 L2238.5,2367.6 L2243.1,2365.8 L2247.7,2364.0 L2252.4,2362.3 L2257.1,2360.6 L2261.7,2359.0 L2266.4,2357.3 L2271.1,2355.7 L2275.7,2354.1 L2280.4,2352.5 L2285.0,2351.0 L2289.7,2349.4 L2294.3,2347.9 L2298.9,2346.3 L2303.6,2344.8 L2308.2,2343.3 L2312.8,2341.8 L2317.4,2340.3 L2322.0,2338.8 L2326.6,2337.4 L2331.2,2335.9 L2335.8,2334.4 L2340.3,2333.0 L2344.9,2331.6 L2349.5,2330.1 L2354.1,2328.7 L2358.7,2327.3 L2363.2,2325.8 L2367.8,2324.4 L2372.4,2323.0 L2376.9,2321.6 L2381.5,2320.2 L2386.1,2318.8 L2390.6,2317.4 L2395.2,2316.0 L2399.8,2314.5 L2404.4,2313.1 L2408.9,2311.7 L2413.5,2310.3 L2418.1,2308.9 L2422.7,2307.5 L2427.3,2306.1 L2431.9,2304.7 L2436.4,2303.2 L2441.0,2301.8 L2445.6,2300.4 L2450.3,2298.9 L2454.9,2297.5 L2459.5,2296.0 L2464.1,2294.6 L2468.7,2293.1 L2473.4,2291.6 L2478.0,2290.1 L2482.7,2288.6 L2487.3,2287.1 L2492.0,2285.6 L2496.7,2284.1 L2501.4,2282.5 L2506.1,2281.0 L2510.8,2279.4 L2515.5,2277.8 L2520.2,2276.3 L2525.0,2274.6 L2529.7,2273.0 L2534.5,2271.4 L2539.2,2269.9 L2544.0,2268.3 L2548.7,2266.9 L2553.5,2265.4 L2558.3,2264.1 L2563.0,2262.8 L2567.8,2261.7 L2572.5,2260.6 L2577.3,2259.7 L2582.0,2258.9 L2586.7,2258.3 L2591.4,2257.8 L2596.1,2257.5 L2600.8,2257.4 L2605.5,2257.5 L2610.1,2257.9 L2614.7,2258.4 L2619.3,2259.2 L2623.9,2260.2 L2628.4,2261.4 L2632.9,2262.9 L2637.4,2264.6 L2641.8,2266.6 L2646.1,2268.7 L2650.3,2271.0 L2654.5,2273.5 L2658.6,2276.2 L2662.6,2279.1 L2666.5,2282.1 L2670.2,2285.2 L2673.9,2288.6 L2677.4,2292.0 L2680.8,2295.6 L2684.1,2299.3 L2687.2,2303.1 L2690.2,2307.0 L2692.9,2311.0 L2695.6,2315.1 L2698.1,2319.3 L2700.5,2323.6 L2702.7,2327.9 L2704.8,2332.3 L2706.9,2336.8 L2708.8,2341.3 L2710.6,2345.8 L2712.4,2350.4 L2714.0,2355.0 L2715.6,2359.6 L2717.2,2364.3 L2718.7,2368.9 L2720.1,2373.6 L2721.6,2378.2 L2722.9,2382.8 L2724.3,2387.4 L2725.7,2392.0 L2726.9,2396.6 L2728.1,2401.2 L2729.2,2405.9 L2730.1,2410.5 L2730.8,2415.3 L2731.2,2420.1 L2731.4,2424.9 L2731.3,2429.9" fill="none" stroke="#a9bddf" stroke-width="16" stroke-linecap="butt" filter="url(#soft)"/>
<path d="M2153.8,2485.1 L2154.0,2480.6 L2154.3,2475.9 L2154.7,2471.2 L2155.4,2466.4 L2156.2,2461.5 L2157.1,2456.6 L2158.3,2451.7 L2159.6,2446.8 L2161.1,2442.0 L2162.7,2437.2 L2164.5,2432.5 L2166.6,2427.9 L2168.7,2423.4 L2171.1,2419.0 L2173.7,2414.9 L2176.4,2410.9 L2179.3,2407.1 L2182.4,2403.4 L2185.6,2400.0 L2189.0,2396.7 L2192.5,2393.6 L2196.2,2390.6 L2200.0,2387.8 L2203.9,2385.1 L2207.9,2382.6 L2212.1,2380.1 L2216.3,2377.8 L2220.6,2375.6 L2225.0,2373.5 L2229.4,2371.4 L2233.9,2369.5 L2238.5,2367.6 L2243.1,2365.8 L2247.7,2364.0 L2252.4,2362.3 L2257.1,2360.6 L2261.7,2359.0 L2266.4,2357.3 L2271.1,2355.7 L2275.7,2354.1 L2280.4,2352.5 L2285.0,2351.0 L2289.7,2349.4 L2294.3,2347.9 L2298.9,2346.3 L2303.6,2344.8 L2308.2,2343.3 L2312.8,2341.8 L2317.4,2340.3 L2322.0,2338.8 L2326.6,2337.4 L2331.2,2335.9 L2335.8,2334.4 L2340.3,2333.0 L2344.9,2331.6 L2349.5,2330.1 L2354.1,2328.7 L2358.7,2327.3 L2363.2,2325.8 L2367.8,2324.4 L2372.4,2323.0 L2376.9,2321.6 L2381.5,2320.2 L2386.1,2318.8 L2390.6,2317.4 L2395.2,2316.0 L2399.8,2314.5 L2404.4,2313.1 L2408.9,2311.7 L2413.5,2310.3 L2418.1,2308.9 L2422.7,2307.5 L2427.3,2306.1 L2431.9,2304.7 L2436.4,2303.2 L2441.0,2301.8 L2445.6,2300.4 L2450.3,2298.9 L2454.9,2297.5 L2459.5,2296.0 L2464.1,2294.6 L2468.7,2293.1 L2473.4,2291.6 L2478.0,2290.1 L2482.7,2288.6 L2487.3,2287.1 L2492.0,2285.6 L2496.7,2284.1 L2501.4,2282.5 L2506.1,2281.0 L2510.8,2279.4 L2515.5,2277.8 L2520.2,2276.3 L2525.0,2274.6 L2529.7,2273.0 L2534.5,2271.4 L2539.2,2269.9 L2544.0,2268.3 L2548.7,2266.9 L2553.5,2265.4 L2558.3,2264.1 L2563.0,2262.8 L2567.8,2261.7 L2572.5,2260.6 L2577.3,2259.7 L2582.0,2258.9 L2586.7,2258.3 L2591.4,2257.8 L2596.1,2257.5 L2600.8,2257.4 L2605.5,2257.5 L2610.1,2257.9 L2614.7,2258.4 L2619.3,2259.2 L2623.9,2260.2 L2628.4,2261.4 L2632.9,2262.9 L2637.4,2264.6 L2641.8,2266.6 L2646.1,2268.7 L2650.3,2271.0 L2654.5,2273.5 L2658.6,2276.2 L2662.6,2279.1 L2666.5,2282.1 L2670.2,2285.2 L2673.9,2288.6 L2677.4,2292.0 L2680.8,2295.6 L2684.1,2299.3 L2687.2,2303.1 L2690.2,2307.0 L2692.9,2311.0 L2695.6,2315.1 L2698.1,2319.3 L2700.5,2323.6 L2702.7,2327.9 L2704.8,2332.3 L2706.9,2336.8 L2708.8,2341.3 L2710.6,2345.8 L2712.4,2350.4 L2714.0,2355.0 L2715.6,2359.6 L2717.2,2364.3 L2718.7,2368.9 L2720.1,2373.6 L2721.6,2378.2 L2722.9,2382.8 L2724.3,2387.4 L2725.7,2392.0 L2726.9,2396.6 L2728.1,2401.2 L2729.2,2405.9 L2730.1,2410.5 L2730.8,2415.3 L2731.2,2420.1 L2731.4,2424.9 L2731.3,2429.9" fill="none" stroke="#dfe8f6" stroke-width="9" stroke-linecap="butt" filter="url(#soft)"/>
<rect x="2716.9" y="2430" width="28" height="24" fill="#d9e0ea"/>
<rect x="2720.9" y="2454" width="20" height="27" fill="#cfd7e2"/>
<rect x="2704.9" y="2492.2" width="68" height="42.3" fill="#6d7888"/>
<rect x="2751.3" y="2478" width="46" height="74.8" fill="#b8c3d2" opacity="0.85"/>
<g>
<rect x="2841.3" y="1981.2" width="694.5" height="197.5" fill="url(#gs)"/>
<rect x="2841.3" y="1981.2" width="694.5" height="197.5" fill="url(#gsr)"/>
<rect x="3495.8" y="2096.3" width="40" height="73.4" fill="#a9b5c3" opacity="0.85"/>
<rect x="3444.8" y="2103.4" width="51" height="12.7" fill="#8a9a78" opacity="0.7"/>
<rect x="3465.8" y="2116" width="35" height="40" rx="10" fill="#2c3c5c" opacity="0.8"/>
<ellipse cx="2864.3" cy="2140" rx="15" ry="16" fill="#2a2a30" opacity="0.8"/>
<path d="M2884.8,2139.7 L2888.5,2138.6 L2892.2,2137.4 L2895.9,2136.3 L2899.6,2135.1 L2903.2,2133.9 L2906.9,2132.6 L2910.6,2131.4 L2914.3,2130.1 L2918.0,2128.7 L2921.6,2127.4 L2925.3,2126.0 L2929.0,2124.6 L2932.7,2123.2 L2936.3,2121.8 L2940.0,2120.3 L2943.7,2118.8 L2947.3,2117.4 L2951.0,2115.9 L2954.7,2114.4 L2958.4,2112.9 L2962.0,2111.3 L2965.7,2109.8 L2969.4,2108.3 L2973.0,2106.7 L2976.7,2105.2 L2980.4,2103.7 L2984.1,2102.1 L2987.7,2100.6 L2991.4,2099.1 L2995.1,2097.6 L2998.8,2096.0 L3002.5,2094.5 L3006.2,2093.0 L3009.9,2091.5 L3013.6,2090.1 L3017.3,2088.6 L3021.0,2087.2 L3024.7,2085.7 L3028.4,2084.3 L3032.1,2082.9 L3035.9,2081.6 L3039.6,2080.2 L3043.3,2078.9 L3047.1,2077.6 L3050.8,2076.3 L3054.6,2075.1 L3058.3,2073.9 L3062.1,2072.7 L3065.8,2071.6 L3069.6,2070.4 L3073.4,2069.4 L3077.2,2068.3 L3081.0,2067.3 L3084.8,2066.4 L3088.6,2065.5 L3092.4,2064.6 L3096.3,2063.8 L3100.1,2063.0 L3103.9,2062.2 L3107.8,2061.6 L3111.6,2060.9 L3115.5,2060.3 L3119.4,2059.8 L3123.3,2059.3 L3127.2,2058.8 L3131.1,2058.4 L3135.0,2058.1 L3138.9,2057.8 L3142.8,2057.5 L3146.7,2057.3 L3150.6,2057.1 L3154.5,2057.0 L3158.4,2056.9 L3162.3,2056.8 L3166.3,2056.8 L3170.2,2056.9 L3174.1,2057.0 L3178.0,2057.1 L3182.0,2057.3 L3185.9,2057.5 L3189.8,2057.7 L3193.7,2058.0 L3197.6,2058.3 L3201.6,2058.7 L3205.5,2059.1 L3209.4,2059.6 L3213.3,2060.1 L3217.2,2060.6 L3221.1,2061.2 L3225.0,2061.8 L3228.9,2062.4 L3232.7,2063.1 L3236.6,2063.8 L3240.5,2064.6 L3244.3,2065.3 L3248.2,2066.2 L3252.0,2067.0 L3255.9,2067.9 L3259.7,2068.8 L3263.5,2069.8 L3267.3,2070.8 L3271.1,2071.8 L3274.9,2072.8 L3278.7,2073.9 L3282.5,2074.9 L3286.3,2076.0 L3290.1,2077.1 L3293.9,2078.3 L3297.7,2079.4 L3301.4,2080.6 L3305.2,2081.7 L3309.0,2082.9 L3312.8,2084.1 L3316.5,2085.3 L3320.3,2086.5 L3324.1,2087.7 L3327.8,2088.9 L3331.6,2090.1 L3335.3,2091.3 L3339.1,2092.5 L3342.9,2093.7 L3346.6,2094.9 L3350.4,2096.1 L3354.2,2097.3 L3357.9,2098.5 L3361.7,2099.6 L3365.5,2100.8 L3369.3,2101.9 L3373.1,2103.0 L3376.8,2104.1 L3380.6,2105.2 L3384.4,2106.2 L3388.2,2107.3 L3392.0,2108.3 L3395.8,2109.3 L3399.6,2110.2 L3403.5,2111.1 L3407.3,2112.0 L3411.1,2112.9 L3415.0,2113.7 L3418.8,2114.5 L3422.7,2115.3 L3426.5,2116.0 L3430.4,2116.7 L3434.3,2117.3 L3438.2,2117.9 L3442.1,2118.4 L3446.0,2119.0 L3449.9,2119.5 L3453.8,2120.0 L3457.6,2120.6 L3461.5,2121.4 L3465.2,2122.2 L3469.0,2123.2 L3472.6,2124.4 L3476.2,2125.9 L3479.7,2127.5 L3483.1,2129.5 L3486.4,2131.8" fill="none" stroke="#8196bd" stroke-width="14" stroke-linecap="round" filter="url(#soft)"/>
<path d="M2884.8,2139.7 L2888.5,2138.6 L2892.2,2137.4 L2895.9,2136.3 L2899.6,2135.1 L2903.2,2133.9 L2906.9,2132.6 L2910.6,2131.4 L2914.3,2130.1 L2918.0,2128.7 L2921.6,2127.4 L2925.3,2126.0 L2929.0,2124.6 L2932.7,2123.2 L2936.3,2121.8 L2940.0,2120.3 L2943.7,2118.8 L2947.3,2117.4 L2951.0,2115.9 L2954.7,2114.4 L2958.4,2112.9 L2962.0,2111.3 L2965.7,2109.8 L2969.4,2108.3 L2973.0,2106.7 L2976.7,2105.2 L2980.4,2103.7 L2984.1,2102.1 L2987.7,2100.6 L2991.4,2099.1 L2995.1,2097.6 L2998.8,2096.0 L3002.5,2094.5 L3006.2,2093.0 L3009.9,2091.5 L3013.6,2090.1 L3017.3,2088.6 L3021.0,2087.2 L3024.7,2085.7 L3028.4,2084.3 L3032.1,2082.9 L3035.9,2081.6 L3039.6,2080.2 L3043.3,2078.9 L3047.1,2077.6 L3050.8,2076.3 L3054.6,2075.1 L3058.3,2073.9 L3062.1,2072.7 L3065.8,2071.6 L3069.6,2070.4 L3073.4,2069.4 L3077.2,2068.3 L3081.0,2067.3 L3084.8,2066.4 L3088.6,2065.5 L3092.4,2064.6 L3096.3,2063.8 L3100.1,2063.0 L3103.9,2062.2 L3107.8,2061.6 L3111.6,2060.9 L3115.5,2060.3 L3119.4,2059.8 L3123.3,2059.3 L3127.2,2058.8 L3131.1,2058.4 L3135.0,2058.1 L3138.9,2057.8 L3142.8,2057.5 L3146.7,2057.3 L3150.6,2057.1 L3154.5,2057.0 L3158.4,2056.9 L3162.3,2056.8 L3166.3,2056.8 L3170.2,2056.9 L3174.1,2057.0 L3178.0,2057.1 L3182.0,2057.3 L3185.9,2057.5 L3189.8,2057.7 L3193.7,2058.0 L3197.6,2058.3 L3201.6,2058.7 L3205.5,2059.1 L3209.4,2059.6 L3213.3,2060.1 L3217.2,2060.6 L3221.1,2061.2 L3225.0,2061.8 L3228.9,2062.4 L3232.7,2063.1 L3236.6,2063.8 L3240.5,2064.6 L3244.3,2065.3 L3248.2,2066.2 L3252.0,2067.0 L3255.9,2067.9 L3259.7,2068.8 L3263.5,2069.8 L3267.3,2070.8 L3271.1,2071.8 L3274.9,2072.8 L3278.7,2073.9 L3282.5,2074.9 L3286.3,2076.0 L3290.1,2077.1 L3293.9,2078.3 L3297.7,2079.4 L3301.4,2080.6 L3305.2,2081.7 L3309.0,2082.9 L3312.8,2084.1 L3316.5,2085.3 L3320.3,2086.5 L3324.1,2087.7 L3327.8,2088.9 L3331.6,2090.1 L3335.3,2091.3 L3339.1,2092.5 L3342.9,2093.7 L3346.6,2094.9 L3350.4,2096.1 L3354.2,2097.3 L3357.9,2098.5 L3361.7,2099.6 L3365.5,2100.8 L3369.3,2101.9 L3373.1,2103.0 L3376.8,2104.1 L3380.6,2105.2 L3384.4,2106.2 L3388.2,2107.3 L3392.0,2108.3 L3395.8,2109.3 L3399.6,2110.2 L3403.5,2111.1 L3407.3,2112.0 L3411.1,2112.9 L3415.0,2113.7 L3418.8,2114.5 L3422.7,2115.3 L3426.5,2116.0 L3430.4,2116.7 L3434.3,2117.3 L3438.2,2117.9 L3442.1,2118.4 L3446.0,2119.0 L3449.9,2119.5 L3453.8,2120.0 L3457.6,2120.6 L3461.5,2121.4 L3465.2,2122.2 L3469.0,2123.2 L3472.6,2124.4 L3476.2,2125.9 L3479.7,2127.5 L3483.1,2129.5 L3486.4,2131.8" fill="none" stroke="#a9bbd9" stroke-width="8" stroke-linecap="round" filter="url(#soft)"/>
</g>
<rect x="2841.3" y="2216.2" width="694.5" height="336.6" fill="url(#gt)"/>
<rect x="2841.3" y="2216.2" width="694.5" height="336.6" fill="url(#gtr)"/>
<rect x="2841.3" y="2216.2" width="25" height="256" fill="#2a3a52" opacity="0.8"/>
<rect x="2864.3" y="2303" width="34" height="13" fill="#7d93b5" opacity="0.8"/>
<rect x="2843.3" y="2482.3" width="82" height="53" fill="#0d1422" opacity="0.85"/>
<rect x="2843.3" y="2510.5" width="34" height="21" rx="4" fill="#d6dde6"/>
<path d="M2892.6,2482.9 L2892.8,2477.3 L2893.3,2471.8 L2894.1,2466.5 L2895.0,2461.3 L2896.2,2456.3 L2897.6,2451.5 L2899.2,2446.8 L2901.0,2442.2 L2902.9,2437.8 L2905.1,2433.5 L2907.4,2429.4 L2910.0,2425.4 L2912.6,2421.5 L2915.5,2417.7 L2918.5,2414.0 L2921.6,2410.5 L2924.9,2407.0 L2928.3,2403.7 L2931.8,2400.5 L2935.5,2397.3 L2939.3,2394.3 L2943.1,2391.4 L2947.1,2388.5 L2951.2,2385.7 L2955.3,2383.0 L2959.5,2380.4 L2963.8,2377.8 L2968.2,2375.3 L2972.6,2372.9 L2977.1,2370.5 L2981.6,2368.2 L2986.1,2365.9 L2990.7,2363.7 L2995.3,2361.5 L2999.9,2359.4 L3004.6,2357.3 L3009.2,2355.2 L3013.9,2353.2 L3018.5,2351.2 L3023.1,2349.2 L3027.7,2347.2 L3032.3,2345.2 L3036.9,2343.3 L3041.4,2341.4 L3046.0,2339.4 L3050.5,2337.5 L3055.1,2335.6 L3059.6,2333.7 L3064.1,2331.8 L3068.6,2329.9 L3073.1,2328.0 L3077.6,2326.1 L3082.1,2324.1 L3086.5,2322.2 L3091.0,2320.3 L3095.4,2318.3 L3099.9,2316.4 L3104.3,2314.4 L3108.8,2312.4 L3113.2,2310.3 L3117.7,2308.3 L3122.1,2306.2 L3126.5,2304.1 L3130.9,2302.0 L3135.4,2299.8 L3139.8,2297.6 L3144.2,2295.4 L3148.6,2293.2 L3153.1,2290.9 L3157.5,2288.5 L3161.9,2286.2 L3166.4,2283.8 L3170.8,2281.5 L3175.3,2279.1 L3179.7,2276.8 L3184.2,2274.4 L3188.7,2272.1 L3193.2,2269.8 L3197.7,2267.5 L3202.2,2265.3 L3206.7,2263.1 L3211.3,2260.9 L3215.8,2258.9 L3220.4,2256.8 L3225.0,2254.9 L3229.7,2253.0 L3234.3,2251.2 L3239.0,2249.4 L3243.7,2247.8 L3248.4,2246.3 L3253.2,2244.8 L3257.9,2243.5 L3262.7,2242.3 L3267.6,2241.2 L3272.4,2240.2 L3277.3,2239.4 L3282.2,2238.7 L3287.1,2238.1 L3292.0,2237.7 L3296.9,2237.3 L3301.8,2237.2 L3306.6,2237.1 L3311.5,2237.2 L3316.3,2237.5 L3321.2,2237.9 L3326.0,2238.5 L3330.7,2239.2 L3335.4,2240.1 L3340.1,2241.1 L3344.7,2242.3 L3349.3,2243.7 L3353.9,2245.2 L3358.3,2246.9 L3362.7,2248.8 L3367.1,2250.9 L3371.4,2253.1 L3375.6,2255.5 L3379.8,2258.0 L3383.9,2260.6 L3387.9,2263.4 L3391.9,2266.3 L3395.8,2269.4 L3399.6,2272.5 L3403.3,2275.8 L3407.0,2279.2 L3410.7,2282.7 L3414.2,2286.3 L3417.7,2290.0 L3421.1,2293.8 L3424.5,2297.6 L3427.7,2301.5 L3430.9,2305.5 L3434.0,2309.6 L3437.1,2313.7 L3440.0,2317.9 L3442.9,2322.1 L3445.7,2326.4 L3448.5,2330.7 L3451.1,2335.0 L3453.7,2339.4 L3456.2,2343.8 L3458.6,2348.2 L3460.9,2352.7 L3463.1,2357.2 L3465.2,2361.7 L3467.2,2366.3 L3469.1,2370.9 L3470.9,2375.5 L3472.6,2380.1 L3474.3,2384.7 L3475.8,2389.3 L3477.1,2394.0 L3478.4,2398.6 L3479.6,2403.3 L3480.6,2408.0 L3481.6,2412.7 L3482.4,2417.3 L3483.1,2422.0 L3483.6,2426.7" fill="none" stroke="#9ab4e0" stroke-width="26" stroke-linecap="butt" opacity="0.35" filter="url(#glow)"/>
<path d="M2892.6,2482.9 L2892.8,2477.3 L2893.3,2471.8 L2894.1,2466.5 L2895.0,2461.3 L2896.2,2456.3 L2897.6,2451.5 L2899.2,2446.8 L2901.0,2442.2 L2902.9,2437.8 L2905.1,2433.5 L2907.4,2429.4 L2910.0,2425.4 L2912.6,2421.5 L2915.5,2417.7 L2918.5,2414.0 L2921.6,2410.5 L2924.9,2407.0 L2928.3,2403.7 L2931.8,2400.5 L2935.5,2397.3 L2939.3,2394.3 L2943.1,2391.4 L2947.1,2388.5 L2951.2,2385.7 L2955.3,2383.0 L2959.5,2380.4 L2963.8,2377.8 L2968.2,2375.3 L2972.6,2372.9 L2977.1,2370.5 L2981.6,2368.2 L2986.1,2365.9 L2990.7,2363.7 L2995.3,2361.5 L2999.9,2359.4 L3004.6,2357.3 L3009.2,2355.2 L3013.9,2353.2 L3018.5,2351.2 L3023.1,2349.2 L3027.7,2347.2 L3032.3,2345.2 L3036.9,2343.3 L3041.4,2341.4 L3046.0,2339.4 L3050.5,2337.5 L3055.1,2335.6 L3059.6,2333.7 L3064.1,2331.8 L3068.6,2329.9 L3073.1,2328.0 L3077.6,2326.1 L3082.1,2324.1 L3086.5,2322.2 L3091.0,2320.3 L3095.4,2318.3 L3099.9,2316.4 L3104.3,2314.4 L3108.8,2312.4 L3113.2,2310.3 L3117.7,2308.3 L3122.1,2306.2 L3126.5,2304.1 L3130.9,2302.0 L3135.4,2299.8 L3139.8,2297.6 L3144.2,2295.4 L3148.6,2293.2 L3153.1,2290.9 L3157.5,2288.5 L3161.9,2286.2 L3166.4,2283.8 L3170.8,2281.5 L3175.3,2279.1 L3179.7,2276.8 L3184.2,2274.4 L3188.7,2272.1 L3193.2,2269.8 L3197.7,2267.5 L3202.2,2265.3 L3206.7,2263.1 L3211.3,2260.9 L3215.8,2258.9 L3220.4,2256.8 L3225.0,2254.9 L3229.7,2253.0 L3234.3,2251.2 L3239.0,2249.4 L3243.7,2247.8 L3248.4,2246.3 L3253.2,2244.8 L3257.9,2243.5 L3262.7,2242.3 L3267.6,2241.2 L3272.4,2240.2 L3277.3,2239.4 L3282.2,2238.7 L3287.1,2238.1 L3292.0,2237.7 L3296.9,2237.3 L3301.8,2237.2 L3306.6,2237.1 L3311.5,2237.2 L3316.3,2237.5 L3321.2,2237.9 L3326.0,2238.5 L3330.7,2239.2 L3335.4,2240.1 L3340.1,2241.1 L3344.7,2242.3 L3349.3,2243.7 L3353.9,2245.2 L3358.3,2246.9 L3362.7,2248.8 L3367.1,2250.9 L3371.4,2253.1 L3375.6,2255.5 L3379.8,2258.0 L3383.9,2260.6 L3387.9,2263.4 L3391.9,2266.3 L3395.8,2269.4 L3399.6,2272.5 L3403.3,2275.8 L3407.0,2279.2 L3410.7,2282.7 L3414.2,2286.3 L3417.7,2290.0 L3421.1,2293.8 L3424.5,2297.6 L3427.7,2301.5 L3430.9,2305.5 L3434.0,2309.6 L3437.1,2313.7 L3440.0,2317.9 L3442.9,2322.1 L3445.7,2326.4 L3448.5,2330.7 L3451.1,2335.0 L3453.7,2339.4 L3456.2,2343.8 L3458.6,2348.2 L3460.9,2352.7 L3463.1,2357.2 L3465.2,2361.7 L3467.2,2366.3 L3469.1,2370.9 L3470.9,2375.5 L3472.6,2380.1 L3474.3,2384.7 L3475.8,2389.3 L3477.1,2394.0 L3478.4,2398.6 L3479.6,2403.3 L3480.6,2408.0 L3481.6,2412.7 L3482.4,2417.3 L3483.1,2422.0 L3483.6,2426.7" fill="none" stroke="#a9bddf" stroke-width="16" stroke-linecap="butt" filter="url(#soft)"/>
<path d="M2892.6,2482.9 L2892.8,2477.3 L2893.3,2471.8 L2894.1,2466.5 L2895.0,2461.3 L2896.2,2456.3 L2897.6,2451.5 L2899.2,2446.8 L2901.0,2442.2 L2902.9,2437.8 L2905.1,2433.5 L2907.4,2429.4 L2910.0,2425.4 L2912.6,2421.5 L2915.5,2417.7 L2918.5,2414.0 L2921.6,2410.5 L2924.9,2407.0 L2928.3,2403.7 L2931.8,2400.5 L2935.5,2397.3 L2939.3,2394.3 L2943.1,2391.4 L2947.1,2388.5 L2951.2,2385.7 L2955.3,2383.0 L2959.5,2380.4 L2963.8,2377.8 L2968.2,2375.3 L2972.6,2372.9 L2977.1,2370.5 L2981.6,2368.2 L2986.1,2365.9 L2990.7,2363.7 L2995.3,2361.5 L2999.9,2359.4 L3004.6,2357.3 L3009.2,2355.2 L3013.9,2353.2 L3018.5,2351.2 L3023.1,2349.2 L3027.7,2347.2 L3032.3,2345.2 L3036.9,2343.3 L3041.4,2341.4 L3046.0,2339.4 L3050.5,2337.5 L3055.1,2335.6 L3059.6,2333.7 L3064.1,2331.8 L3068.6,2329.9 L3073.1,2328.0 L3077.6,2326.1 L3082.1,2324.1 L3086.5,2322.2 L3091.0,2320.3 L3095.4,2318.3 L3099.9,2316.4 L3104.3,2314.4 L3108.8,2312.4 L3113.2,2310.3 L3117.7,2308.3 L3122.1,2306.2 L3126.5,2304.1 L3130.9,2302.0 L3135.4,2299.8 L3139.8,2297.6 L3144.2,2295.4 L3148.6,2293.2 L3153.1,2290.9 L3157.5,2288.5 L3161.9,2286.2 L3166.4,2283.8 L3170.8,2281.5 L3175.3,2279.1 L3179.7,2276.8 L3184.2,2274.4 L3188.7,2272.1 L3193.2,2269.8 L3197.7,2267.5 L3202.2,2265.3 L3206.7,2263.1 L3211.3,2260.9 L3215.8,2258.9 L3220.4,2256.8 L3225.0,2254.9 L3229.7,2253.0 L3234.3,2251.2 L3239.0,2249.4 L3243.7,2247.8 L3248.4,2246.3 L3253.2,2244.8 L3257.9,2243.5 L3262.7,2242.3 L3267.6,2241.2 L3272.4,2240.2 L3277.3,2239.4 L3282.2,2238.7 L3287.1,2238.1 L3292.0,2237.7 L3296.9,2237.3 L3301.8,2237.2 L3306.6,2237.1 L3311.5,2237.2 L3316.3,2237.5 L3321.2,2237.9 L3326.0,2238.5 L3330.7,2239.2 L3335.4,2240.1 L3340.1,2241.1 L3344.7,2242.3 L3349.3,2243.7 L3353.9,2245.2 L3358.3,2246.9 L3362.7,2248.8 L3367.1,2250.9 L3371.4,2253.1 L3375.6,2255.5 L3379.8,2258.0 L3383.9,2260.6 L3387.9,2263.4 L3391.9,2266.3 L3395.8,2269.4 L3399.6,2272.5 L3403.3,2275.8 L3407.0,2279.2 L3410.7,2282.7 L3414.2,2286.3 L3417.7,2290.0 L3421.1,2293.8 L3424.5,2297.6 L3427.7,2301.5 L3430.9,2305.5 L3434.0,2309.6 L3437.1,2313.7 L3440.0,2317.9 L3442.9,2322.1 L3445.7,2326.4 L3448.5,2330.7 L3451.1,2335.0 L3453.7,2339.4 L3456.2,2343.8 L3458.6,2348.2 L3460.9,2352.7 L3463.1,2357.2 L3465.2,2361.7 L3467.2,2366.3 L3469.1,2370.9 L3470.9,2375.5 L3472.6,2380.1 L3474.3,2384.7 L3475.8,2389.3 L3477.1,2394.0 L3478.4,2398.6 L3479.6,2403.3 L3480.6,2408.0 L3481.6,2412.7 L3482.4,2417.3 L3483.1,2422.0 L3483.6,2426.7" fill="none" stroke="#dfe8f6" stroke-width="9" stroke-linecap="butt" filter="url(#soft)"/>
<rect x="3469.1" y="2430" width="28" height="24" fill="#d9e0ea"/>
<rect x="3473.1" y="2454" width="20" height="27" fill="#cfd7e2"/>
<rect x="3457.1" y="2492.2" width="68" height="42.3" fill="#6d7888"/>
<rect x="3489.8" y="2478" width="46" height="74.8" fill="#b8c3d2" opacity="0.85"/>
<g>
<rect x="3579.3" y="1981.2" width="694.5" height="197.5" fill="url(#gs)"/>
<rect x="3579.3" y="1981.2" width="694.5" height="197.5" fill="url(#gsr)"/>
<rect x="4233.8" y="2096.3" width="40" height="73.4" fill="#a9b5c3" opacity="0.85"/>
<rect x="4182.8" y="2103.4" width="51" height="12.7" fill="#8a9a78" opacity="0.7"/>
<rect x="4203.8" y="2116" width="35" height="40" rx="10" fill="#2c3c5c" opacity="0.8"/>
<ellipse cx="3602.3" cy="2140" rx="15" ry="16" fill="#2a2a30" opacity="0.8"/>
<path d="M3614.3,2144.0 L3618.1,2143.1 L3622.0,2142.2 L3625.8,2141.3 L3629.7,2140.5 L3633.5,2139.8 L3637.4,2139.1 L3641.3,2138.5 L3645.1,2138.0 L3649.0,2137.4 L3652.9,2137.0 L3656.8,2136.6 L3660.7,2136.2 L3664.6,2135.8 L3668.5,2135.6 L3672.4,2135.3 L3676.3,2135.1 L3680.2,2134.9 L3684.1,2134.8 L3688.0,2134.7 L3691.9,2134.6 L3695.9,2134.5 L3699.8,2134.5 L3703.7,2134.5 L3707.6,2134.6 L3711.6,2134.6 L3715.5,2134.7 L3719.4,2134.8 L3723.3,2135.0 L3727.3,2135.1 L3731.2,2135.3 L3735.1,2135.5 L3739.1,2135.7 L3743.0,2135.9 L3746.9,2136.1 L3750.9,2136.3 L3754.8,2136.5 L3758.7,2136.8 L3762.7,2137.0 L3766.6,2137.3 L3770.5,2137.5 L3774.5,2137.8 L3778.4,2138.0 L3782.3,2138.3 L3786.2,2138.5 L3790.2,2138.8 L3794.1,2139.0 L3798.0,2139.2 L3801.9,2139.4 L3805.9,2139.6 L3809.8,2139.8 L3813.7,2140.0 L3817.6,2140.2 L3821.5,2140.3 L3825.4,2140.4 L3829.3,2140.5 L3833.2,2140.6 L3837.1,2140.6 L3841.0,2140.7 L3844.9,2140.6 L3848.8,2140.6 L3852.7,2140.6 L3856.5,2140.5 L3860.4,2140.3 L3864.3,2140.2 L3868.1,2140.0 L3872.0,2139.8 L3875.9,2139.5 L3879.7,2139.2 L3883.6,2138.9 L3887.4,2138.6 L3891.3,2138.2 L3895.1,2137.8 L3899.0,2137.4 L3902.8,2136.9 L3906.7,2136.5 L3910.5,2136.0 L3914.3,2135.4 L3918.2,2134.9 L3922.0,2134.3 L3925.9,2133.7 L3929.7,2133.1 L3933.5,2132.5 L3937.4,2131.8 L3941.2,2131.1 L3945.1,2130.4 L3948.9,2129.7 L3952.7,2129.0 L3956.6,2128.2 L3960.4,2127.4 L3964.3,2126.6 L3968.1,2125.8 L3972.0,2125.0 L3975.8,2124.1 L3979.7,2123.3 L3983.6,2122.4 L3987.4,2121.5 L3991.3,2120.6 L3995.2,2119.7 L3999.0,2118.8 L4002.9,2117.8 L4006.8,2116.9 L4010.7,2115.9 L4014.6,2114.9 L4018.5,2113.9 L4022.4,2112.9 L4026.3,2111.9 L4030.2,2111.0 L4034.1,2110.0 L4038.0,2109.0 L4041.9,2108.0 L4045.8,2107.1 L4049.8,2106.1 L4053.7,2105.2 L4057.6,2104.3 L4061.5,2103.4 L4065.4,2102.6 L4069.3,2101.8 L4073.2,2101.0 L4077.1,2100.3 L4081.0,2099.5 L4084.8,2098.9 L4088.7,2098.3 L4092.6,2097.7 L4096.4,2097.1 L4100.3,2096.7 L4104.1,2096.3 L4108.0,2095.9 L4111.8,2095.6 L4115.6,2095.4 L4119.4,2095.2 L4123.2,2095.1 L4127.0,2095.1 L4130.8,2095.1 L4134.5,2095.2 L4138.3,2095.5 L4142.0,2095.7 L4145.7,2096.1 L4149.4,2096.6 L4153.1,2097.2 L4156.8,2097.8 L4160.5,2098.6 L4164.1,2099.4 L4167.7,2100.4 L4171.3,2101.5 L4174.9,2102.6 L4178.5,2103.9 L4182.0,2105.3 L4185.5,2106.9 L4189.0,2108.5 L4192.5,2110.3 L4196.0,2112.2 L4199.4,2114.2 L4202.8,2116.4 L4206.2,2118.7 L4209.6,2121.1 L4212.9,2123.7 L4216.2,2126.4 L4219.5,2129.2 L4222.8,2132.3" fill="none" stroke="#8196bd" stroke-width="14" stroke-linecap="round" filter="url(#soft)"/>
<path d="M3614.3,2144.0 L3618.1,2143.1 L3622.0,2142.2 L3625.8,2141.3 L3629.7,2140.5 L3633.5,2139.8 L3637.4,2139.1 L3641.3,2138.5 L3645.1,2138.0 L3649.0,2137.4 L3652.9,2137.0 L3656.8,2136.6 L3660.7,2136.2 L3664.6,2135.8 L3668.5,2135.6 L3672.4,2135.3 L3676.3,2135.1 L3680.2,2134.9 L3684.1,2134.8 L3688.0,2134.7 L3691.9,2134.6 L3695.9,2134.5 L3699.8,2134.5 L3703.7,2134.5 L3707.6,2134.6 L3711.6,2134.6 L3715.5,2134.7 L3719.4,2134.8 L3723.3,2135.0 L3727.3,2135.1 L3731.2,2135.3 L3735.1,2135.5 L3739.1,2135.7 L3743.0,2135.9 L3746.9,2136.1 L3750.9,2136.3 L3754.8,2136.5 L3758.7,2136.8 L3762.7,2137.0 L3766.6,2137.3 L3770.5,2137.5 L3774.5,2137.8 L3778.4,2138.0 L3782.3,2138.3 L3786.2,2138.5 L3790.2,2138.8 L3794.1,2139.0 L3798.0,2139.2 L3801.9,2139.4 L3805.9,2139.6 L3809.8,2139.8 L3813.7,2140.0 L3817.6,2140.2 L3821.5,2140.3 L3825.4,2140.4 L3829.3,2140.5 L3833.2,2140.6 L3837.1,2140.6 L3841.0,2140.7 L3844.9,2140.6 L3848.8,2140.6 L3852.7,2140.6 L3856.5,2140.5 L3860.4,2140.3 L3864.3,2140.2 L3868.1,2140.0 L3872.0,2139.8 L3875.9,2139.5 L3879.7,2139.2 L3883.6,2138.9 L3887.4,2138.6 L3891.3,2138.2 L3895.1,2137.8 L3899.0,2137.4 L3902.8,2136.9 L3906.7,2136.5 L3910.5,2136.0 L3914.3,2135.4 L3918.2,2134.9 L3922.0,2134.3 L3925.9,2133.7 L3929.7,2133.1 L3933.5,2132.5 L3937.4,2131.8 L3941.2,2131.1 L3945.1,2130.4 L3948.9,2129.7 L3952.7,2129.0 L3956.6,2128.2 L3960.4,2127.4 L3964.3,2126.6 L3968.1,2125.8 L3972.0,2125.0 L3975.8,2124.1 L3979.7,2123.3 L3983.6,2122.4 L3987.4,2121.5 L3991.3,2120.6 L3995.2,2119.7 L3999.0,2118.8 L4002.9,2117.8 L4006.8,2116.9 L4010.7,2115.9 L4014.6,2114.9 L4018.5,2113.9 L4022.4,2112.9 L4026.3,2111.9 L4030.2,2111.0 L4034.1,2110.0 L4038.0,2109.0 L4041.9,2108.0 L4045.8,2107.1 L4049.8,2106.1 L4053.7,2105.2 L4057.6,2104.3 L4061.5,2103.4 L4065.4,2102.6 L4069.3,2101.8 L4073.2,2101.0 L4077.1,2100.3 L4081.0,2099.5 L4084.8,2098.9 L4088.7,2098.3 L4092.6,2097.7 L4096.4,2097.1 L4100.3,2096.7 L4104.1,2096.3 L4108.0,2095.9 L4111.8,2095.6 L4115.6,2095.4 L4119.4,2095.2 L4123.2,2095.1 L4127.0,2095.1 L4130.8,2095.1 L4134.5,2095.2 L4138.3,2095.5 L4142.0,2095.7 L4145.7,2096.1 L4149.4,2096.6 L4153.1,2097.2 L4156.8,2097.8 L4160.5,2098.6 L4164.1,2099.4 L4167.7,2100.4 L4171.3,2101.5 L4174.9,2102.6 L4178.5,2103.9 L4182.0,2105.3 L4185.5,2106.9 L4189.0,2108.5 L4192.5,2110.3 L4196.0,2112.2 L4199.4,2114.2 L4202.8,2116.4 L4206.2,2118.7 L4209.6,2121.1 L4212.9,2123.7 L4216.2,2126.4 L4219.5,2129.2 L4222.8,2132.3" fill="none" stroke="#a9bbd9" stroke-width="8" stroke-linecap="round" filter="url(#soft)"/>
</g>
<rect x="3579.3" y="2216.2" width="694.5" height="336.6" fill="url(#gt)"/>
<rect x="3579.3" y="2216.2" width="694.5" height="336.6" fill="url(#gtr)"/>
<rect x="3579.3" y="2216.2" width="25" height="256" fill="#2a3a52" opacity="0.8"/>
<rect x="3602.3" y="2303" width="34" height="13" fill="#7d93b5" opacity="0.8"/>
<rect x="3581.3" y="2482.3" width="82" height="53" fill="#0d1422" opacity="0.85"/>
<rect x="3581.3" y="2510.5" width="34" height="21" rx="4" fill="#d6dde6"/>
<path d="M3626.7,2483.1 L3627.5,2478.2 L3628.3,2473.2 L3629.3,2468.3 L3630.4,2463.5 L3631.5,2458.6 L3632.8,2453.8 L3634.2,2449.1 L3635.6,2444.3 L3637.2,2439.7 L3638.8,2435.0 L3640.6,2430.4 L3642.4,2425.8 L3644.3,2421.3 L3646.3,2416.8 L3648.4,2412.3 L3650.6,2407.9 L3652.9,2403.5 L3655.3,2399.2 L3657.7,2394.9 L3660.2,2390.7 L3662.8,2386.4 L3665.5,2382.3 L3668.3,2378.2 L3671.1,2374.1 L3674.0,2370.1 L3677.0,2366.1 L3680.0,2362.2 L3683.2,2358.3 L3686.4,2354.5 L3689.6,2350.7 L3692.9,2347.0 L3696.3,2343.3 L3699.8,2339.7 L3703.3,2336.1 L3706.9,2332.6 L3710.5,2329.2 L3714.2,2325.8 L3718.0,2322.4 L3721.8,2319.1 L3725.7,2315.9 L3729.6,2312.7 L3733.6,2309.6 L3737.6,2306.5 L3741.7,2303.5 L3745.8,2300.6 L3750.0,2297.7 L3754.2,2294.9 L3758.4,2292.2 L3762.7,2289.5 L3767.1,2286.8 L3771.5,2284.3 L3775.9,2281.8 L3780.3,2279.3 L3784.8,2277.0 L3789.4,2274.7 L3793.9,2272.5 L3798.5,2270.3 L3803.1,2268.2 L3807.8,2266.2 L3812.5,2264.2 L3817.2,2262.3 L3821.9,2260.5 L3826.7,2258.8 L3831.5,2257.1 L3836.3,2255.5 L3841.1,2254.0 L3845.9,2252.6 L3850.8,2251.2 L3855.7,2249.9 L3860.6,2248.7 L3865.5,2247.6 L3870.4,2246.5 L3875.3,2245.6 L3880.2,2244.7 L3885.2,2243.8 L3890.1,2243.1 L3895.1,2242.5 L3900.1,2241.9 L3905.0,2241.4 L3910.0,2241.0 L3915.0,2240.7 L3919.9,2240.4 L3924.9,2240.3 L3929.8,2240.2 L3934.8,2240.3 L3939.7,2240.4 L3944.7,2240.6 L3949.6,2240.9 L3954.5,2241.3 L3959.4,2241.7 L3964.3,2242.3 L3969.2,2242.9 L3974.1,2243.7 L3978.9,2244.5 L3983.8,2245.4 L3988.6,2246.4 L3993.4,2247.5 L3998.2,2248.7 L4003.0,2249.9 L4007.8,2251.2 L4012.5,2252.5 L4017.3,2254.0 L4022.1,2255.4 L4026.8,2257.0 L4031.6,2258.5 L4036.3,2260.2 L4041.0,2261.9 L4045.7,2263.6 L4050.5,2265.3 L4055.2,2267.1 L4059.9,2268.9 L4064.6,2270.8 L4069.3,2272.7 L4074.0,2274.6 L4078.8,2276.5 L4083.5,2278.4 L4088.2,2280.4 L4092.9,2282.4 L4097.6,2284.4 L4102.3,2286.4 L4106.9,2288.5 L4111.5,2290.6 L4116.1,2292.8 L4120.7,2295.0 L4125.2,2297.3 L4129.6,2299.6 L4134.0,2302.0 L4138.4,2304.5 L4142.6,2307.1 L4146.8,2309.8 L4151.0,2312.5 L4155.0,2315.3 L4159.0,2318.3 L4162.8,2321.3 L4166.6,2324.5 L4170.3,2327.8 L4173.8,2331.1 L4177.3,2334.7 L4180.6,2338.3 L4183.8,2342.0 L4186.9,2345.9 L4189.8,2349.8 L4192.6,2353.9 L4195.3,2358.1 L4197.8,2362.3 L4200.2,2366.7 L4202.4,2371.2 L4204.5,2375.7 L4206.4,2380.3 L4208.1,2385.0 L4209.7,2389.8 L4211.0,2394.7 L4212.2,2399.6 L4213.2,2404.6 L4214.1,2409.7 L4214.7,2414.8 L4215.1,2420.0 L4215.3,2425.3 L4215.4,2430.6" fill="none" stroke="#9ab4e0" stroke-width="26" stroke-linecap="butt" opacity="0.35" filter="url(#glow)"/>
<path d="M3626.7,2483.1 L3627.5,2478.2 L3628.3,2473.2 L3629.3,2468.3 L3630.4,2463.5 L3631.5,2458.6 L3632.8,2453.8 L3634.2,2449.1 L3635.6,2444.3 L3637.2,2439.7 L3638.8,2435.0 L3640.6,2430.4 L3642.4,2425.8 L3644.3,2421.3 L3646.3,2416.8 L3648.4,2412.3 L3650.6,2407.9 L3652.9,2403.5 L3655.3,2399.2 L3657.7,2394.9 L3660.2,2390.7 L3662.8,2386.4 L3665.5,2382.3 L3668.3,2378.2 L3671.1,2374.1 L3674.0,2370.1 L3677.0,2366.1 L3680.0,2362.2 L3683.2,2358.3 L3686.4,2354.5 L3689.6,2350.7 L3692.9,2347.0 L3696.3,2343.3 L3699.8,2339.7 L3703.3,2336.1 L3706.9,2332.6 L3710.5,2329.2 L3714.2,2325.8 L3718.0,2322.4 L3721.8,2319.1 L3725.7,2315.9 L3729.6,2312.7 L3733.6,2309.6 L3737.6,2306.5 L3741.7,2303.5 L3745.8,2300.6 L3750.0,2297.7 L3754.2,2294.9 L3758.4,2292.2 L3762.7,2289.5 L3767.1,2286.8 L3771.5,2284.3 L3775.9,2281.8 L3780.3,2279.3 L3784.8,2277.0 L3789.4,2274.7 L3793.9,2272.5 L3798.5,2270.3 L3803.1,2268.2 L3807.8,2266.2 L3812.5,2264.2 L3817.2,2262.3 L3821.9,2260.5 L3826.7,2258.8 L3831.5,2257.1 L3836.3,2255.5 L3841.1,2254.0 L3845.9,2252.6 L3850.8,2251.2 L3855.7,2249.9 L3860.6,2248.7 L3865.5,2247.6 L3870.4,2246.5 L3875.3,2245.6 L3880.2,2244.7 L3885.2,2243.8 L3890.1,2243.1 L3895.1,2242.5 L3900.1,2241.9 L3905.0,2241.4 L3910.0,2241.0 L3915.0,2240.7 L3919.9,2240.4 L3924.9,2240.3 L3929.8,2240.2 L3934.8,2240.3 L3939.7,2240.4 L3944.7,2240.6 L3949.6,2240.9 L3954.5,2241.3 L3959.4,2241.7 L3964.3,2242.3 L3969.2,2242.9 L3974.1,2243.7 L3978.9,2244.5 L3983.8,2245.4 L3988.6,2246.4 L3993.4,2247.5 L3998.2,2248.7 L4003.0,2249.9 L4007.8,2251.2 L4012.5,2252.5 L4017.3,2254.0 L4022.1,2255.4 L4026.8,2257.0 L4031.6,2258.5 L4036.3,2260.2 L4041.0,2261.9 L4045.7,2263.6 L4050.5,2265.3 L4055.2,2267.1 L4059.9,2268.9 L4064.6,2270.8 L4069.3,2272.7 L4074.0,2274.6 L4078.8,2276.5 L4083.5,2278.4 L4088.2,2280.4 L4092.9,2282.4 L4097.6,2284.4 L4102.3,2286.4 L4106.9,2288.5 L4111.5,2290.6 L4116.1,2292.8 L4120.7,2295.0 L4125.2,2297.3 L4129.6,2299.6 L4134.0,2302.0 L4138.4,2304.5 L4142.6,2307.1 L4146.8,2309.8 L4151.0,2312.5 L4155.0,2315.3 L4159.0,2318.3 L4162.8,2321.3 L4166.6,2324.5 L4170.3,2327.8 L4173.8,2331.1 L4177.3,2334.7 L4180.6,2338.3 L4183.8,2342.0 L4186.9,2345.9 L4189.8,2349.8 L4192.6,2353.9 L4195.3,2358.1 L4197.8,2362.3 L4200.2,2366.7 L4202.4,2371.2 L4204.5,2375.7 L4206.4,2380.3 L4208.1,2385.0 L4209.7,2389.8 L4211.0,2394.7 L4212.2,2399.6 L4213.2,2404.6 L4214.1,2409.7 L4214.7,2414.8 L4215.1,2420.0 L4215.3,2425.3 L4215.4,2430.6" fill="none" stroke="#a9bddf" stroke-width="16" stroke-linecap="butt" filter="url(#soft)"/>
<path d="M3626.7,2483.1 L3627.5,2478.2 L3628.3,2473.2 L3629.3,2468.3 L3630.4,2463.5 L3631.5,2458.6 L3632.8,2453.8 L3634.2,2449.1 L3635.6,2444.3 L3637.2,2439.7 L3638.8,2435.0 L3640.6,2430.4 L3642.4,2425.8 L3644.3,2421.3 L3646.3,2416.8 L3648.4,2412.3 L3650.6,2407.9 L3652.9,2403.5 L3655.3,2399.2 L3657.7,2394.9 L3660.2,2390.7 L3662.8,2386.4 L3665.5,2382.3 L3668.3,2378.2 L3671.1,2374.1 L3674.0,2370.1 L3677.0,2366.1 L3680.0,2362.2 L3683.2,2358.3 L3686.4,2354.5 L3689.6,2350.7 L3692.9,2347.0 L3696.3,2343.3 L3699.8,2339.7 L3703.3,2336.1 L3706.9,2332.6 L3710.5,2329.2 L3714.2,2325.8 L3718.0,2322.4 L3721.8,2319.1 L3725.7,2315.9 L3729.6,2312.7 L3733.6,2309.6 L3737.6,2306.5 L3741.7,2303.5 L3745.8,2300.6 L3750.0,2297.7 L3754.2,2294.9 L3758.4,2292.2 L3762.7,2289.5 L3767.1,2286.8 L3771.5,2284.3 L3775.9,2281.8 L3780.3,2279.3 L3784.8,2277.0 L3789.4,2274.7 L3793.9,2272.5 L3798.5,2270.3 L3803.1,2268.2 L3807.8,2266.2 L3812.5,2264.2 L3817.2,2262.3 L3821.9,2260.5 L3826.7,2258.8 L3831.5,2257.1 L3836.3,2255.5 L3841.1,2254.0 L3845.9,2252.6 L3850.8,2251.2 L3855.7,2249.9 L3860.6,2248.7 L3865.5,2247.6 L3870.4,2246.5 L3875.3,2245.6 L3880.2,2244.7 L3885.2,2243.8 L3890.1,2243.1 L3895.1,2242.5 L3900.1,2241.9 L3905.0,2241.4 L3910.0,2241.0 L3915.0,2240.7 L3919.9,2240.4 L3924.9,2240.3 L3929.8,2240.2 L3934.8,2240.3 L3939.7,2240.4 L3944.7,2240.6 L3949.6,2240.9 L3954.5,2241.3 L3959.4,2241.7 L3964.3,2242.3 L3969.2,2242.9 L3974.1,2243.7 L3978.9,2244.5 L3983.8,2245.4 L3988.6,2246.4 L3993.4,2247.5 L3998.2,2248.7 L4003.0,2249.9 L4007.8,2251.2 L4012.5,2252.5 L4017.3,2254.0 L4022.1,2255.4 L4026.8,2257.0 L4031.6,2258.5 L4036.3,2260.2 L4041.0,2261.9 L4045.7,2263.6 L4050.5,2265.3 L4055.2,2267.1 L4059.9,2268.9 L4064.6,2270.8 L4069.3,2272.7 L4074.0,2274.6 L4078.8,2276.5 L4083.5,2278.4 L4088.2,2280.4 L4092.9,2282.4 L4097.6,2284.4 L4102.3,2286.4 L4106.9,2288.5 L4111.5,2290.6 L4116.1,2292.8 L4120.7,2295.0 L4125.2,2297.3 L4129.6,2299.6 L4134.0,2302.0 L4138.4,2304.5 L4142.6,2307.1 L4146.8,2309.8 L4151.0,2312.5 L4155.0,2315.3 L4159.0,2318.3 L4162.8,2321.3 L4166.6,2324.5 L4170.3,2327.8 L4173.8,2331.1 L4177.3,2334.7 L4180.6,2338.3 L4183.8,2342.0 L4186.9,2345.9 L4189.8,2349.8 L4192.6,2353.9 L4195.3,2358.1 L4197.8,2362.3 L4200.2,2366.7 L4202.4,2371.2 L4204.5,2375.7 L4206.4,2380.3 L4208.1,2385.0 L4209.7,2389.8 L4211.0,2394.7 L4212.2,2399.6 L4213.2,2404.6 L4214.1,2409.7 L4214.7,2414.8 L4215.1,2420.0 L4215.3,2425.3 L4215.4,2430.6" fill="none" stroke="#dfe8f6" stroke-width="9" stroke-linecap="butt" filter="url(#soft)"/>
<rect x="4201.4" y="2430" width="28" height="24" fill="#d9e0ea"/>
<rect x="4205.4" y="2454" width="20" height="27" fill="#cfd7e2"/>
<rect x="4189.4" y="2492.2" width="68" height="42.3" fill="#6d7888"/>
<rect x="4227.8" y="2478" width="46" height="74.8" fill="#b8c3d2" opacity="0.85"/>
</svg></body></html>
